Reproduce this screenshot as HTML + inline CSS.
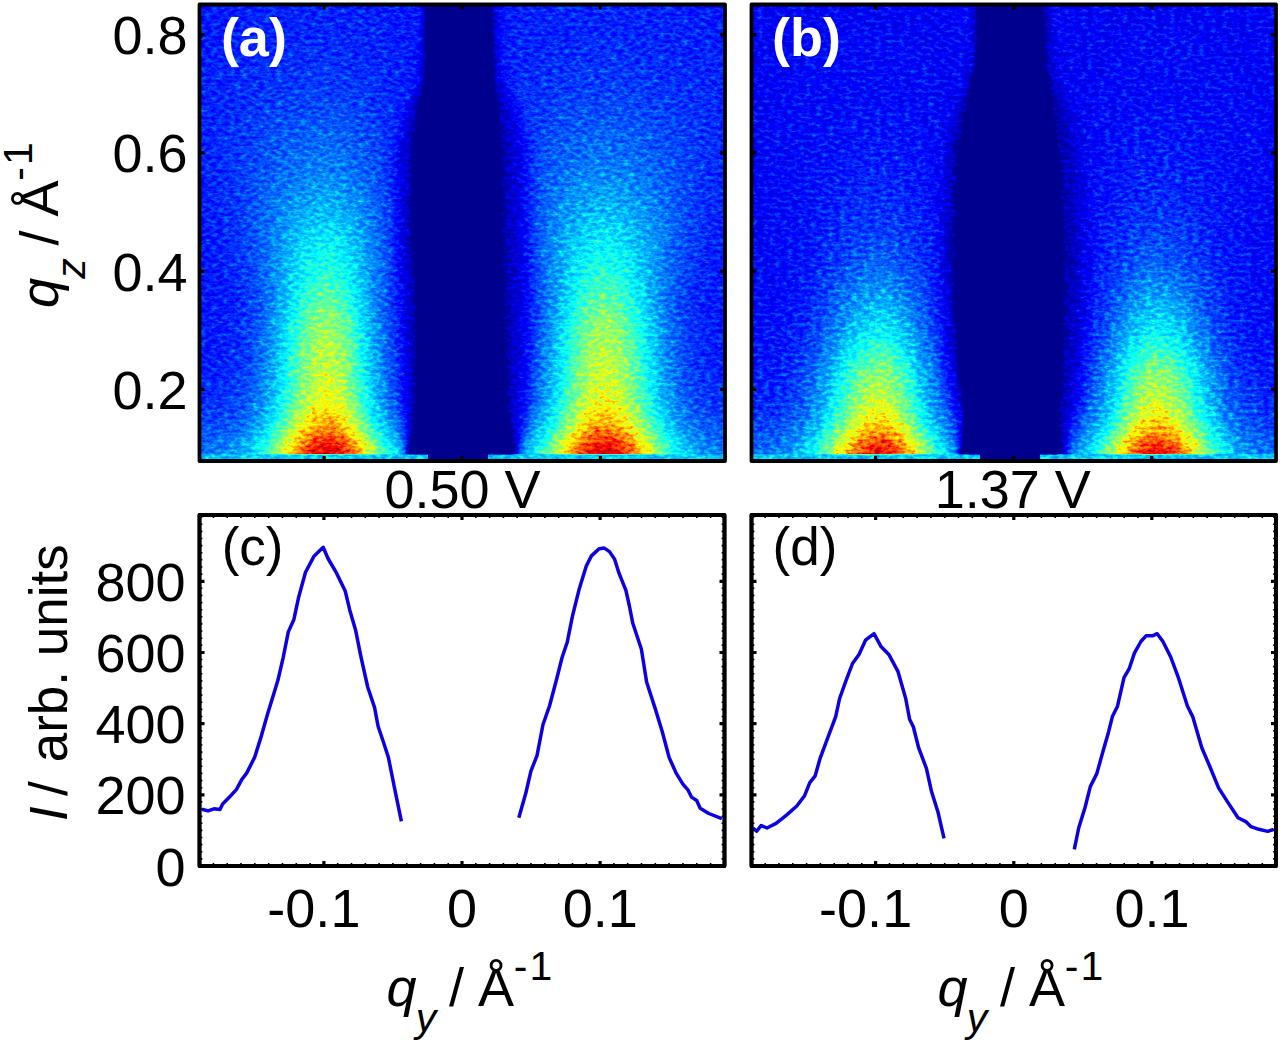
<!DOCTYPE html>
<html><head><meta charset="utf-8"><title>figure</title>
<style>html,body{margin:0;padding:0;background:#fff;}body{width:1280px;height:1042px;overflow:hidden;font-family:"Liberation Sans", sans-serif;}svg{display:block}</style>
</head><body>
<svg width="1280" height="1042" viewBox="0 0 1280 1042" font-family='"Liberation Sans", sans-serif' fill="#000"><defs>
<clipPath id="clipH"><rect x="199.5" y="4.5" width="525.5" height="456.5"/></clipPath>
<filter id="blurG" filterUnits="userSpaceOnUse" x="183.5" y="-11.5" width="560" height="496" color-interpolation-filters="sRGB"><feGaussianBlur stdDeviation="4"/></filter>
<filter id="blurB" filterUnits="userSpaceOnUse" x="183.5" y="-11.5" width="560" height="496" color-interpolation-filters="sRGB"><feGaussianBlur stdDeviation="3.5"/></filter>
<filter id="jetA" filterUnits="userSpaceOnUse" x="183.5" y="-11.5" width="560" height="496" color-interpolation-filters="sRGB">
<feTurbulence type="fractalNoise" baseFrequency="0.17 0.30" numOctaves="3" seed="7" result="t"/>
<feColorMatrix in="t" type="matrix" values="1 0 0 0 0 1 0 0 0 0 1 0 0 0 0 0 0 0 0 1" result="n0"/>
<feComponentTransfer in="n0" result="n"><feFuncR type="gamma" amplitude="1" exponent="1.8" offset="0"/><feFuncG type="gamma" amplitude="1" exponent="1.8" offset="0"/><feFuncB type="gamma" amplitude="1" exponent="1.8" offset="0"/></feComponentTransfer>
<feComposite in="SourceGraphic" in2="n" operator="arithmetic" k1="0.2" k2="0.9390" k3="0.1" k4="-0.0305" result="s"/>
<feComponentTransfer in="s"><feFuncR type="table" tableValues="0 0 0 0 0 0 .5 1 1 1 .5"/><feFuncG type="table" tableValues="0 0 0 0 .5 1 1 1 .5 0 0"/><feFuncB type="table" tableValues=".5625 .5625 .5625 1 1 1 .5 0 0 0 0"/><feFuncA type="linear" slope="0" intercept="1"/></feComponentTransfer>
</filter>
<filter id="jetB" filterUnits="userSpaceOnUse" x="183.5" y="-11.5" width="560" height="496" color-interpolation-filters="sRGB">
<feTurbulence type="fractalNoise" baseFrequency="0.17 0.30" numOctaves="3" seed="23" result="t"/>
<feColorMatrix in="t" type="matrix" values="1 0 0 0 0 1 0 0 0 0 1 0 0 0 0 0 0 0 0 1" result="n0"/>
<feComponentTransfer in="n0" result="n"><feFuncR type="gamma" amplitude="1" exponent="1.8" offset="0"/><feFuncG type="gamma" amplitude="1" exponent="1.8" offset="0"/><feFuncB type="gamma" amplitude="1" exponent="1.8" offset="0"/></feComponentTransfer>
<feComposite in="SourceGraphic" in2="n" operator="arithmetic" k1="0.2" k2="0.9390" k3="0.1" k4="-0.0305" result="s"/>
<feComponentTransfer in="s"><feFuncR type="table" tableValues="0 0 0 0 0 0 .5 1 1 1 .5"/><feFuncG type="table" tableValues="0 0 0 0 .5 1 1 1 .5 0 0"/><feFuncB type="table" tableValues=".5625 .5625 .5625 1 1 1 .5 0 0 0 0"/><feFuncA type="linear" slope="0" intercept="1"/></feComponentTransfer>
</filter>
</defs><g transform="translate(0 0)" clip-path="url(#clipH)">
<g filter="url(#jetA)">
<g filter="url(#blurG)" shape-rendering="crispEdges"><path fill="#3a3a3a" d="M431.5 -11.5h56v8h-56zM431.5 -3.5h56v8h-56zM431.5 4.5h56v8h-56zM431.5 12.5h56v8h-56zM423.5 20.5h64v8h-64zM423.5 28.5h64v8h-64zM423.5 36.5h64v8h-64zM423.5 44.5h64v8h-64zM423.5 52.5h64v8h-64zM423.5 60.5h64v8h-64zM423.5 68.5h72v8h-72zM423.5 76.5h72v8h-72zM423.5 84.5h72v8h-72zM423.5 92.5h72v8h-72zM423.5 100.5h72v8h-72zM415.5 108.5h80v8h-80zM415.5 116.5h80v8h-80zM415.5 124.5h80v8h-80zM415.5 132.5h80v8h-80zM415.5 140.5h88v8h-88zM415.5 148.5h88v8h-88zM415.5 156.5h88v8h-88zM415.5 164.5h88v8h-88zM415.5 172.5h88v8h-88zM415.5 180.5h88v8h-88zM415.5 188.5h88v8h-88zM415.5 196.5h88v8h-88zM415.5 204.5h88v8h-88zM415.5 212.5h88v8h-88zM415.5 220.5h88v8h-88zM415.5 228.5h88v8h-88zM415.5 236.5h88v8h-88zM415.5 244.5h88v8h-88zM415.5 252.5h88v8h-88zM415.5 260.5h88v8h-88zM415.5 268.5h88v8h-88zM415.5 276.5h88v8h-88zM415.5 284.5h88v8h-88zM415.5 292.5h88v8h-88zM415.5 300.5h88v8h-88zM415.5 308.5h88v8h-88zM415.5 316.5h88v8h-88zM415.5 324.5h88v8h-88zM415.5 332.5h88v8h-88zM415.5 340.5h88v8h-88zM415.5 348.5h88v8h-88zM415.5 356.5h88v8h-88zM415.5 364.5h88v8h-88zM415.5 372.5h88v8h-88zM415.5 380.5h88v8h-88zM415.5 388.5h88v8h-88zM415.5 396.5h88v8h-88zM439.5 404.5h40v8h-40z"/><path fill="#3c3c3c" d="M423.5 -11.5h8v8h-8zM423.5 -3.5h8v8h-8zM423.5 4.5h8v8h-8zM423.5 12.5h8v8h-8zM487.5 28.5h8v8h-8zM487.5 36.5h8v8h-8zM487.5 44.5h8v8h-8zM487.5 52.5h8v8h-8zM487.5 60.5h8v8h-8zM415.5 100.5h8v8h-8zM495.5 108.5h8v8h-8zM495.5 116.5h8v8h-8zM495.5 124.5h8v8h-8zM495.5 132.5h8v8h-8zM407.5 140.5h8v8h-8zM407.5 148.5h8v8h-8zM407.5 156.5h8v8h-8zM407.5 164.5h8v8h-8zM407.5 172.5h8v8h-8zM407.5 180.5h8v8h-8zM407.5 188.5h8v8h-8zM407.5 196.5h8v8h-8zM407.5 204.5h8v8h-8zM407.5 212.5h8v8h-8zM407.5 220.5h8v8h-8zM407.5 228.5h8v8h-8zM407.5 236.5h8v8h-8zM503.5 236.5h8v8h-8zM407.5 244.5h8v8h-8zM503.5 244.5h8v8h-8zM407.5 252.5h8v8h-8zM503.5 252.5h8v8h-8zM407.5 260.5h8v8h-8zM503.5 260.5h8v8h-8zM503.5 268.5h8v8h-8zM503.5 276.5h8v8h-8zM503.5 284.5h8v8h-8zM503.5 292.5h8v8h-8zM503.5 300.5h8v8h-8zM503.5 308.5h8v8h-8zM503.5 316.5h8v8h-8zM503.5 324.5h8v8h-8zM503.5 332.5h8v8h-8zM503.5 340.5h8v8h-8zM503.5 348.5h8v8h-8zM503.5 356.5h8v8h-8zM503.5 364.5h8v8h-8zM503.5 372.5h8v8h-8zM503.5 380.5h8v8h-8zM503.5 388.5h8v8h-8zM503.5 396.5h8v8h-8zM415.5 404.5h24v8h-24zM479.5 404.5h32v8h-32zM415.5 412.5h96v8h-96zM415.5 420.5h96v8h-96zM415.5 428.5h88v8h-88zM439.5 436.5h48v8h-48z"/><path fill="#3e3e3e" d="M487.5 4.5h8v8h-8zM487.5 12.5h8v8h-8zM487.5 20.5h8v8h-8zM415.5 92.5h8v8h-8zM495.5 100.5h8v8h-8zM407.5 124.5h8v8h-8zM407.5 132.5h8v8h-8zM503.5 140.5h8v8h-8zM503.5 148.5h8v8h-8zM503.5 156.5h8v8h-8zM503.5 164.5h8v8h-8zM503.5 172.5h8v8h-8zM503.5 180.5h8v8h-8zM503.5 188.5h8v8h-8zM503.5 196.5h8v8h-8zM503.5 204.5h8v8h-8zM503.5 212.5h8v8h-8zM503.5 220.5h8v8h-8zM503.5 228.5h8v8h-8zM407.5 268.5h8v8h-8zM407.5 276.5h8v8h-8zM407.5 284.5h8v8h-8zM407.5 292.5h8v8h-8zM407.5 300.5h8v8h-8zM407.5 308.5h8v8h-8zM407.5 316.5h8v8h-8zM407.5 324.5h8v8h-8zM407.5 332.5h8v8h-8zM503.5 428.5h8v8h-8zM415.5 436.5h24v8h-24zM487.5 436.5h24v8h-24zM415.5 444.5h96v8h-96zM423.5 452.5h80v8h-80zM423.5 460.5h80v8h-80zM423.5 468.5h80v8h-80zM423.5 476.5h80v8h-80z"/><path fill="#404040" d="M487.5 -11.5h8v8h-8zM487.5 -3.5h8v8h-8zM495.5 92.5h8v8h-8zM407.5 116.5h8v8h-8zM503.5 124.5h8v8h-8zM503.5 132.5h8v8h-8zM407.5 340.5h8v8h-8zM407.5 348.5h8v8h-8zM407.5 356.5h8v8h-8zM407.5 364.5h8v8h-8zM407.5 372.5h8v8h-8zM407.5 380.5h8v8h-8zM407.5 388.5h8v8h-8zM407.5 396.5h8v8h-8zM407.5 404.5h8v8h-8zM407.5 412.5h8v8h-8zM407.5 420.5h8v8h-8zM407.5 428.5h8v8h-8zM407.5 436.5h8v8h-8zM407.5 444.5h8v8h-8zM407.5 452.5h16v8h-16zM503.5 452.5h8v8h-8zM407.5 460.5h16v8h-16zM503.5 460.5h8v8h-8zM407.5 468.5h16v8h-16zM503.5 468.5h8v8h-8zM407.5 476.5h16v8h-16zM503.5 476.5h8v8h-8z"/><path fill="#424242" d="M495.5 84.5h8v8h-8zM407.5 108.5h8v8h-8zM503.5 116.5h8v8h-8zM511.5 244.5h8v8h-8zM511.5 252.5h8v8h-8zM511.5 260.5h8v8h-8zM511.5 268.5h8v8h-8zM511.5 276.5h8v8h-8zM511.5 284.5h8v8h-8zM511.5 292.5h8v8h-8zM511.5 300.5h8v8h-8zM511.5 308.5h8v8h-8zM511.5 316.5h8v8h-8zM511.5 324.5h8v8h-8zM511.5 332.5h8v8h-8zM511.5 340.5h8v8h-8zM511.5 348.5h8v8h-8zM511.5 356.5h8v8h-8zM511.5 364.5h8v8h-8zM511.5 372.5h8v8h-8zM511.5 380.5h8v8h-8zM511.5 388.5h8v8h-8zM511.5 396.5h8v8h-8z"/><path fill="#444444" d="M415.5 84.5h8v8h-8zM503.5 108.5h8v8h-8zM399.5 140.5h8v8h-8zM399.5 148.5h8v8h-8zM511.5 148.5h8v8h-8zM399.5 156.5h8v8h-8zM511.5 156.5h8v8h-8zM399.5 164.5h8v8h-8zM511.5 164.5h8v8h-8zM399.5 172.5h8v8h-8zM511.5 172.5h8v8h-8zM399.5 180.5h8v8h-8zM511.5 180.5h8v8h-8zM399.5 188.5h8v8h-8zM511.5 188.5h8v8h-8zM399.5 196.5h8v8h-8zM511.5 196.5h8v8h-8zM399.5 204.5h8v8h-8zM511.5 204.5h8v8h-8zM399.5 212.5h8v8h-8zM511.5 212.5h8v8h-8zM399.5 220.5h8v8h-8zM511.5 220.5h8v8h-8zM399.5 228.5h8v8h-8zM511.5 228.5h8v8h-8zM399.5 236.5h8v8h-8zM511.5 236.5h8v8h-8zM399.5 244.5h8v8h-8zM511.5 404.5h8v8h-8zM511.5 412.5h8v8h-8zM511.5 420.5h8v8h-8z"/><path fill="#464646" d="M407.5 100.5h8v8h-8zM503.5 100.5h8v8h-8zM511.5 140.5h8v8h-8zM399.5 252.5h8v8h-8zM399.5 260.5h8v8h-8zM399.5 268.5h8v8h-8zM511.5 428.5h8v8h-8zM511.5 436.5h8v8h-8zM511.5 444.5h8v8h-8zM511.5 452.5h8v8h-8zM511.5 460.5h8v8h-8zM511.5 468.5h8v8h-8zM511.5 476.5h8v8h-8z"/><path fill="#484848" d="M495.5 76.5h8v8h-8zM511.5 124.5h8v8h-8zM399.5 132.5h8v8h-8zM511.5 132.5h8v8h-8zM399.5 276.5h8v8h-8zM399.5 284.5h8v8h-8zM399.5 292.5h8v8h-8z"/><path fill="#4a4a4a" d="M495.5 68.5h8v8h-8zM503.5 92.5h8v8h-8zM511.5 116.5h8v8h-8zM399.5 124.5h8v8h-8zM519.5 268.5h8v8h-8zM519.5 276.5h8v8h-8zM519.5 284.5h8v8h-8zM519.5 292.5h8v8h-8zM399.5 300.5h8v8h-8zM519.5 300.5h8v8h-8zM399.5 308.5h8v8h-8zM519.5 308.5h8v8h-8zM399.5 316.5h8v8h-8zM519.5 316.5h8v8h-8zM399.5 324.5h8v8h-8zM519.5 324.5h8v8h-8zM399.5 332.5h8v8h-8zM519.5 332.5h8v8h-8zM399.5 340.5h8v8h-8zM519.5 340.5h8v8h-8zM399.5 348.5h8v8h-8zM519.5 348.5h8v8h-8zM519.5 356.5h8v8h-8z"/><path fill="#4c4c4c" d="M495.5 52.5h8v8h-8zM495.5 60.5h8v8h-8zM415.5 76.5h8v8h-8zM407.5 92.5h8v8h-8zM511.5 108.5h8v8h-8zM399.5 116.5h8v8h-8zM519.5 212.5h8v8h-8zM519.5 220.5h8v8h-8zM519.5 228.5h8v8h-8zM519.5 236.5h8v8h-8zM519.5 244.5h8v8h-8zM519.5 252.5h8v8h-8zM519.5 260.5h8v8h-8zM399.5 356.5h8v8h-8zM399.5 364.5h8v8h-8zM519.5 364.5h8v8h-8zM399.5 372.5h8v8h-8zM519.5 372.5h8v8h-8zM399.5 380.5h8v8h-8zM519.5 380.5h8v8h-8zM519.5 388.5h8v8h-8z"/><path fill="#4e4e4e" d="M495.5 36.5h8v8h-8zM495.5 44.5h8v8h-8zM415.5 60.5h8v8h-8zM415.5 68.5h8v8h-8zM399.5 108.5h8v8h-8zM519.5 140.5h8v8h-8zM391.5 148.5h8v8h-8zM519.5 148.5h8v8h-8zM391.5 156.5h8v8h-8zM519.5 156.5h8v8h-8zM391.5 164.5h8v8h-8zM519.5 164.5h8v8h-8zM391.5 172.5h8v8h-8zM519.5 172.5h8v8h-8zM519.5 180.5h8v8h-8zM519.5 188.5h8v8h-8zM519.5 196.5h8v8h-8zM519.5 204.5h8v8h-8zM399.5 388.5h8v8h-8zM399.5 396.5h8v8h-8zM519.5 396.5h8v8h-8z"/><path fill="#505050" d="M495.5 20.5h8v8h-8zM495.5 28.5h8v8h-8zM415.5 44.5h8v8h-8zM415.5 52.5h8v8h-8zM503.5 84.5h8v8h-8zM511.5 100.5h8v8h-8zM519.5 132.5h8v8h-8zM391.5 140.5h8v8h-8zM391.5 180.5h8v8h-8zM391.5 188.5h8v8h-8zM391.5 196.5h8v8h-8zM391.5 204.5h8v8h-8zM391.5 212.5h8v8h-8zM391.5 220.5h8v8h-8zM391.5 228.5h8v8h-8zM391.5 236.5h8v8h-8zM183.5 268.5h16v8h-16zM183.5 276.5h16v8h-16zM183.5 284.5h24v8h-24zM183.5 292.5h24v8h-24zM183.5 300.5h24v8h-24zM183.5 308.5h16v8h-16zM399.5 404.5h8v8h-8zM519.5 404.5h8v8h-8z"/><path fill="#525252" d="M183.5 -11.5h72v8h-72zM367.5 -11.5h56v8h-56zM495.5 -11.5h40v8h-40zM679.5 -11.5h64v8h-64zM183.5 -3.5h72v8h-72zM367.5 -3.5h56v8h-56zM495.5 -3.5h40v8h-40zM679.5 -3.5h64v8h-64zM183.5 4.5h64v8h-64zM367.5 4.5h56v8h-56zM495.5 4.5h32v8h-32zM679.5 4.5h64v8h-64zM183.5 12.5h56v8h-56zM375.5 12.5h48v8h-48zM495.5 12.5h24v8h-24zM695.5 12.5h48v8h-48zM183.5 20.5h48v8h-48zM383.5 20.5h40v8h-40zM503.5 20.5h8v8h-8zM703.5 20.5h40v8h-40zM183.5 28.5h40v8h-40zM383.5 28.5h40v8h-40zM711.5 28.5h32v8h-32zM183.5 36.5h40v8h-40zM391.5 36.5h32v8h-32zM711.5 36.5h32v8h-32zM183.5 44.5h32v8h-32zM391.5 44.5h24v8h-24zM719.5 44.5h24v8h-24zM183.5 52.5h24v8h-24zM399.5 52.5h16v8h-16zM183.5 60.5h24v8h-24zM399.5 60.5h16v8h-16zM183.5 68.5h16v8h-16zM407.5 68.5h8v8h-8zM407.5 76.5h8v8h-8zM407.5 84.5h8v8h-8zM399.5 100.5h8v8h-8zM519.5 124.5h8v8h-8zM391.5 132.5h8v8h-8zM183.5 172.5h16v8h-16zM183.5 180.5h16v8h-16zM183.5 188.5h24v8h-24zM183.5 196.5h24v8h-24zM183.5 204.5h24v8h-24zM183.5 212.5h24v8h-24zM183.5 220.5h24v8h-24zM183.5 228.5h32v8h-32zM719.5 228.5h24v8h-24zM183.5 236.5h32v8h-32zM719.5 236.5h24v8h-24zM183.5 244.5h32v8h-32zM391.5 244.5h8v8h-8zM719.5 244.5h24v8h-24zM183.5 252.5h32v8h-32zM391.5 252.5h8v8h-8zM719.5 252.5h24v8h-24zM183.5 260.5h40v8h-40zM391.5 260.5h8v8h-8zM711.5 260.5h32v8h-32zM199.5 268.5h24v8h-24zM391.5 268.5h8v8h-8zM711.5 268.5h32v8h-32zM199.5 276.5h24v8h-24zM711.5 276.5h32v8h-32zM207.5 284.5h16v8h-16zM711.5 284.5h32v8h-32zM207.5 292.5h24v8h-24zM703.5 292.5h40v8h-40zM207.5 300.5h24v8h-24zM703.5 300.5h40v8h-40zM199.5 308.5h32v8h-32zM703.5 308.5h40v8h-40zM183.5 316.5h40v8h-40zM711.5 316.5h32v8h-32zM183.5 324.5h40v8h-40zM711.5 324.5h32v8h-32zM183.5 332.5h40v8h-40zM711.5 332.5h32v8h-32zM183.5 340.5h40v8h-40zM711.5 340.5h32v8h-32zM183.5 348.5h40v8h-40zM711.5 348.5h32v8h-32zM183.5 356.5h32v8h-32zM719.5 356.5h24v8h-24zM183.5 364.5h24v8h-24zM519.5 412.5h8v8h-8z"/><path fill="#545454" d="M255.5 -11.5h112v8h-112zM535.5 -11.5h144v8h-144zM255.5 -3.5h112v8h-112zM535.5 -3.5h144v8h-144zM247.5 4.5h120v8h-120zM527.5 4.5h152v8h-152zM239.5 12.5h136v8h-136zM519.5 12.5h176v8h-176zM231.5 20.5h152v8h-152zM511.5 20.5h192v8h-192zM223.5 28.5h160v8h-160zM503.5 28.5h208v8h-208zM223.5 36.5h72v8h-72zM343.5 36.5h48v8h-48zM503.5 36.5h72v8h-72zM631.5 36.5h80v8h-80zM215.5 44.5h64v8h-64zM351.5 44.5h40v8h-40zM503.5 44.5h56v8h-56zM655.5 44.5h64v8h-64zM207.5 52.5h56v8h-56zM367.5 52.5h32v8h-32zM503.5 52.5h40v8h-40zM671.5 52.5h72v8h-72zM207.5 60.5h40v8h-40zM375.5 60.5h24v8h-24zM503.5 60.5h24v8h-24zM687.5 60.5h56v8h-56zM199.5 68.5h40v8h-40zM383.5 68.5h24v8h-24zM503.5 68.5h16v8h-16zM695.5 68.5h48v8h-48zM183.5 76.5h48v8h-48zM383.5 76.5h24v8h-24zM503.5 76.5h8v8h-8zM703.5 76.5h40v8h-40zM183.5 84.5h48v8h-48zM391.5 84.5h16v8h-16zM703.5 84.5h40v8h-40zM183.5 92.5h48v8h-48zM391.5 92.5h16v8h-16zM511.5 92.5h8v8h-8zM711.5 92.5h32v8h-32zM183.5 100.5h40v8h-40zM391.5 100.5h8v8h-8zM711.5 100.5h32v8h-32zM183.5 108.5h40v8h-40zM719.5 108.5h24v8h-24zM183.5 116.5h32v8h-32zM519.5 116.5h8v8h-8zM719.5 116.5h24v8h-24zM183.5 124.5h32v8h-32zM391.5 124.5h8v8h-8zM719.5 124.5h24v8h-24zM183.5 132.5h32v8h-32zM719.5 132.5h24v8h-24zM183.5 140.5h32v8h-32zM719.5 140.5h24v8h-24zM183.5 148.5h32v8h-32zM719.5 148.5h24v8h-24zM183.5 156.5h32v8h-32zM719.5 156.5h24v8h-24zM183.5 164.5h32v8h-32zM719.5 164.5h24v8h-24zM199.5 172.5h16v8h-16zM719.5 172.5h24v8h-24zM199.5 180.5h16v8h-16zM719.5 180.5h24v8h-24zM207.5 188.5h8v8h-8zM719.5 188.5h24v8h-24zM207.5 196.5h8v8h-8zM719.5 196.5h24v8h-24zM207.5 204.5h16v8h-16zM711.5 204.5h32v8h-32zM207.5 212.5h16v8h-16zM711.5 212.5h32v8h-32zM207.5 220.5h16v8h-16zM711.5 220.5h32v8h-32zM215.5 228.5h8v8h-8zM711.5 228.5h8v8h-8zM215.5 236.5h8v8h-8zM711.5 236.5h8v8h-8zM215.5 244.5h16v8h-16zM703.5 244.5h16v8h-16zM215.5 252.5h16v8h-16zM703.5 252.5h16v8h-16zM223.5 260.5h8v8h-8zM703.5 260.5h8v8h-8zM223.5 268.5h8v8h-8zM527.5 268.5h8v8h-8zM703.5 268.5h8v8h-8zM223.5 276.5h8v8h-8zM391.5 276.5h8v8h-8zM527.5 276.5h8v8h-8zM703.5 276.5h8v8h-8zM223.5 284.5h16v8h-16zM391.5 284.5h8v8h-8zM527.5 284.5h8v8h-8zM695.5 284.5h16v8h-16zM231.5 292.5h8v8h-8zM391.5 292.5h8v8h-8zM527.5 292.5h8v8h-8zM695.5 292.5h8v8h-8zM231.5 300.5h8v8h-8zM391.5 300.5h8v8h-8zM527.5 300.5h8v8h-8zM695.5 300.5h8v8h-8zM231.5 308.5h8v8h-8zM527.5 308.5h8v8h-8zM695.5 308.5h8v8h-8zM223.5 316.5h16v8h-16zM527.5 316.5h8v8h-8zM695.5 316.5h16v8h-16zM223.5 324.5h16v8h-16zM527.5 324.5h8v8h-8zM695.5 324.5h16v8h-16zM223.5 332.5h8v8h-8zM527.5 332.5h8v8h-8zM703.5 332.5h8v8h-8zM223.5 340.5h8v8h-8zM703.5 340.5h8v8h-8zM223.5 348.5h8v8h-8zM703.5 348.5h8v8h-8zM215.5 356.5h16v8h-16zM703.5 356.5h16v8h-16zM207.5 364.5h16v8h-16zM711.5 364.5h32v8h-32zM183.5 372.5h40v8h-40zM711.5 372.5h32v8h-32zM183.5 380.5h32v8h-32zM719.5 380.5h24v8h-24zM183.5 388.5h24v8h-24zM399.5 412.5h8v8h-8z"/><path fill="#565656" d="M295.5 36.5h48v8h-48zM575.5 36.5h56v8h-56zM279.5 44.5h72v8h-72zM559.5 44.5h96v8h-96zM263.5 52.5h104v8h-104zM543.5 52.5h128v8h-128zM247.5 60.5h64v8h-64zM335.5 60.5h40v8h-40zM527.5 60.5h56v8h-56zM623.5 60.5h64v8h-64zM239.5 68.5h40v8h-40zM351.5 68.5h32v8h-32zM519.5 68.5h40v8h-40zM647.5 68.5h48v8h-48zM231.5 76.5h40v8h-40zM367.5 76.5h16v8h-16zM511.5 76.5h32v8h-32zM663.5 76.5h40v8h-40zM231.5 84.5h32v8h-32zM367.5 84.5h24v8h-24zM511.5 84.5h24v8h-24zM671.5 84.5h32v8h-32zM231.5 92.5h24v8h-24zM375.5 92.5h16v8h-16zM519.5 92.5h16v8h-16zM679.5 92.5h32v8h-32zM223.5 100.5h24v8h-24zM375.5 100.5h16v8h-16zM519.5 100.5h8v8h-8zM687.5 100.5h24v8h-24zM223.5 108.5h16v8h-16zM383.5 108.5h16v8h-16zM519.5 108.5h8v8h-8zM695.5 108.5h24v8h-24zM215.5 116.5h24v8h-24zM383.5 116.5h16v8h-16zM695.5 116.5h24v8h-24zM215.5 124.5h16v8h-16zM703.5 124.5h16v8h-16zM215.5 132.5h16v8h-16zM703.5 132.5h16v8h-16zM215.5 140.5h16v8h-16zM527.5 140.5h8v8h-8zM703.5 140.5h16v8h-16zM215.5 148.5h16v8h-16zM527.5 148.5h8v8h-8zM703.5 148.5h16v8h-16zM215.5 156.5h16v8h-16zM527.5 156.5h8v8h-8zM703.5 156.5h16v8h-16zM215.5 164.5h16v8h-16zM527.5 164.5h8v8h-8zM703.5 164.5h16v8h-16zM215.5 172.5h16v8h-16zM527.5 172.5h8v8h-8zM703.5 172.5h16v8h-16zM215.5 180.5h16v8h-16zM527.5 180.5h8v8h-8zM703.5 180.5h16v8h-16zM215.5 188.5h16v8h-16zM527.5 188.5h8v8h-8zM703.5 188.5h16v8h-16zM215.5 196.5h16v8h-16zM527.5 196.5h8v8h-8zM703.5 196.5h16v8h-16zM223.5 204.5h8v8h-8zM527.5 204.5h8v8h-8zM703.5 204.5h8v8h-8zM223.5 212.5h8v8h-8zM527.5 212.5h8v8h-8zM703.5 212.5h8v8h-8zM223.5 220.5h8v8h-8zM527.5 220.5h8v8h-8zM703.5 220.5h8v8h-8zM223.5 228.5h8v8h-8zM527.5 228.5h8v8h-8zM703.5 228.5h8v8h-8zM223.5 236.5h8v8h-8zM527.5 236.5h8v8h-8zM703.5 236.5h8v8h-8zM231.5 244.5h8v8h-8zM527.5 244.5h8v8h-8zM695.5 244.5h8v8h-8zM231.5 252.5h8v8h-8zM527.5 252.5h8v8h-8zM695.5 252.5h8v8h-8zM231.5 260.5h8v8h-8zM527.5 260.5h8v8h-8zM695.5 260.5h8v8h-8zM231.5 268.5h8v8h-8zM695.5 268.5h8v8h-8zM231.5 276.5h8v8h-8zM695.5 276.5h8v8h-8zM687.5 284.5h8v8h-8zM239.5 292.5h8v8h-8zM687.5 292.5h8v8h-8zM239.5 300.5h8v8h-8zM687.5 300.5h8v8h-8zM239.5 308.5h8v8h-8zM391.5 308.5h8v8h-8zM687.5 308.5h8v8h-8zM391.5 316.5h8v8h-8zM391.5 324.5h8v8h-8zM231.5 332.5h8v8h-8zM391.5 332.5h8v8h-8zM695.5 332.5h8v8h-8zM231.5 340.5h8v8h-8zM527.5 340.5h8v8h-8zM695.5 340.5h8v8h-8zM231.5 348.5h8v8h-8zM527.5 348.5h8v8h-8zM695.5 348.5h8v8h-8zM231.5 356.5h8v8h-8zM527.5 356.5h8v8h-8zM695.5 356.5h8v8h-8zM223.5 364.5h16v8h-16zM695.5 364.5h16v8h-16zM223.5 372.5h8v8h-8zM703.5 372.5h8v8h-8zM215.5 380.5h16v8h-16zM703.5 380.5h16v8h-16zM207.5 388.5h16v8h-16zM711.5 388.5h32v8h-32zM183.5 396.5h40v8h-40zM711.5 396.5h32v8h-32zM519.5 420.5h8v8h-8z"/><path fill="#585858" d="M311.5 60.5h24v8h-24zM583.5 60.5h40v8h-40zM279.5 68.5h72v8h-72zM559.5 68.5h88v8h-88zM271.5 76.5h96v8h-96zM543.5 76.5h120v8h-120zM263.5 84.5h32v8h-32zM343.5 84.5h24v8h-24zM535.5 84.5h40v8h-40zM631.5 84.5h40v8h-40zM255.5 92.5h24v8h-24zM351.5 92.5h24v8h-24zM535.5 92.5h24v8h-24zM647.5 92.5h32v8h-32zM247.5 100.5h24v8h-24zM367.5 100.5h8v8h-8zM527.5 100.5h24v8h-24zM663.5 100.5h24v8h-24zM239.5 108.5h24v8h-24zM367.5 108.5h16v8h-16zM527.5 108.5h8v8h-8zM671.5 108.5h24v8h-24zM239.5 116.5h16v8h-16zM375.5 116.5h8v8h-8zM527.5 116.5h8v8h-8zM679.5 116.5h16v8h-16zM231.5 124.5h16v8h-16zM375.5 124.5h16v8h-16zM527.5 124.5h8v8h-8zM687.5 124.5h16v8h-16zM231.5 132.5h16v8h-16zM383.5 132.5h8v8h-8zM527.5 132.5h8v8h-8zM687.5 132.5h16v8h-16zM231.5 140.5h16v8h-16zM383.5 140.5h8v8h-8zM687.5 140.5h16v8h-16zM231.5 148.5h8v8h-8zM383.5 148.5h8v8h-8zM695.5 148.5h8v8h-8zM231.5 156.5h8v8h-8zM383.5 156.5h8v8h-8zM695.5 156.5h8v8h-8zM231.5 164.5h8v8h-8zM383.5 164.5h8v8h-8zM695.5 164.5h8v8h-8zM231.5 172.5h8v8h-8zM383.5 172.5h8v8h-8zM695.5 172.5h8v8h-8zM231.5 180.5h8v8h-8zM695.5 180.5h8v8h-8zM231.5 188.5h8v8h-8zM695.5 188.5h8v8h-8zM231.5 196.5h8v8h-8zM695.5 196.5h8v8h-8zM231.5 204.5h8v8h-8zM695.5 204.5h8v8h-8zM231.5 212.5h8v8h-8zM695.5 212.5h8v8h-8zM231.5 220.5h8v8h-8zM695.5 220.5h8v8h-8zM231.5 228.5h8v8h-8zM695.5 228.5h8v8h-8zM231.5 236.5h8v8h-8zM695.5 236.5h8v8h-8zM239.5 252.5h8v8h-8zM687.5 252.5h8v8h-8zM239.5 260.5h8v8h-8zM687.5 260.5h8v8h-8zM239.5 268.5h8v8h-8zM687.5 268.5h8v8h-8zM239.5 276.5h8v8h-8zM687.5 276.5h8v8h-8zM239.5 284.5h8v8h-8zM239.5 316.5h8v8h-8zM687.5 316.5h8v8h-8zM239.5 324.5h8v8h-8zM687.5 324.5h8v8h-8zM239.5 332.5h8v8h-8zM687.5 332.5h8v8h-8zM239.5 340.5h8v8h-8zM391.5 340.5h8v8h-8zM687.5 340.5h8v8h-8zM239.5 348.5h8v8h-8zM391.5 348.5h8v8h-8zM687.5 348.5h8v8h-8zM239.5 356.5h8v8h-8zM391.5 356.5h8v8h-8zM687.5 356.5h8v8h-8zM527.5 364.5h8v8h-8zM231.5 372.5h8v8h-8zM527.5 372.5h8v8h-8zM695.5 372.5h8v8h-8zM231.5 380.5h8v8h-8zM527.5 380.5h8v8h-8zM695.5 380.5h8v8h-8zM223.5 388.5h8v8h-8zM703.5 388.5h8v8h-8zM223.5 396.5h8v8h-8zM703.5 396.5h8v8h-8zM183.5 404.5h40v8h-40zM711.5 404.5h32v8h-32zM399.5 420.5h8v8h-8z"/><path fill="#5a5a5a" d="M295.5 84.5h48v8h-48zM575.5 84.5h56v8h-56zM279.5 92.5h72v8h-72zM559.5 92.5h88v8h-88zM271.5 100.5h32v8h-32zM343.5 100.5h24v8h-24zM551.5 100.5h24v8h-24zM631.5 100.5h32v8h-32zM263.5 108.5h16v8h-16zM359.5 108.5h8v8h-8zM535.5 108.5h24v8h-24zM647.5 108.5h24v8h-24zM255.5 116.5h16v8h-16zM367.5 116.5h8v8h-8zM535.5 116.5h16v8h-16zM663.5 116.5h16v8h-16zM247.5 124.5h16v8h-16zM367.5 124.5h8v8h-8zM535.5 124.5h8v8h-8zM671.5 124.5h16v8h-16zM247.5 132.5h16v8h-16zM375.5 132.5h8v8h-8zM671.5 132.5h16v8h-16zM247.5 140.5h8v8h-8zM375.5 140.5h8v8h-8zM679.5 140.5h8v8h-8zM239.5 148.5h16v8h-16zM375.5 148.5h8v8h-8zM679.5 148.5h16v8h-16zM239.5 156.5h16v8h-16zM679.5 156.5h16v8h-16zM239.5 164.5h8v8h-8zM679.5 164.5h16v8h-16zM239.5 172.5h8v8h-8zM687.5 172.5h8v8h-8zM239.5 180.5h8v8h-8zM383.5 180.5h8v8h-8zM687.5 180.5h8v8h-8zM239.5 188.5h8v8h-8zM383.5 188.5h8v8h-8zM687.5 188.5h8v8h-8zM239.5 196.5h8v8h-8zM383.5 196.5h8v8h-8zM687.5 196.5h8v8h-8zM239.5 204.5h8v8h-8zM383.5 204.5h8v8h-8zM687.5 204.5h8v8h-8zM239.5 212.5h8v8h-8zM687.5 212.5h8v8h-8zM239.5 220.5h8v8h-8zM687.5 220.5h8v8h-8zM239.5 228.5h8v8h-8zM687.5 228.5h8v8h-8zM239.5 236.5h8v8h-8zM687.5 236.5h8v8h-8zM239.5 244.5h8v8h-8zM687.5 244.5h8v8h-8zM247.5 276.5h8v8h-8zM679.5 276.5h8v8h-8zM247.5 284.5h8v8h-8zM679.5 284.5h8v8h-8zM247.5 292.5h8v8h-8zM679.5 292.5h8v8h-8zM247.5 300.5h8v8h-8zM679.5 300.5h8v8h-8zM247.5 308.5h8v8h-8zM679.5 308.5h8v8h-8zM247.5 316.5h8v8h-8zM679.5 316.5h8v8h-8zM679.5 324.5h8v8h-8zM239.5 364.5h8v8h-8zM391.5 364.5h8v8h-8zM687.5 364.5h8v8h-8zM239.5 372.5h8v8h-8zM391.5 372.5h8v8h-8zM687.5 372.5h8v8h-8zM391.5 380.5h8v8h-8zM231.5 388.5h8v8h-8zM527.5 388.5h8v8h-8zM695.5 388.5h8v8h-8zM231.5 396.5h8v8h-8zM527.5 396.5h8v8h-8zM695.5 396.5h8v8h-8zM223.5 404.5h8v8h-8zM703.5 404.5h8v8h-8zM183.5 412.5h40v8h-40zM711.5 412.5h32v8h-32z"/><path fill="#5c5c5c" d="M303.5 100.5h40v8h-40zM575.5 100.5h56v8h-56zM279.5 108.5h80v8h-80zM559.5 108.5h88v8h-88zM271.5 116.5h24v8h-24zM351.5 116.5h16v8h-16zM551.5 116.5h16v8h-16zM639.5 116.5h24v8h-24zM263.5 124.5h16v8h-16zM359.5 124.5h8v8h-8zM543.5 124.5h16v8h-16zM647.5 124.5h24v8h-24zM263.5 132.5h8v8h-8zM359.5 132.5h16v8h-16zM535.5 132.5h16v8h-16zM655.5 132.5h16v8h-16zM255.5 140.5h16v8h-16zM367.5 140.5h8v8h-8zM535.5 140.5h8v8h-8zM663.5 140.5h16v8h-16zM255.5 148.5h8v8h-8zM367.5 148.5h8v8h-8zM535.5 148.5h8v8h-8zM671.5 148.5h8v8h-8zM255.5 156.5h8v8h-8zM375.5 156.5h8v8h-8zM535.5 156.5h8v8h-8zM671.5 156.5h8v8h-8zM247.5 164.5h16v8h-16zM375.5 164.5h8v8h-8zM535.5 164.5h8v8h-8zM671.5 164.5h8v8h-8zM247.5 172.5h8v8h-8zM375.5 172.5h8v8h-8zM679.5 172.5h8v8h-8zM247.5 180.5h8v8h-8zM679.5 180.5h8v8h-8zM247.5 188.5h8v8h-8zM679.5 188.5h8v8h-8zM247.5 196.5h8v8h-8zM679.5 196.5h8v8h-8zM247.5 204.5h8v8h-8zM679.5 204.5h8v8h-8zM383.5 212.5h8v8h-8zM679.5 212.5h8v8h-8zM383.5 220.5h8v8h-8zM679.5 220.5h8v8h-8zM247.5 228.5h8v8h-8zM383.5 228.5h8v8h-8zM679.5 228.5h8v8h-8zM247.5 236.5h8v8h-8zM383.5 236.5h8v8h-8zM679.5 236.5h8v8h-8zM247.5 244.5h8v8h-8zM383.5 244.5h8v8h-8zM679.5 244.5h8v8h-8zM247.5 252.5h8v8h-8zM679.5 252.5h8v8h-8zM247.5 260.5h8v8h-8zM679.5 260.5h8v8h-8zM247.5 268.5h8v8h-8zM679.5 268.5h8v8h-8zM383.5 292.5h8v8h-8zM383.5 300.5h8v8h-8zM247.5 324.5h8v8h-8zM247.5 332.5h8v8h-8zM679.5 332.5h8v8h-8zM247.5 340.5h8v8h-8zM679.5 340.5h8v8h-8zM247.5 348.5h8v8h-8zM679.5 348.5h8v8h-8zM247.5 356.5h8v8h-8zM679.5 356.5h8v8h-8zM239.5 380.5h8v8h-8zM687.5 380.5h8v8h-8zM239.5 388.5h8v8h-8zM391.5 388.5h8v8h-8zM687.5 388.5h8v8h-8zM687.5 396.5h8v8h-8zM231.5 404.5h8v8h-8zM695.5 404.5h8v8h-8zM223.5 412.5h8v8h-8zM703.5 412.5h8v8h-8zM183.5 420.5h40v8h-40zM719.5 420.5h24v8h-24zM399.5 428.5h8v8h-8zM519.5 428.5h8v8h-8z"/><path fill="#5e5e5e" d="M295.5 116.5h56v8h-56zM567.5 116.5h72v8h-72zM279.5 124.5h24v8h-24zM343.5 124.5h16v8h-16zM559.5 124.5h24v8h-24zM623.5 124.5h24v8h-24zM271.5 132.5h16v8h-16zM351.5 132.5h8v8h-8zM551.5 132.5h16v8h-16zM639.5 132.5h16v8h-16zM271.5 140.5h8v8h-8zM359.5 140.5h8v8h-8zM543.5 140.5h16v8h-16zM647.5 140.5h16v8h-16zM263.5 148.5h16v8h-16zM359.5 148.5h8v8h-8zM543.5 148.5h8v8h-8zM655.5 148.5h16v8h-16zM263.5 156.5h8v8h-8zM367.5 156.5h8v8h-8zM543.5 156.5h8v8h-8zM663.5 156.5h8v8h-8zM263.5 164.5h8v8h-8zM367.5 164.5h8v8h-8zM663.5 164.5h8v8h-8zM255.5 172.5h8v8h-8zM535.5 172.5h8v8h-8zM671.5 172.5h8v8h-8zM255.5 180.5h8v8h-8zM375.5 180.5h8v8h-8zM535.5 180.5h8v8h-8zM671.5 180.5h8v8h-8zM255.5 188.5h8v8h-8zM375.5 188.5h8v8h-8zM535.5 188.5h8v8h-8zM671.5 188.5h8v8h-8zM375.5 196.5h8v8h-8zM535.5 196.5h8v8h-8zM247.5 212.5h8v8h-8zM247.5 220.5h8v8h-8zM383.5 252.5h8v8h-8zM383.5 260.5h8v8h-8zM383.5 268.5h8v8h-8zM535.5 268.5h8v8h-8zM671.5 268.5h8v8h-8zM383.5 276.5h8v8h-8zM535.5 276.5h8v8h-8zM671.5 276.5h8v8h-8zM255.5 284.5h8v8h-8zM383.5 284.5h8v8h-8zM535.5 284.5h8v8h-8zM671.5 284.5h8v8h-8zM255.5 292.5h8v8h-8zM535.5 292.5h8v8h-8zM671.5 292.5h8v8h-8zM255.5 300.5h8v8h-8zM535.5 300.5h8v8h-8zM671.5 300.5h8v8h-8zM255.5 308.5h8v8h-8zM383.5 308.5h8v8h-8zM535.5 308.5h8v8h-8zM671.5 308.5h8v8h-8zM383.5 316.5h8v8h-8zM671.5 316.5h8v8h-8zM383.5 324.5h8v8h-8zM247.5 364.5h8v8h-8zM679.5 364.5h8v8h-8zM247.5 372.5h8v8h-8zM679.5 372.5h8v8h-8zM679.5 380.5h8v8h-8zM239.5 396.5h8v8h-8zM391.5 396.5h8v8h-8zM527.5 404.5h8v8h-8zM231.5 412.5h8v8h-8zM695.5 412.5h8v8h-8zM223.5 420.5h8v8h-8zM703.5 420.5h16v8h-16zM183.5 428.5h32v8h-32zM719.5 428.5h24v8h-24z"/><path fill="#606060" d="M303.5 124.5h40v8h-40zM583.5 124.5h40v8h-40zM287.5 132.5h32v8h-32zM335.5 132.5h16v8h-16zM567.5 132.5h24v8h-24zM615.5 132.5h24v8h-24zM279.5 140.5h16v8h-16zM343.5 140.5h16v8h-16zM559.5 140.5h16v8h-16zM631.5 140.5h16v8h-16zM279.5 148.5h8v8h-8zM351.5 148.5h8v8h-8zM551.5 148.5h16v8h-16zM639.5 148.5h16v8h-16zM271.5 156.5h16v8h-16zM359.5 156.5h8v8h-8zM551.5 156.5h8v8h-8zM647.5 156.5h16v8h-16zM271.5 164.5h8v8h-8zM359.5 164.5h8v8h-8zM543.5 164.5h16v8h-16zM655.5 164.5h8v8h-8zM263.5 172.5h8v8h-8zM367.5 172.5h8v8h-8zM543.5 172.5h8v8h-8zM663.5 172.5h8v8h-8zM263.5 180.5h8v8h-8zM367.5 180.5h8v8h-8zM663.5 180.5h8v8h-8zM663.5 188.5h8v8h-8zM255.5 196.5h8v8h-8zM671.5 196.5h8v8h-8zM255.5 204.5h8v8h-8zM375.5 204.5h8v8h-8zM535.5 204.5h8v8h-8zM671.5 204.5h8v8h-8zM255.5 212.5h8v8h-8zM375.5 212.5h8v8h-8zM535.5 212.5h8v8h-8zM671.5 212.5h8v8h-8zM255.5 220.5h8v8h-8zM535.5 220.5h8v8h-8zM671.5 220.5h8v8h-8zM255.5 228.5h8v8h-8zM535.5 228.5h8v8h-8zM671.5 228.5h8v8h-8zM255.5 236.5h8v8h-8zM535.5 236.5h8v8h-8zM671.5 236.5h8v8h-8zM255.5 244.5h8v8h-8zM535.5 244.5h8v8h-8zM671.5 244.5h8v8h-8zM255.5 252.5h8v8h-8zM535.5 252.5h8v8h-8zM671.5 252.5h8v8h-8zM255.5 260.5h8v8h-8zM535.5 260.5h8v8h-8zM671.5 260.5h8v8h-8zM255.5 268.5h8v8h-8zM255.5 276.5h8v8h-8zM255.5 316.5h8v8h-8zM535.5 316.5h8v8h-8zM255.5 324.5h8v8h-8zM535.5 324.5h8v8h-8zM671.5 324.5h8v8h-8zM255.5 332.5h8v8h-8zM383.5 332.5h8v8h-8zM535.5 332.5h8v8h-8zM671.5 332.5h8v8h-8zM383.5 340.5h8v8h-8zM671.5 340.5h8v8h-8zM383.5 348.5h8v8h-8zM671.5 348.5h8v8h-8zM383.5 356.5h8v8h-8zM247.5 380.5h8v8h-8zM247.5 388.5h8v8h-8zM679.5 388.5h8v8h-8zM239.5 404.5h8v8h-8zM391.5 404.5h8v8h-8zM687.5 404.5h8v8h-8zM231.5 420.5h8v8h-8zM695.5 420.5h8v8h-8zM215.5 428.5h8v8h-8zM711.5 428.5h8v8h-8zM183.5 436.5h24v8h-24z"/><path fill="#626262" d="M319.5 132.5h16v8h-16zM591.5 132.5h24v8h-24zM295.5 140.5h48v8h-48zM575.5 140.5h56v8h-56zM287.5 148.5h16v8h-16zM343.5 148.5h8v8h-8zM567.5 148.5h16v8h-16zM623.5 148.5h16v8h-16zM287.5 156.5h8v8h-8zM351.5 156.5h8v8h-8zM559.5 156.5h16v8h-16zM639.5 156.5h8v8h-8zM279.5 164.5h8v8h-8zM351.5 164.5h8v8h-8zM559.5 164.5h8v8h-8zM639.5 164.5h16v8h-16zM271.5 172.5h8v8h-8zM359.5 172.5h8v8h-8zM551.5 172.5h8v8h-8zM647.5 172.5h16v8h-16zM271.5 180.5h8v8h-8zM543.5 180.5h8v8h-8zM655.5 180.5h8v8h-8zM263.5 188.5h8v8h-8zM367.5 188.5h8v8h-8zM543.5 188.5h8v8h-8zM263.5 196.5h8v8h-8zM367.5 196.5h8v8h-8zM543.5 196.5h8v8h-8zM663.5 196.5h8v8h-8zM263.5 204.5h8v8h-8zM663.5 204.5h8v8h-8zM663.5 212.5h8v8h-8zM375.5 220.5h8v8h-8zM375.5 228.5h8v8h-8zM375.5 236.5h8v8h-8zM375.5 244.5h8v8h-8zM375.5 252.5h8v8h-8zM375.5 268.5h8v8h-8zM375.5 292.5h8v8h-8zM663.5 292.5h8v8h-8zM663.5 300.5h8v8h-8zM255.5 340.5h8v8h-8zM535.5 340.5h8v8h-8zM255.5 348.5h8v8h-8zM535.5 348.5h8v8h-8zM255.5 356.5h8v8h-8zM535.5 356.5h8v8h-8zM671.5 356.5h8v8h-8zM383.5 364.5h8v8h-8zM671.5 364.5h8v8h-8zM383.5 372.5h8v8h-8zM247.5 396.5h8v8h-8zM679.5 396.5h8v8h-8zM239.5 412.5h8v8h-8zM687.5 412.5h8v8h-8zM223.5 428.5h8v8h-8zM703.5 428.5h8v8h-8zM207.5 436.5h16v8h-16zM399.5 436.5h8v8h-8zM519.5 436.5h8v8h-8zM711.5 436.5h32v8h-32zM183.5 444.5h24v8h-24z"/><path fill="#646464" d="M303.5 148.5h40v8h-40zM583.5 148.5h40v8h-40zM295.5 156.5h16v8h-16zM335.5 156.5h16v8h-16zM575.5 156.5h16v8h-16zM615.5 156.5h24v8h-24zM287.5 164.5h16v8h-16zM343.5 164.5h8v8h-8zM567.5 164.5h8v8h-8zM631.5 164.5h8v8h-8zM279.5 172.5h8v8h-8zM351.5 172.5h8v8h-8zM559.5 172.5h8v8h-8zM639.5 172.5h8v8h-8zM279.5 180.5h8v8h-8zM359.5 180.5h8v8h-8zM551.5 180.5h8v8h-8zM647.5 180.5h8v8h-8zM271.5 188.5h8v8h-8zM359.5 188.5h8v8h-8zM551.5 188.5h8v8h-8zM655.5 188.5h8v8h-8zM271.5 196.5h8v8h-8zM655.5 196.5h8v8h-8zM367.5 204.5h8v8h-8zM543.5 204.5h8v8h-8zM263.5 212.5h8v8h-8zM367.5 212.5h8v8h-8zM543.5 212.5h8v8h-8zM263.5 220.5h8v8h-8zM543.5 220.5h8v8h-8zM663.5 220.5h8v8h-8zM263.5 228.5h8v8h-8zM663.5 228.5h8v8h-8zM263.5 236.5h8v8h-8zM663.5 236.5h8v8h-8zM263.5 244.5h8v8h-8zM663.5 244.5h8v8h-8zM263.5 252.5h8v8h-8zM663.5 252.5h8v8h-8zM263.5 260.5h8v8h-8zM375.5 260.5h8v8h-8zM663.5 260.5h8v8h-8zM263.5 268.5h8v8h-8zM663.5 268.5h8v8h-8zM263.5 276.5h8v8h-8zM375.5 276.5h8v8h-8zM663.5 276.5h8v8h-8zM263.5 284.5h8v8h-8zM375.5 284.5h8v8h-8zM663.5 284.5h8v8h-8zM263.5 292.5h8v8h-8zM263.5 300.5h8v8h-8zM375.5 300.5h8v8h-8zM263.5 308.5h8v8h-8zM375.5 308.5h8v8h-8zM663.5 308.5h8v8h-8zM663.5 316.5h8v8h-8zM255.5 364.5h8v8h-8zM535.5 364.5h8v8h-8zM255.5 372.5h8v8h-8zM535.5 372.5h8v8h-8zM671.5 372.5h8v8h-8zM383.5 380.5h8v8h-8zM671.5 380.5h8v8h-8zM383.5 388.5h8v8h-8zM247.5 404.5h8v8h-8zM679.5 404.5h8v8h-8zM391.5 412.5h8v8h-8zM527.5 412.5h8v8h-8zM239.5 420.5h8v8h-8zM687.5 420.5h8v8h-8zM231.5 428.5h8v8h-8zM695.5 428.5h8v8h-8zM223.5 436.5h8v8h-8zM703.5 436.5h8v8h-8zM207.5 444.5h8v8h-8zM719.5 444.5h24v8h-24zM183.5 452.5h16v8h-16zM183.5 460.5h16v8h-16zM183.5 468.5h16v8h-16zM183.5 476.5h16v8h-16z"/><path fill="#666666" d="M311.5 156.5h24v8h-24zM591.5 156.5h24v8h-24zM303.5 164.5h40v8h-40zM575.5 164.5h56v8h-56zM287.5 172.5h16v8h-16zM343.5 172.5h8v8h-8zM567.5 172.5h16v8h-16zM631.5 172.5h8v8h-8zM287.5 180.5h8v8h-8zM351.5 180.5h8v8h-8zM559.5 180.5h8v8h-8zM639.5 180.5h8v8h-8zM279.5 188.5h8v8h-8zM559.5 188.5h8v8h-8zM647.5 188.5h8v8h-8zM359.5 196.5h8v8h-8zM551.5 196.5h8v8h-8zM647.5 196.5h8v8h-8zM271.5 204.5h8v8h-8zM551.5 204.5h8v8h-8zM655.5 204.5h8v8h-8zM271.5 212.5h8v8h-8zM655.5 212.5h8v8h-8zM367.5 220.5h8v8h-8zM655.5 220.5h8v8h-8zM367.5 228.5h8v8h-8zM543.5 228.5h8v8h-8zM543.5 236.5h8v8h-8zM543.5 244.5h8v8h-8zM543.5 252.5h8v8h-8zM543.5 260.5h8v8h-8zM543.5 268.5h8v8h-8zM543.5 276.5h8v8h-8zM543.5 284.5h8v8h-8zM543.5 292.5h8v8h-8zM543.5 300.5h8v8h-8zM543.5 308.5h8v8h-8zM263.5 316.5h8v8h-8zM375.5 316.5h8v8h-8zM263.5 324.5h8v8h-8zM375.5 324.5h8v8h-8zM663.5 324.5h8v8h-8zM375.5 332.5h8v8h-8zM663.5 332.5h8v8h-8zM663.5 340.5h8v8h-8zM255.5 380.5h8v8h-8zM535.5 380.5h8v8h-8zM255.5 388.5h8v8h-8zM535.5 388.5h8v8h-8zM671.5 388.5h8v8h-8zM383.5 396.5h8v8h-8zM671.5 396.5h8v8h-8zM247.5 412.5h8v8h-8zM679.5 412.5h8v8h-8zM215.5 444.5h8v8h-8zM711.5 444.5h8v8h-8zM199.5 452.5h16v8h-16zM719.5 452.5h24v8h-24zM199.5 460.5h16v8h-16zM719.5 460.5h24v8h-24zM199.5 468.5h16v8h-16zM719.5 468.5h24v8h-24zM199.5 476.5h16v8h-16zM719.5 476.5h24v8h-24z"/><path fill="#686868" d="M303.5 172.5h40v8h-40zM583.5 172.5h48v8h-48zM295.5 180.5h8v8h-8zM343.5 180.5h8v8h-8zM567.5 180.5h8v8h-8zM631.5 180.5h8v8h-8zM287.5 188.5h8v8h-8zM351.5 188.5h8v8h-8zM639.5 188.5h8v8h-8zM279.5 196.5h8v8h-8zM559.5 196.5h8v8h-8zM279.5 204.5h8v8h-8zM359.5 204.5h8v8h-8zM647.5 204.5h8v8h-8zM359.5 212.5h8v8h-8zM551.5 212.5h8v8h-8zM271.5 220.5h8v8h-8zM551.5 220.5h8v8h-8zM271.5 228.5h8v8h-8zM655.5 228.5h8v8h-8zM271.5 236.5h8v8h-8zM367.5 236.5h8v8h-8zM655.5 236.5h8v8h-8zM367.5 244.5h8v8h-8zM655.5 244.5h8v8h-8zM367.5 252.5h8v8h-8zM655.5 252.5h8v8h-8zM655.5 260.5h8v8h-8zM655.5 268.5h8v8h-8zM655.5 292.5h8v8h-8zM543.5 316.5h8v8h-8zM543.5 324.5h8v8h-8zM263.5 332.5h8v8h-8zM263.5 340.5h8v8h-8zM375.5 340.5h8v8h-8zM263.5 348.5h8v8h-8zM375.5 348.5h8v8h-8zM663.5 348.5h8v8h-8zM663.5 356.5h8v8h-8zM255.5 396.5h8v8h-8zM535.5 396.5h8v8h-8zM383.5 404.5h8v8h-8zM391.5 420.5h8v8h-8zM527.5 420.5h8v8h-8zM679.5 420.5h8v8h-8zM239.5 428.5h8v8h-8zM687.5 428.5h8v8h-8zM231.5 436.5h8v8h-8zM695.5 436.5h8v8h-8zM223.5 444.5h8v8h-8zM399.5 444.5h8v8h-8zM703.5 444.5h8v8h-8zM215.5 452.5h8v8h-8zM711.5 452.5h8v8h-8zM215.5 460.5h8v8h-8zM711.5 460.5h8v8h-8zM215.5 468.5h8v8h-8zM711.5 468.5h8v8h-8zM215.5 476.5h8v8h-8zM711.5 476.5h8v8h-8z"/><path fill="#6a6a6a" d="M303.5 180.5h16v8h-16zM335.5 180.5h8v8h-8zM575.5 180.5h16v8h-16zM615.5 180.5h16v8h-16zM295.5 188.5h8v8h-8zM343.5 188.5h8v8h-8zM567.5 188.5h8v8h-8zM631.5 188.5h8v8h-8zM287.5 196.5h8v8h-8zM351.5 196.5h8v8h-8zM567.5 196.5h8v8h-8zM639.5 196.5h8v8h-8zM559.5 204.5h8v8h-8zM639.5 204.5h8v8h-8zM279.5 212.5h8v8h-8zM647.5 212.5h8v8h-8zM359.5 220.5h8v8h-8zM647.5 220.5h8v8h-8zM551.5 228.5h8v8h-8zM551.5 236.5h8v8h-8zM271.5 244.5h8v8h-8zM551.5 244.5h8v8h-8zM271.5 252.5h8v8h-8zM271.5 260.5h8v8h-8zM367.5 260.5h8v8h-8zM271.5 268.5h8v8h-8zM367.5 268.5h8v8h-8zM271.5 276.5h8v8h-8zM367.5 276.5h8v8h-8zM655.5 276.5h8v8h-8zM271.5 284.5h8v8h-8zM367.5 284.5h8v8h-8zM655.5 284.5h8v8h-8zM271.5 292.5h8v8h-8zM367.5 292.5h8v8h-8zM655.5 300.5h8v8h-8zM655.5 308.5h8v8h-8zM543.5 332.5h8v8h-8zM543.5 340.5h8v8h-8zM263.5 356.5h8v8h-8zM375.5 356.5h8v8h-8zM263.5 364.5h8v8h-8zM375.5 364.5h8v8h-8zM663.5 364.5h8v8h-8zM375.5 372.5h8v8h-8zM663.5 372.5h8v8h-8zM255.5 404.5h8v8h-8zM671.5 404.5h8v8h-8zM247.5 420.5h8v8h-8zM519.5 444.5h8v8h-8zM223.5 452.5h8v8h-8zM703.5 452.5h8v8h-8zM223.5 460.5h8v8h-8zM703.5 460.5h8v8h-8zM223.5 468.5h8v8h-8zM703.5 468.5h8v8h-8zM223.5 476.5h8v8h-8zM703.5 476.5h8v8h-8z"/><path fill="#6c6c6c" d="M319.5 180.5h16v8h-16zM591.5 180.5h24v8h-24zM303.5 188.5h8v8h-8zM335.5 188.5h8v8h-8zM575.5 188.5h16v8h-16zM615.5 188.5h16v8h-16zM295.5 196.5h8v8h-8zM343.5 196.5h8v8h-8zM631.5 196.5h8v8h-8zM287.5 204.5h8v8h-8zM351.5 204.5h8v8h-8zM567.5 204.5h8v8h-8zM559.5 212.5h8v8h-8zM639.5 212.5h8v8h-8zM279.5 220.5h8v8h-8zM559.5 220.5h8v8h-8zM279.5 228.5h8v8h-8zM359.5 228.5h8v8h-8zM647.5 228.5h8v8h-8zM647.5 236.5h8v8h-8zM551.5 252.5h8v8h-8zM551.5 260.5h8v8h-8zM551.5 268.5h8v8h-8zM551.5 276.5h8v8h-8zM551.5 284.5h8v8h-8zM551.5 292.5h8v8h-8zM271.5 300.5h8v8h-8zM367.5 300.5h8v8h-8zM271.5 308.5h8v8h-8zM655.5 316.5h8v8h-8zM543.5 348.5h8v8h-8zM543.5 356.5h8v8h-8zM543.5 364.5h8v8h-8zM263.5 372.5h8v8h-8zM263.5 380.5h8v8h-8zM375.5 380.5h8v8h-8zM663.5 380.5h8v8h-8zM375.5 388.5h8v8h-8zM663.5 388.5h8v8h-8zM535.5 404.5h8v8h-8zM255.5 412.5h8v8h-8zM383.5 412.5h8v8h-8zM671.5 412.5h8v8h-8zM391.5 428.5h8v8h-8zM239.5 436.5h8v8h-8zM687.5 436.5h8v8h-8zM231.5 444.5h8v8h-8zM695.5 444.5h8v8h-8z"/><path fill="#6e6e6e" d="M311.5 188.5h24v8h-24zM591.5 188.5h24v8h-24zM303.5 196.5h8v8h-8zM335.5 196.5h8v8h-8zM575.5 196.5h16v8h-16zM615.5 196.5h16v8h-16zM295.5 204.5h8v8h-8zM343.5 204.5h8v8h-8zM575.5 204.5h8v8h-8zM631.5 204.5h8v8h-8zM287.5 212.5h8v8h-8zM351.5 212.5h8v8h-8zM567.5 212.5h8v8h-8zM631.5 212.5h8v8h-8zM287.5 220.5h8v8h-8zM351.5 220.5h8v8h-8zM639.5 220.5h8v8h-8zM559.5 228.5h8v8h-8zM279.5 236.5h8v8h-8zM359.5 236.5h8v8h-8zM279.5 244.5h8v8h-8zM359.5 244.5h8v8h-8zM647.5 244.5h8v8h-8zM647.5 252.5h8v8h-8zM647.5 260.5h8v8h-8zM647.5 268.5h8v8h-8zM551.5 300.5h8v8h-8zM367.5 308.5h8v8h-8zM271.5 316.5h8v8h-8zM367.5 316.5h8v8h-8zM271.5 324.5h8v8h-8zM655.5 324.5h8v8h-8zM655.5 332.5h8v8h-8zM655.5 340.5h8v8h-8zM543.5 372.5h8v8h-8zM543.5 380.5h8v8h-8zM263.5 388.5h8v8h-8zM375.5 396.5h8v8h-8zM663.5 396.5h8v8h-8zM535.5 412.5h8v8h-8zM247.5 428.5h8v8h-8zM527.5 428.5h8v8h-8zM679.5 428.5h8v8h-8zM231.5 452.5h8v8h-8zM695.5 452.5h8v8h-8zM231.5 460.5h8v8h-8zM695.5 460.5h8v8h-8zM231.5 468.5h8v8h-8zM695.5 468.5h8v8h-8zM231.5 476.5h8v8h-8zM695.5 476.5h8v8h-8z"/><path fill="#707070" d="M311.5 196.5h24v8h-24zM591.5 196.5h24v8h-24zM303.5 204.5h8v8h-8zM335.5 204.5h8v8h-8zM583.5 204.5h8v8h-8zM615.5 204.5h16v8h-16zM295.5 212.5h8v8h-8zM343.5 212.5h8v8h-8zM575.5 212.5h8v8h-8zM567.5 220.5h8v8h-8zM631.5 220.5h8v8h-8zM287.5 228.5h8v8h-8zM351.5 228.5h8v8h-8zM639.5 228.5h8v8h-8zM559.5 236.5h8v8h-8zM639.5 236.5h8v8h-8zM559.5 244.5h8v8h-8zM279.5 252.5h8v8h-8zM359.5 252.5h8v8h-8zM279.5 260.5h8v8h-8zM359.5 260.5h8v8h-8zM279.5 268.5h8v8h-8zM647.5 276.5h8v8h-8zM647.5 284.5h8v8h-8zM647.5 292.5h8v8h-8zM551.5 308.5h8v8h-8zM551.5 316.5h8v8h-8zM367.5 324.5h8v8h-8zM271.5 332.5h8v8h-8zM367.5 332.5h8v8h-8zM271.5 340.5h8v8h-8zM655.5 348.5h8v8h-8zM655.5 356.5h8v8h-8zM543.5 388.5h8v8h-8zM263.5 396.5h8v8h-8zM663.5 404.5h8v8h-8zM255.5 420.5h8v8h-8zM383.5 420.5h8v8h-8zM671.5 420.5h8v8h-8zM239.5 444.5h8v8h-8zM687.5 444.5h8v8h-8zM399.5 452.5h8v8h-8zM399.5 460.5h8v8h-8zM399.5 468.5h8v8h-8zM399.5 476.5h8v8h-8z"/><path fill="#727272" d="M311.5 204.5h24v8h-24zM591.5 204.5h24v8h-24zM303.5 212.5h8v8h-8zM623.5 212.5h8v8h-8zM295.5 220.5h8v8h-8zM343.5 220.5h8v8h-8zM567.5 228.5h8v8h-8zM631.5 228.5h8v8h-8zM287.5 236.5h8v8h-8zM351.5 236.5h8v8h-8zM639.5 244.5h8v8h-8zM559.5 252.5h8v8h-8zM639.5 252.5h8v8h-8zM559.5 260.5h8v8h-8zM359.5 268.5h8v8h-8zM559.5 268.5h8v8h-8zM279.5 276.5h8v8h-8zM359.5 276.5h8v8h-8zM279.5 284.5h8v8h-8zM279.5 292.5h8v8h-8zM647.5 300.5h8v8h-8zM647.5 308.5h8v8h-8zM551.5 324.5h8v8h-8zM551.5 332.5h8v8h-8zM367.5 340.5h8v8h-8zM271.5 348.5h8v8h-8zM367.5 348.5h8v8h-8zM271.5 356.5h8v8h-8zM655.5 364.5h8v8h-8zM655.5 372.5h8v8h-8zM543.5 396.5h8v8h-8zM263.5 404.5h8v8h-8zM375.5 404.5h8v8h-8zM535.5 420.5h8v8h-8zM247.5 436.5h8v8h-8zM391.5 436.5h8v8h-8zM679.5 436.5h8v8h-8z"/><path fill="#747474" d="M311.5 212.5h32v8h-32zM583.5 212.5h40v8h-40zM303.5 220.5h8v8h-8zM575.5 220.5h8v8h-8zM623.5 220.5h8v8h-8zM295.5 228.5h8v8h-8zM567.5 236.5h8v8h-8zM631.5 236.5h8v8h-8zM287.5 244.5h8v8h-8zM351.5 244.5h8v8h-8zM287.5 252.5h8v8h-8zM639.5 260.5h8v8h-8zM639.5 268.5h8v8h-8zM559.5 276.5h8v8h-8zM359.5 284.5h8v8h-8zM559.5 284.5h8v8h-8zM359.5 292.5h8v8h-8zM279.5 300.5h8v8h-8zM647.5 316.5h8v8h-8zM551.5 340.5h8v8h-8zM551.5 348.5h8v8h-8zM367.5 356.5h8v8h-8zM271.5 364.5h8v8h-8zM367.5 364.5h8v8h-8zM271.5 372.5h8v8h-8zM655.5 380.5h8v8h-8zM655.5 388.5h8v8h-8zM543.5 404.5h8v8h-8zM375.5 412.5h8v8h-8zM663.5 412.5h8v8h-8zM671.5 428.5h8v8h-8zM527.5 436.5h8v8h-8zM239.5 452.5h8v8h-8zM519.5 452.5h8v8h-8zM687.5 452.5h8v8h-8zM239.5 460.5h8v8h-8zM519.5 460.5h8v8h-8zM687.5 460.5h8v8h-8zM239.5 468.5h8v8h-8zM519.5 468.5h8v8h-8zM687.5 468.5h8v8h-8zM239.5 476.5h8v8h-8zM519.5 476.5h8v8h-8zM687.5 476.5h8v8h-8z"/><path fill="#767676" d="M311.5 220.5h8v8h-8zM335.5 220.5h8v8h-8zM583.5 220.5h8v8h-8zM615.5 220.5h8v8h-8zM343.5 228.5h8v8h-8zM575.5 228.5h8v8h-8zM623.5 228.5h8v8h-8zM295.5 236.5h8v8h-8zM567.5 244.5h8v8h-8zM631.5 244.5h8v8h-8zM351.5 252.5h8v8h-8zM567.5 252.5h8v8h-8zM287.5 260.5h8v8h-8zM287.5 268.5h8v8h-8zM639.5 276.5h8v8h-8zM559.5 292.5h8v8h-8zM359.5 300.5h8v8h-8zM559.5 300.5h8v8h-8zM279.5 308.5h8v8h-8zM647.5 324.5h8v8h-8zM647.5 332.5h8v8h-8zM551.5 356.5h8v8h-8zM551.5 364.5h8v8h-8zM367.5 372.5h8v8h-8zM271.5 380.5h8v8h-8zM367.5 380.5h8v8h-8zM271.5 388.5h8v8h-8zM655.5 396.5h8v8h-8zM263.5 412.5h8v8h-8zM255.5 428.5h8v8h-8zM383.5 428.5h8v8h-8zM679.5 444.5h8v8h-8z"/><path fill="#787878" d="M319.5 220.5h16v8h-16zM591.5 220.5h24v8h-24zM303.5 228.5h8v8h-8zM335.5 228.5h8v8h-8zM583.5 228.5h8v8h-8zM615.5 228.5h8v8h-8zM343.5 236.5h8v8h-8zM575.5 236.5h8v8h-8zM623.5 236.5h8v8h-8zM295.5 244.5h8v8h-8zM631.5 252.5h8v8h-8zM351.5 260.5h8v8h-8zM567.5 260.5h8v8h-8zM351.5 268.5h8v8h-8zM287.5 276.5h8v8h-8zM639.5 284.5h8v8h-8zM639.5 292.5h8v8h-8zM359.5 308.5h8v8h-8zM559.5 308.5h8v8h-8zM279.5 316.5h8v8h-8zM279.5 324.5h8v8h-8zM647.5 340.5h8v8h-8zM647.5 348.5h8v8h-8zM551.5 372.5h8v8h-8zM551.5 380.5h8v8h-8zM367.5 388.5h8v8h-8zM271.5 396.5h8v8h-8zM543.5 412.5h8v8h-8zM663.5 420.5h8v8h-8zM535.5 428.5h8v8h-8zM247.5 444.5h8v8h-8zM391.5 444.5h8v8h-8z"/><path fill="#7a7a7a" d="M311.5 228.5h24v8h-24zM591.5 228.5h24v8h-24zM303.5 236.5h8v8h-8zM583.5 236.5h8v8h-8zM615.5 236.5h8v8h-8zM343.5 244.5h8v8h-8zM575.5 244.5h8v8h-8zM623.5 244.5h8v8h-8zM295.5 252.5h8v8h-8zM631.5 260.5h8v8h-8zM567.5 268.5h8v8h-8zM631.5 268.5h8v8h-8zM351.5 276.5h8v8h-8zM567.5 276.5h8v8h-8zM287.5 284.5h8v8h-8zM287.5 292.5h8v8h-8zM639.5 300.5h8v8h-8zM359.5 316.5h8v8h-8zM559.5 316.5h8v8h-8zM359.5 324.5h8v8h-8zM279.5 332.5h8v8h-8zM279.5 340.5h8v8h-8zM647.5 356.5h8v8h-8zM551.5 388.5h8v8h-8zM367.5 396.5h8v8h-8zM655.5 404.5h8v8h-8zM263.5 420.5h8v8h-8zM375.5 420.5h8v8h-8zM671.5 436.5h8v8h-8zM527.5 444.5h8v8h-8zM247.5 452.5h8v8h-8zM679.5 452.5h8v8h-8zM247.5 460.5h8v8h-8zM679.5 460.5h8v8h-8zM247.5 468.5h8v8h-8zM679.5 468.5h8v8h-8zM247.5 476.5h8v8h-8zM679.5 476.5h8v8h-8z"/><path fill="#7c7c7c" d="M311.5 236.5h8v8h-8zM335.5 236.5h8v8h-8zM591.5 236.5h8v8h-8zM607.5 236.5h8v8h-8zM303.5 244.5h8v8h-8zM583.5 244.5h8v8h-8zM343.5 252.5h8v8h-8zM575.5 252.5h8v8h-8zM623.5 252.5h8v8h-8zM295.5 260.5h8v8h-8zM295.5 268.5h8v8h-8zM631.5 276.5h8v8h-8zM351.5 284.5h8v8h-8zM567.5 284.5h8v8h-8zM287.5 300.5h8v8h-8zM639.5 308.5h8v8h-8zM559.5 324.5h8v8h-8zM359.5 332.5h8v8h-8zM279.5 348.5h8v8h-8zM279.5 356.5h8v8h-8zM647.5 364.5h8v8h-8zM647.5 372.5h8v8h-8zM551.5 396.5h8v8h-8zM271.5 404.5h8v8h-8zM367.5 404.5h8v8h-8zM543.5 420.5h8v8h-8zM255.5 436.5h8v8h-8zM383.5 436.5h8v8h-8zM527.5 452.5h8v8h-8zM527.5 460.5h8v8h-8zM527.5 468.5h8v8h-8zM527.5 476.5h8v8h-8z"/><path fill="#7e7e7e" d="M319.5 236.5h16v8h-16zM599.5 236.5h8v8h-8zM311.5 244.5h8v8h-8zM335.5 244.5h8v8h-8zM615.5 244.5h8v8h-8zM303.5 252.5h8v8h-8zM343.5 260.5h8v8h-8zM575.5 260.5h8v8h-8zM623.5 260.5h8v8h-8zM295.5 276.5h8v8h-8zM631.5 284.5h8v8h-8zM351.5 292.5h8v8h-8zM567.5 292.5h8v8h-8zM287.5 308.5h8v8h-8zM639.5 316.5h8v8h-8zM559.5 332.5h8v8h-8zM359.5 340.5h8v8h-8zM559.5 340.5h8v8h-8zM359.5 348.5h8v8h-8zM279.5 364.5h8v8h-8zM279.5 372.5h8v8h-8zM647.5 380.5h8v8h-8zM647.5 388.5h8v8h-8zM655.5 412.5h8v8h-8zM663.5 428.5h8v8h-8zM535.5 436.5h8v8h-8zM391.5 452.5h8v8h-8zM391.5 460.5h8v8h-8zM391.5 468.5h8v8h-8zM391.5 476.5h8v8h-8z"/><path fill="#808080" d="M319.5 244.5h16v8h-16zM591.5 244.5h24v8h-24zM311.5 252.5h8v8h-8zM335.5 252.5h8v8h-8zM583.5 252.5h8v8h-8zM615.5 252.5h8v8h-8zM303.5 260.5h8v8h-8zM343.5 268.5h8v8h-8zM575.5 268.5h8v8h-8zM623.5 268.5h8v8h-8zM295.5 284.5h8v8h-8zM631.5 292.5h8v8h-8zM351.5 300.5h8v8h-8zM567.5 300.5h8v8h-8zM287.5 316.5h8v8h-8zM639.5 324.5h8v8h-8zM639.5 332.5h8v8h-8zM559.5 348.5h8v8h-8zM359.5 356.5h8v8h-8zM559.5 356.5h8v8h-8zM359.5 364.5h8v8h-8zM279.5 380.5h8v8h-8zM551.5 404.5h8v8h-8zM271.5 412.5h8v8h-8zM367.5 412.5h8v8h-8zM263.5 428.5h8v8h-8zM375.5 428.5h8v8h-8zM671.5 444.5h8v8h-8z"/><path fill="#828282" d="M319.5 252.5h16v8h-16zM591.5 252.5h24v8h-24zM335.5 260.5h8v8h-8zM583.5 260.5h8v8h-8zM615.5 260.5h8v8h-8zM303.5 268.5h8v8h-8zM343.5 276.5h8v8h-8zM575.5 276.5h8v8h-8zM623.5 276.5h8v8h-8zM295.5 292.5h8v8h-8zM631.5 300.5h8v8h-8zM351.5 308.5h8v8h-8zM567.5 308.5h8v8h-8zM287.5 324.5h8v8h-8zM639.5 340.5h8v8h-8zM639.5 348.5h8v8h-8zM559.5 364.5h8v8h-8zM359.5 372.5h8v8h-8zM559.5 372.5h8v8h-8zM359.5 380.5h8v8h-8zM279.5 388.5h8v8h-8zM647.5 396.5h8v8h-8zM655.5 420.5h8v8h-8zM543.5 428.5h8v8h-8zM255.5 444.5h8v8h-8z"/><path fill="#848484" d="M311.5 260.5h8v8h-8zM327.5 260.5h8v8h-8zM591.5 260.5h8v8h-8zM607.5 260.5h8v8h-8zM335.5 268.5h8v8h-8zM583.5 268.5h8v8h-8zM615.5 268.5h8v8h-8zM303.5 276.5h8v8h-8zM343.5 284.5h8v8h-8zM575.5 284.5h8v8h-8zM623.5 284.5h8v8h-8zM295.5 300.5h8v8h-8zM631.5 308.5h8v8h-8zM351.5 316.5h8v8h-8zM567.5 316.5h8v8h-8zM287.5 332.5h8v8h-8zM639.5 356.5h8v8h-8zM559.5 380.5h8v8h-8zM359.5 388.5h8v8h-8zM279.5 396.5h8v8h-8zM647.5 404.5h8v8h-8zM551.5 412.5h8v8h-8zM271.5 420.5h8v8h-8zM663.5 436.5h8v8h-8zM383.5 444.5h8v8h-8zM535.5 444.5h8v8h-8zM255.5 452.5h8v8h-8zM671.5 452.5h8v8h-8zM255.5 460.5h8v8h-8zM671.5 460.5h8v8h-8zM255.5 468.5h8v8h-8zM671.5 468.5h8v8h-8zM255.5 476.5h8v8h-8zM671.5 476.5h8v8h-8z"/><path fill="#868686" d="M319.5 260.5h8v8h-8zM599.5 260.5h8v8h-8zM311.5 268.5h8v8h-8zM591.5 268.5h8v8h-8zM607.5 268.5h8v8h-8zM583.5 276.5h8v8h-8zM615.5 276.5h8v8h-8zM343.5 292.5h8v8h-8zM575.5 292.5h8v8h-8zM351.5 324.5h8v8h-8zM567.5 324.5h8v8h-8zM287.5 340.5h8v8h-8zM287.5 348.5h8v8h-8zM639.5 364.5h8v8h-8zM639.5 372.5h8v8h-8zM559.5 388.5h8v8h-8zM359.5 396.5h8v8h-8zM367.5 420.5h8v8h-8zM263.5 436.5h8v8h-8z"/><path fill="#888888" d="M319.5 268.5h16v8h-16zM599.5 268.5h8v8h-8zM311.5 276.5h8v8h-8zM335.5 276.5h8v8h-8zM303.5 284.5h8v8h-8zM623.5 292.5h8v8h-8zM575.5 300.5h8v8h-8zM295.5 308.5h8v8h-8zM631.5 316.5h8v8h-8zM631.5 324.5h8v8h-8zM351.5 332.5h8v8h-8zM567.5 332.5h8v8h-8zM287.5 356.5h8v8h-8zM287.5 364.5h8v8h-8zM639.5 380.5h8v8h-8zM559.5 396.5h8v8h-8zM279.5 404.5h8v8h-8zM647.5 412.5h8v8h-8zM551.5 420.5h8v8h-8zM655.5 428.5h8v8h-8zM535.5 452.5h8v8h-8zM535.5 460.5h8v8h-8zM535.5 468.5h8v8h-8zM535.5 476.5h8v8h-8z"/><path fill="#8a8a8a" d="M319.5 276.5h16v8h-16zM591.5 276.5h8v8h-8zM607.5 276.5h8v8h-8zM335.5 284.5h8v8h-8zM583.5 284.5h8v8h-8zM615.5 284.5h8v8h-8zM303.5 292.5h8v8h-8zM343.5 300.5h8v8h-8zM623.5 300.5h8v8h-8zM295.5 316.5h8v8h-8zM631.5 332.5h8v8h-8zM351.5 340.5h8v8h-8zM567.5 340.5h8v8h-8zM351.5 348.5h8v8h-8zM567.5 348.5h8v8h-8zM287.5 372.5h8v8h-8zM639.5 388.5h8v8h-8zM359.5 404.5h8v8h-8zM375.5 436.5h8v8h-8zM543.5 436.5h8v8h-8zM663.5 444.5h8v8h-8zM383.5 452.5h8v8h-8zM383.5 460.5h8v8h-8zM383.5 468.5h8v8h-8zM383.5 476.5h8v8h-8z"/><path fill="#8c8c8c" d="M599.5 276.5h8v8h-8zM311.5 284.5h8v8h-8zM583.5 292.5h8v8h-8zM615.5 292.5h8v8h-8zM303.5 300.5h8v8h-8zM343.5 308.5h8v8h-8zM575.5 308.5h8v8h-8zM623.5 308.5h8v8h-8zM295.5 324.5h8v8h-8zM631.5 340.5h8v8h-8zM351.5 356.5h8v8h-8zM567.5 356.5h8v8h-8zM287.5 380.5h8v8h-8zM639.5 396.5h8v8h-8zM559.5 404.5h8v8h-8zM279.5 412.5h8v8h-8zM271.5 428.5h8v8h-8z"/><path fill="#8e8e8e" d="M319.5 284.5h16v8h-16zM591.5 284.5h24v8h-24zM335.5 292.5h8v8h-8zM575.5 316.5h8v8h-8zM295.5 332.5h8v8h-8zM631.5 348.5h8v8h-8zM631.5 356.5h8v8h-8zM351.5 364.5h8v8h-8zM567.5 364.5h8v8h-8zM351.5 372.5h8v8h-8zM567.5 372.5h8v8h-8zM287.5 388.5h8v8h-8zM647.5 420.5h8v8h-8zM367.5 428.5h8v8h-8zM263.5 444.5h8v8h-8zM663.5 452.5h8v8h-8zM663.5 460.5h8v8h-8zM663.5 468.5h8v8h-8zM663.5 476.5h8v8h-8z"/><path fill="#909090" d="M311.5 292.5h8v8h-8zM591.5 292.5h8v8h-8zM607.5 292.5h8v8h-8zM583.5 300.5h8v8h-8zM615.5 300.5h8v8h-8zM303.5 308.5h8v8h-8zM343.5 316.5h8v8h-8zM623.5 316.5h8v8h-8zM575.5 324.5h8v8h-8zM295.5 340.5h8v8h-8zM631.5 364.5h8v8h-8zM351.5 380.5h8v8h-8zM567.5 380.5h8v8h-8zM287.5 396.5h8v8h-8zM639.5 404.5h8v8h-8zM359.5 412.5h8v8h-8zM559.5 412.5h8v8h-8zM551.5 428.5h8v8h-8zM655.5 436.5h8v8h-8z"/><path fill="#929292" d="M319.5 292.5h16v8h-16zM599.5 292.5h8v8h-8zM311.5 300.5h8v8h-8zM335.5 300.5h8v8h-8zM583.5 308.5h8v8h-8zM343.5 324.5h8v8h-8zM623.5 324.5h8v8h-8zM575.5 332.5h8v8h-8zM295.5 348.5h8v8h-8zM295.5 356.5h8v8h-8zM631.5 372.5h8v8h-8zM631.5 380.5h8v8h-8zM351.5 388.5h8v8h-8zM567.5 388.5h8v8h-8zM279.5 420.5h8v8h-8zM375.5 444.5h8v8h-8zM543.5 444.5h8v8h-8zM263.5 452.5h8v8h-8zM263.5 460.5h8v8h-8zM263.5 468.5h8v8h-8zM263.5 476.5h8v8h-8z"/><path fill="#949494" d="M591.5 300.5h8v8h-8zM607.5 300.5h8v8h-8zM335.5 308.5h8v8h-8zM615.5 308.5h8v8h-8zM303.5 316.5h8v8h-8zM343.5 332.5h8v8h-8zM623.5 332.5h8v8h-8zM575.5 340.5h8v8h-8zM295.5 364.5h8v8h-8zM631.5 388.5h8v8h-8zM351.5 396.5h8v8h-8zM567.5 396.5h8v8h-8zM287.5 404.5h8v8h-8zM639.5 412.5h8v8h-8zM271.5 436.5h8v8h-8z"/><path fill="#969696" d="M319.5 300.5h16v8h-16zM599.5 300.5h8v8h-8zM311.5 308.5h8v8h-8zM583.5 316.5h8v8h-8zM615.5 316.5h8v8h-8zM303.5 324.5h8v8h-8zM343.5 340.5h8v8h-8zM623.5 340.5h8v8h-8zM343.5 348.5h8v8h-8zM575.5 348.5h8v8h-8zM623.5 348.5h8v8h-8zM575.5 356.5h8v8h-8zM295.5 372.5h8v8h-8zM295.5 380.5h8v8h-8zM359.5 420.5h8v8h-8zM559.5 420.5h8v8h-8zM647.5 428.5h8v8h-8zM543.5 452.5h8v8h-8zM543.5 460.5h8v8h-8zM543.5 468.5h8v8h-8zM543.5 476.5h8v8h-8z"/><path fill="#989898" d="M591.5 308.5h8v8h-8zM607.5 308.5h8v8h-8zM335.5 316.5h8v8h-8zM583.5 324.5h8v8h-8zM303.5 332.5h8v8h-8zM343.5 356.5h8v8h-8zM623.5 356.5h8v8h-8zM575.5 364.5h8v8h-8zM295.5 388.5h8v8h-8zM631.5 396.5h8v8h-8zM351.5 404.5h8v8h-8zM567.5 404.5h8v8h-8zM551.5 436.5h8v8h-8zM655.5 444.5h8v8h-8zM375.5 452.5h8v8h-8zM375.5 460.5h8v8h-8zM375.5 468.5h8v8h-8zM375.5 476.5h8v8h-8z"/><path fill="#9a9a9a" d="M319.5 308.5h16v8h-16zM599.5 308.5h8v8h-8zM311.5 316.5h8v8h-8zM335.5 324.5h8v8h-8zM615.5 324.5h8v8h-8zM583.5 332.5h8v8h-8zM303.5 340.5h8v8h-8zM303.5 348.5h8v8h-8zM343.5 364.5h8v8h-8zM623.5 364.5h8v8h-8zM343.5 372.5h8v8h-8zM575.5 372.5h8v8h-8zM287.5 412.5h8v8h-8zM639.5 420.5h8v8h-8zM279.5 428.5h8v8h-8zM367.5 436.5h8v8h-8z"/><path fill="#9c9c9c" d="M319.5 316.5h16v8h-16zM591.5 316.5h8v8h-8zM607.5 316.5h8v8h-8zM311.5 324.5h8v8h-8zM335.5 332.5h8v8h-8zM615.5 332.5h8v8h-8zM583.5 340.5h8v8h-8zM303.5 356.5h8v8h-8zM623.5 372.5h8v8h-8zM343.5 380.5h8v8h-8zM575.5 380.5h8v8h-8zM623.5 380.5h8v8h-8zM575.5 388.5h8v8h-8zM295.5 396.5h8v8h-8zM631.5 404.5h8v8h-8zM271.5 444.5h8v8h-8zM655.5 452.5h8v8h-8zM655.5 460.5h8v8h-8zM655.5 468.5h8v8h-8zM655.5 476.5h8v8h-8z"/><path fill="#9e9e9e" d="M599.5 316.5h8v8h-8zM327.5 324.5h8v8h-8zM591.5 324.5h8v8h-8zM607.5 324.5h8v8h-8zM311.5 332.5h8v8h-8zM335.5 340.5h8v8h-8zM615.5 340.5h8v8h-8zM583.5 348.5h8v8h-8zM615.5 348.5h8v8h-8zM303.5 364.5h8v8h-8zM303.5 372.5h8v8h-8zM343.5 388.5h8v8h-8zM623.5 388.5h8v8h-8zM351.5 412.5h8v8h-8zM567.5 412.5h8v8h-8zM359.5 428.5h8v8h-8zM559.5 428.5h8v8h-8zM647.5 436.5h8v8h-8z"/><path fill="#a0a0a0" d="M319.5 324.5h8v8h-8zM599.5 324.5h8v8h-8zM591.5 332.5h8v8h-8zM607.5 332.5h8v8h-8zM311.5 340.5h8v8h-8zM335.5 348.5h8v8h-8zM583.5 356.5h8v8h-8zM615.5 356.5h8v8h-8zM303.5 380.5h8v8h-8zM575.5 396.5h8v8h-8zM295.5 404.5h8v8h-8zM287.5 420.5h8v8h-8zM551.5 444.5h8v8h-8zM271.5 452.5h8v8h-8zM271.5 460.5h8v8h-8zM271.5 468.5h8v8h-8zM271.5 476.5h8v8h-8z"/><path fill="#a2a2a2" d="M319.5 332.5h16v8h-16zM599.5 332.5h8v8h-8zM591.5 340.5h8v8h-8zM607.5 340.5h8v8h-8zM311.5 348.5h8v8h-8zM335.5 356.5h8v8h-8zM335.5 364.5h8v8h-8zM583.5 364.5h8v8h-8zM615.5 364.5h8v8h-8zM583.5 372.5h8v8h-8zM303.5 388.5h8v8h-8zM343.5 396.5h8v8h-8zM623.5 396.5h8v8h-8zM631.5 412.5h8v8h-8zM367.5 444.5h8v8h-8z"/><path fill="#a4a4a4" d="M319.5 340.5h16v8h-16zM599.5 340.5h8v8h-8zM591.5 348.5h8v8h-8zM607.5 348.5h8v8h-8zM311.5 356.5h8v8h-8zM311.5 364.5h8v8h-8zM335.5 372.5h8v8h-8zM615.5 372.5h8v8h-8zM583.5 380.5h8v8h-8zM575.5 404.5h8v8h-8zM351.5 420.5h8v8h-8zM567.5 420.5h8v8h-8zM639.5 428.5h8v8h-8zM279.5 436.5h8v8h-8z"/><path fill="#a6a6a6" d="M319.5 348.5h16v8h-16zM599.5 348.5h8v8h-8zM319.5 356.5h16v8h-16zM591.5 356.5h8v8h-8zM607.5 356.5h8v8h-8zM591.5 364.5h8v8h-8zM311.5 372.5h8v8h-8zM335.5 380.5h8v8h-8zM615.5 380.5h8v8h-8zM583.5 388.5h8v8h-8zM303.5 396.5h8v8h-8zM343.5 404.5h8v8h-8zM623.5 404.5h8v8h-8zM295.5 412.5h8v8h-8zM551.5 452.5h8v8h-8zM551.5 460.5h8v8h-8zM551.5 468.5h8v8h-8zM551.5 476.5h8v8h-8z"/><path fill="#a8a8a8" d="M599.5 356.5h8v8h-8zM319.5 364.5h16v8h-16zM607.5 364.5h8v8h-8zM591.5 372.5h8v8h-8zM607.5 372.5h8v8h-8zM311.5 380.5h8v8h-8zM335.5 388.5h8v8h-8zM615.5 388.5h8v8h-8zM631.5 420.5h8v8h-8zM287.5 428.5h8v8h-8zM559.5 436.5h8v8h-8zM647.5 444.5h8v8h-8zM367.5 452.5h8v8h-8zM367.5 460.5h8v8h-8zM367.5 468.5h8v8h-8zM367.5 476.5h8v8h-8z"/><path fill="#aaaaaa" d="M599.5 364.5h8v8h-8zM319.5 372.5h16v8h-16zM599.5 372.5h8v8h-8zM591.5 380.5h8v8h-8zM607.5 380.5h8v8h-8zM311.5 388.5h8v8h-8zM583.5 396.5h8v8h-8zM615.5 396.5h8v8h-8zM303.5 404.5h8v8h-8zM575.5 412.5h8v8h-8zM359.5 436.5h8v8h-8z"/><path fill="#acacac" d="M319.5 380.5h16v8h-16zM599.5 380.5h8v8h-8zM591.5 388.5h8v8h-8zM607.5 388.5h8v8h-8zM335.5 396.5h8v8h-8zM343.5 412.5h8v8h-8zM623.5 412.5h8v8h-8zM295.5 420.5h8v8h-8zM279.5 444.5h8v8h-8zM647.5 452.5h8v8h-8zM647.5 460.5h8v8h-8zM647.5 468.5h8v8h-8zM647.5 476.5h8v8h-8z"/><path fill="#aeaeae" d="M319.5 388.5h16v8h-16zM599.5 388.5h8v8h-8zM311.5 396.5h8v8h-8zM583.5 404.5h8v8h-8zM567.5 428.5h8v8h-8zM639.5 436.5h8v8h-8z"/><path fill="#b0b0b0" d="M591.5 396.5h8v8h-8zM607.5 396.5h8v8h-8zM335.5 404.5h8v8h-8zM615.5 404.5h8v8h-8zM351.5 428.5h8v8h-8zM279.5 452.5h8v8h-8zM279.5 460.5h8v8h-8zM279.5 468.5h8v8h-8zM279.5 476.5h8v8h-8z"/><path fill="#b2b2b2" d="M319.5 396.5h16v8h-16zM599.5 396.5h8v8h-8zM311.5 404.5h8v8h-8zM303.5 412.5h8v8h-8zM575.5 420.5h8v8h-8zM631.5 428.5h8v8h-8zM559.5 444.5h8v8h-8z"/><path fill="#b4b4b4" d="M343.5 420.5h8v8h-8zM623.5 420.5h8v8h-8zM287.5 436.5h8v8h-8zM359.5 444.5h8v8h-8z"/><path fill="#b6b6b6" d="M327.5 404.5h8v8h-8zM591.5 404.5h8v8h-8zM607.5 404.5h8v8h-8zM583.5 412.5h8v8h-8zM615.5 412.5h8v8h-8zM295.5 428.5h8v8h-8zM559.5 452.5h8v8h-8zM559.5 460.5h8v8h-8zM559.5 468.5h8v8h-8zM559.5 476.5h8v8h-8z"/><path fill="#b8b8b8" d="M319.5 404.5h8v8h-8zM599.5 404.5h8v8h-8zM335.5 412.5h8v8h-8zM303.5 420.5h8v8h-8zM639.5 444.5h8v8h-8z"/><path fill="#bababa" d="M311.5 412.5h8v8h-8zM567.5 436.5h8v8h-8zM359.5 452.5h8v8h-8zM359.5 460.5h8v8h-8zM359.5 468.5h8v8h-8zM359.5 476.5h8v8h-8z"/><path fill="#bcbcbc" d="M591.5 412.5h8v8h-8zM607.5 412.5h8v8h-8zM583.5 420.5h8v8h-8zM575.5 428.5h8v8h-8zM351.5 436.5h8v8h-8zM287.5 444.5h8v8h-8zM639.5 452.5h8v8h-8zM639.5 460.5h8v8h-8zM639.5 468.5h8v8h-8zM639.5 476.5h8v8h-8z"/><path fill="#bebebe" d="M319.5 412.5h16v8h-16zM599.5 412.5h8v8h-8zM615.5 420.5h8v8h-8zM343.5 428.5h8v8h-8zM623.5 428.5h8v8h-8zM631.5 436.5h8v8h-8z"/><path fill="#c0c0c0" d="M335.5 420.5h8v8h-8z"/><path fill="#c2c2c2" d="M311.5 420.5h8v8h-8zM303.5 428.5h8v8h-8zM295.5 436.5h8v8h-8zM287.5 452.5h8v8h-8zM287.5 460.5h8v8h-8zM287.5 468.5h8v8h-8zM287.5 476.5h8v8h-8z"/><path fill="#c4c4c4" d="M591.5 420.5h8v8h-8zM607.5 420.5h8v8h-8zM567.5 444.5h8v8h-8z"/><path fill="#c6c6c6" d="M319.5 420.5h16v8h-16zM599.5 420.5h8v8h-8z"/><path fill="#c8c8c8" d="M583.5 428.5h8v8h-8zM615.5 428.5h8v8h-8zM575.5 436.5h8v8h-8zM351.5 444.5h8v8h-8zM631.5 444.5h8v8h-8zM567.5 452.5h8v8h-8zM567.5 460.5h8v8h-8zM567.5 468.5h8v8h-8zM567.5 476.5h8v8h-8z"/><path fill="#cacaca" d="M335.5 428.5h8v8h-8z"/><path fill="#cccccc" d="M311.5 428.5h8v8h-8zM343.5 436.5h8v8h-8zM623.5 436.5h8v8h-8zM631.5 452.5h8v8h-8zM631.5 460.5h8v8h-8zM631.5 468.5h8v8h-8zM631.5 476.5h8v8h-8z"/><path fill="#cecece" d="M591.5 428.5h8v8h-8zM295.5 444.5h8v8h-8zM351.5 452.5h8v8h-8zM351.5 460.5h8v8h-8zM351.5 468.5h8v8h-8zM351.5 476.5h8v8h-8z"/><path fill="#d0d0d0" d="M327.5 428.5h8v8h-8zM607.5 428.5h8v8h-8zM303.5 436.5h8v8h-8z"/><path fill="#d2d2d2" d="M319.5 428.5h8v8h-8zM599.5 428.5h8v8h-8zM295.5 452.5h8v8h-8zM295.5 460.5h8v8h-8zM295.5 468.5h8v8h-8zM295.5 476.5h8v8h-8z"/><path fill="#d4d4d4" d="M575.5 444.5h8v8h-8z"/><path fill="#d6d6d6" d="M583.5 436.5h8v8h-8zM615.5 436.5h8v8h-8zM623.5 444.5h8v8h-8z"/><path fill="#d8d8d8" d="M335.5 436.5h8v8h-8zM343.5 444.5h8v8h-8zM575.5 452.5h8v8h-8zM575.5 460.5h8v8h-8zM575.5 468.5h8v8h-8zM575.5 476.5h8v8h-8z"/><path fill="#dadada" d="M311.5 436.5h8v8h-8z"/><path fill="#dcdcdc" d="M303.5 444.5h8v8h-8zM623.5 452.5h8v8h-8zM623.5 460.5h8v8h-8zM623.5 468.5h8v8h-8zM623.5 476.5h8v8h-8z"/><path fill="#dedede" d="M591.5 436.5h8v8h-8zM607.5 436.5h8v8h-8zM343.5 452.5h8v8h-8zM343.5 460.5h8v8h-8zM343.5 468.5h8v8h-8zM343.5 476.5h8v8h-8z"/><path fill="#e0e0e0" d="M319.5 436.5h16v8h-16zM599.5 436.5h8v8h-8zM583.5 444.5h8v8h-8z"/><path fill="#e2e2e2" d="M615.5 444.5h8v8h-8zM303.5 452.5h8v8h-8zM303.5 460.5h8v8h-8zM303.5 468.5h8v8h-8zM303.5 476.5h8v8h-8z"/><path fill="#e4e4e4" d="M335.5 444.5h8v8h-8z"/><path fill="#e6e6e6" d="M311.5 444.5h8v8h-8zM583.5 452.5h8v8h-8zM583.5 460.5h8v8h-8zM583.5 468.5h8v8h-8zM583.5 476.5h8v8h-8z"/><path fill="#e8e8e8" d="M615.5 452.5h8v8h-8zM615.5 460.5h8v8h-8zM615.5 468.5h8v8h-8zM615.5 476.5h8v8h-8z"/><path fill="#eaeaea" d="M591.5 444.5h8v8h-8zM607.5 444.5h8v8h-8zM335.5 452.5h8v8h-8zM335.5 460.5h8v8h-8zM335.5 468.5h8v8h-8zM335.5 476.5h8v8h-8z"/><path fill="#ececec" d="M319.5 444.5h16v8h-16zM599.5 444.5h8v8h-8zM311.5 452.5h8v8h-8zM311.5 460.5h8v8h-8zM311.5 468.5h8v8h-8zM311.5 476.5h8v8h-8z"/><path fill="#f0f0f0" d="M591.5 452.5h8v8h-8zM607.5 452.5h8v8h-8zM591.5 460.5h8v8h-8zM607.5 460.5h8v8h-8zM591.5 468.5h8v8h-8zM607.5 468.5h8v8h-8zM591.5 476.5h8v8h-8zM607.5 476.5h8v8h-8z"/><path fill="#f2f2f2" d="M319.5 452.5h16v8h-16zM599.5 452.5h8v8h-8zM319.5 460.5h16v8h-16zM599.5 460.5h8v8h-8zM319.5 468.5h16v8h-16zM599.5 468.5h8v8h-8zM319.5 476.5h16v8h-16zM599.5 476.5h8v8h-8z"/></g>
<polygon points="429,-15.5 428,80 421,110 416,150 415,235 420.5,300 419,400 415,430 410,455 410,481 513,481 513,455 508,430 503,400 500,300 499,235 497.5,150 494,110 490,80 488,-15.5" fill="#000" filter="url(#blurB)"/>
<path d="M194.5 454.3H428V459.4H194.5zM488 454.3H730.0V459.4H488z" fill="#767676"/>
</g></g><g transform="translate(552 0)" clip-path="url(#clipH)">
<g filter="url(#jetB)">
<g filter="url(#blurG)" shape-rendering="crispEdges"><path fill="#383838" d="M431.5 -11.5h56v8h-56zM431.5 -3.5h56v8h-56zM431.5 4.5h56v8h-56zM431.5 12.5h56v8h-56zM431.5 20.5h56v8h-56zM431.5 28.5h56v8h-56zM423.5 36.5h64v8h-64zM423.5 44.5h64v8h-64zM423.5 52.5h64v8h-64zM423.5 60.5h64v8h-64zM423.5 68.5h72v8h-72zM423.5 76.5h72v8h-72zM423.5 84.5h72v8h-72zM415.5 92.5h80v8h-80zM415.5 100.5h80v8h-80zM415.5 108.5h88v8h-88zM415.5 116.5h88v8h-88zM415.5 124.5h88v8h-88zM407.5 132.5h96v8h-96zM407.5 140.5h96v8h-96zM407.5 148.5h96v8h-96zM407.5 156.5h96v8h-96zM407.5 164.5h96v8h-96zM407.5 172.5h96v8h-96zM407.5 180.5h104v8h-104zM407.5 188.5h104v8h-104zM407.5 196.5h104v8h-104zM407.5 204.5h104v8h-104zM407.5 212.5h104v8h-104zM407.5 220.5h104v8h-104zM407.5 228.5h104v8h-104zM407.5 236.5h104v8h-104zM407.5 244.5h104v8h-104zM407.5 252.5h104v8h-104zM415.5 260.5h96v8h-96zM415.5 268.5h96v8h-96zM415.5 276.5h96v8h-96zM423.5 284.5h88v8h-88zM423.5 292.5h88v8h-88zM423.5 300.5h80v8h-80zM431.5 308.5h64v8h-64zM439.5 316.5h48v8h-48z"/><path fill="#3a3a3a" d="M423.5 -11.5h8v8h-8zM423.5 -3.5h8v8h-8zM423.5 4.5h8v8h-8zM423.5 12.5h8v8h-8zM423.5 20.5h8v8h-8zM423.5 28.5h8v8h-8zM487.5 36.5h8v8h-8zM487.5 44.5h8v8h-8zM487.5 52.5h8v8h-8zM487.5 60.5h8v8h-8zM415.5 84.5h8v8h-8zM495.5 92.5h8v8h-8zM495.5 100.5h8v8h-8zM407.5 116.5h8v8h-8zM407.5 124.5h8v8h-8zM503.5 132.5h8v8h-8zM503.5 140.5h8v8h-8zM503.5 148.5h8v8h-8zM503.5 156.5h8v8h-8zM503.5 164.5h8v8h-8zM399.5 172.5h8v8h-8zM503.5 172.5h8v8h-8zM399.5 180.5h8v8h-8zM399.5 188.5h8v8h-8zM399.5 196.5h8v8h-8zM399.5 204.5h8v8h-8zM399.5 212.5h8v8h-8zM399.5 220.5h8v8h-8zM399.5 228.5h8v8h-8zM399.5 236.5h8v8h-8zM399.5 244.5h8v8h-8zM511.5 244.5h8v8h-8zM399.5 252.5h8v8h-8zM511.5 252.5h8v8h-8zM399.5 260.5h16v8h-16zM511.5 260.5h8v8h-8zM399.5 268.5h16v8h-16zM399.5 276.5h16v8h-16zM399.5 284.5h24v8h-24zM399.5 292.5h24v8h-24zM399.5 300.5h24v8h-24zM503.5 300.5h8v8h-8zM407.5 308.5h24v8h-24zM495.5 308.5h16v8h-16zM407.5 316.5h32v8h-32zM487.5 316.5h24v8h-24zM407.5 324.5h104v8h-104zM407.5 332.5h104v8h-104zM407.5 340.5h104v8h-104zM407.5 348.5h104v8h-104zM407.5 356.5h104v8h-104zM407.5 364.5h104v8h-104zM407.5 372.5h104v8h-104zM407.5 380.5h104v8h-104zM415.5 388.5h96v8h-96zM415.5 396.5h96v8h-96zM415.5 404.5h88v8h-88zM439.5 412.5h56v8h-56z"/><path fill="#3c3c3c" d="M487.5 12.5h8v8h-8zM487.5 20.5h8v8h-8zM487.5 28.5h8v8h-8zM495.5 84.5h8v8h-8zM407.5 108.5h8v8h-8zM503.5 108.5h8v8h-8zM503.5 116.5h8v8h-8zM503.5 124.5h8v8h-8zM399.5 140.5h8v8h-8zM399.5 148.5h8v8h-8zM399.5 156.5h8v8h-8zM399.5 164.5h8v8h-8zM511.5 172.5h8v8h-8zM511.5 180.5h8v8h-8zM511.5 188.5h8v8h-8zM511.5 196.5h8v8h-8zM511.5 204.5h8v8h-8zM511.5 212.5h8v8h-8zM511.5 220.5h8v8h-8zM511.5 228.5h8v8h-8zM511.5 236.5h8v8h-8zM511.5 268.5h8v8h-8zM511.5 276.5h8v8h-8zM511.5 284.5h8v8h-8zM511.5 292.5h8v8h-8zM511.5 300.5h8v8h-8zM399.5 308.5h8v8h-8zM511.5 308.5h8v8h-8zM399.5 316.5h8v8h-8zM511.5 316.5h8v8h-8zM399.5 324.5h8v8h-8zM511.5 324.5h8v8h-8zM399.5 332.5h8v8h-8zM511.5 332.5h8v8h-8zM399.5 340.5h8v8h-8zM511.5 340.5h8v8h-8zM511.5 348.5h8v8h-8zM407.5 388.5h8v8h-8zM407.5 396.5h8v8h-8zM503.5 404.5h8v8h-8zM415.5 412.5h24v8h-24zM495.5 412.5h16v8h-16zM415.5 420.5h96v8h-96zM415.5 428.5h88v8h-88zM423.5 436.5h80v8h-80zM447.5 444.5h40v8h-40z"/><path fill="#3e3e3e" d="M487.5 -11.5h8v8h-8zM487.5 -3.5h8v8h-8zM487.5 4.5h8v8h-8zM415.5 76.5h8v8h-8zM495.5 76.5h8v8h-8zM407.5 100.5h8v8h-8zM503.5 100.5h8v8h-8zM399.5 132.5h8v8h-8zM511.5 140.5h8v8h-8zM511.5 148.5h8v8h-8zM511.5 156.5h8v8h-8zM511.5 164.5h8v8h-8zM399.5 348.5h8v8h-8zM399.5 356.5h8v8h-8zM511.5 356.5h8v8h-8zM511.5 364.5h8v8h-8zM511.5 372.5h8v8h-8zM407.5 404.5h8v8h-8zM503.5 428.5h8v8h-8zM415.5 436.5h8v8h-8zM503.5 436.5h8v8h-8zM415.5 444.5h32v8h-32zM487.5 444.5h24v8h-24zM415.5 452.5h96v8h-96zM415.5 460.5h96v8h-96zM415.5 468.5h96v8h-96zM415.5 476.5h96v8h-96z"/><path fill="#404040" d="M399.5 124.5h8v8h-8zM511.5 124.5h8v8h-8zM511.5 132.5h8v8h-8zM391.5 220.5h8v8h-8zM519.5 220.5h8v8h-8zM391.5 228.5h8v8h-8zM519.5 228.5h8v8h-8zM391.5 236.5h8v8h-8zM519.5 236.5h8v8h-8zM391.5 244.5h8v8h-8zM519.5 244.5h8v8h-8zM391.5 252.5h8v8h-8zM519.5 252.5h8v8h-8zM391.5 260.5h8v8h-8zM519.5 260.5h8v8h-8zM519.5 268.5h8v8h-8zM519.5 276.5h8v8h-8zM519.5 284.5h8v8h-8zM519.5 292.5h8v8h-8zM399.5 364.5h8v8h-8zM511.5 380.5h8v8h-8zM511.5 388.5h8v8h-8zM511.5 396.5h8v8h-8zM407.5 412.5h8v8h-8zM407.5 420.5h8v8h-8zM407.5 428.5h8v8h-8zM407.5 436.5h8v8h-8zM407.5 444.5h8v8h-8zM407.5 452.5h8v8h-8zM407.5 460.5h8v8h-8zM407.5 468.5h8v8h-8zM407.5 476.5h8v8h-8z"/><path fill="#424242" d="M415.5 68.5h8v8h-8zM495.5 68.5h8v8h-8zM407.5 92.5h8v8h-8zM503.5 92.5h8v8h-8zM399.5 116.5h8v8h-8zM511.5 116.5h8v8h-8zM519.5 172.5h8v8h-8zM391.5 180.5h8v8h-8zM519.5 180.5h8v8h-8zM391.5 188.5h8v8h-8zM519.5 188.5h8v8h-8zM391.5 196.5h8v8h-8zM519.5 196.5h8v8h-8zM391.5 204.5h8v8h-8zM519.5 204.5h8v8h-8zM391.5 212.5h8v8h-8zM519.5 212.5h8v8h-8zM391.5 268.5h8v8h-8zM391.5 276.5h8v8h-8zM391.5 284.5h8v8h-8zM391.5 292.5h8v8h-8zM519.5 300.5h8v8h-8zM519.5 308.5h8v8h-8zM519.5 316.5h8v8h-8zM519.5 324.5h8v8h-8zM519.5 332.5h8v8h-8zM399.5 372.5h8v8h-8zM511.5 404.5h8v8h-8z"/><path fill="#444444" d="M495.5 60.5h8v8h-8zM511.5 108.5h8v8h-8zM519.5 140.5h8v8h-8zM391.5 148.5h8v8h-8zM519.5 148.5h8v8h-8zM391.5 156.5h8v8h-8zM519.5 156.5h8v8h-8zM391.5 164.5h8v8h-8zM519.5 164.5h8v8h-8zM391.5 172.5h8v8h-8zM391.5 300.5h8v8h-8zM391.5 308.5h8v8h-8zM519.5 340.5h8v8h-8zM519.5 348.5h8v8h-8zM519.5 356.5h8v8h-8zM399.5 380.5h8v8h-8z"/><path fill="#464646" d="M495.5 52.5h8v8h-8zM503.5 84.5h8v8h-8zM511.5 100.5h8v8h-8zM399.5 108.5h8v8h-8zM519.5 132.5h8v8h-8zM391.5 140.5h8v8h-8zM391.5 316.5h8v8h-8zM391.5 324.5h8v8h-8zM519.5 364.5h8v8h-8zM399.5 388.5h8v8h-8zM511.5 412.5h8v8h-8z"/><path fill="#484848" d="M495.5 36.5h8v8h-8zM495.5 44.5h8v8h-8zM415.5 60.5h8v8h-8zM407.5 84.5h8v8h-8zM399.5 100.5h8v8h-8zM519.5 116.5h8v8h-8zM519.5 124.5h8v8h-8zM391.5 132.5h8v8h-8zM527.5 180.5h8v8h-8zM527.5 188.5h8v8h-8zM527.5 196.5h8v8h-8zM527.5 204.5h8v8h-8zM527.5 212.5h8v8h-8zM527.5 220.5h8v8h-8zM527.5 228.5h8v8h-8zM527.5 236.5h8v8h-8zM527.5 244.5h8v8h-8zM527.5 252.5h8v8h-8zM527.5 260.5h8v8h-8zM527.5 268.5h8v8h-8zM527.5 276.5h8v8h-8zM527.5 284.5h8v8h-8zM527.5 292.5h8v8h-8zM527.5 300.5h8v8h-8zM391.5 332.5h8v8h-8zM391.5 340.5h8v8h-8zM519.5 372.5h8v8h-8zM519.5 380.5h8v8h-8zM399.5 396.5h8v8h-8zM511.5 420.5h8v8h-8z"/><path fill="#4a4a4a" d="M495.5 20.5h8v8h-8zM495.5 28.5h8v8h-8zM415.5 44.5h8v8h-8zM415.5 52.5h8v8h-8zM503.5 76.5h8v8h-8zM511.5 92.5h8v8h-8zM519.5 108.5h8v8h-8zM391.5 124.5h8v8h-8zM527.5 140.5h8v8h-8zM527.5 148.5h8v8h-8zM527.5 156.5h8v8h-8zM527.5 164.5h8v8h-8zM527.5 172.5h8v8h-8zM383.5 236.5h8v8h-8zM383.5 244.5h8v8h-8zM527.5 308.5h8v8h-8zM527.5 316.5h8v8h-8zM527.5 324.5h8v8h-8zM391.5 348.5h8v8h-8zM519.5 388.5h8v8h-8zM519.5 396.5h8v8h-8zM511.5 428.5h8v8h-8z"/><path fill="#4c4c4c" d="M183.5 -11.5h240v8h-240zM495.5 -11.5h248v8h-248zM183.5 -3.5h240v8h-240zM495.5 -3.5h248v8h-248zM183.5 4.5h240v8h-240zM495.5 4.5h248v8h-248zM183.5 12.5h240v8h-240zM495.5 12.5h248v8h-248zM183.5 20.5h240v8h-240zM503.5 20.5h240v8h-240zM183.5 28.5h112v8h-112zM343.5 28.5h80v8h-80zM503.5 28.5h80v8h-80zM631.5 28.5h112v8h-112zM183.5 36.5h96v8h-96zM359.5 36.5h64v8h-64zM503.5 36.5h72v8h-72zM655.5 36.5h88v8h-88zM183.5 44.5h80v8h-80zM367.5 44.5h48v8h-48zM503.5 44.5h64v8h-64zM663.5 44.5h80v8h-80zM183.5 52.5h72v8h-72zM375.5 52.5h40v8h-40zM503.5 52.5h56v8h-56zM671.5 52.5h72v8h-72zM183.5 60.5h64v8h-64zM375.5 60.5h40v8h-40zM503.5 60.5h48v8h-48zM679.5 60.5h64v8h-64zM183.5 68.5h64v8h-64zM383.5 68.5h32v8h-32zM503.5 68.5h48v8h-48zM687.5 68.5h56v8h-56zM183.5 76.5h56v8h-56zM383.5 76.5h32v8h-32zM511.5 76.5h32v8h-32zM687.5 76.5h56v8h-56zM183.5 84.5h56v8h-56zM383.5 84.5h24v8h-24zM511.5 84.5h32v8h-32zM695.5 84.5h48v8h-48zM183.5 92.5h56v8h-56zM391.5 92.5h16v8h-16zM519.5 92.5h24v8h-24zM695.5 92.5h48v8h-48zM183.5 100.5h48v8h-48zM391.5 100.5h8v8h-8zM519.5 100.5h16v8h-16zM703.5 100.5h40v8h-40zM183.5 108.5h40v8h-40zM391.5 108.5h8v8h-8zM527.5 108.5h8v8h-8zM703.5 108.5h40v8h-40zM183.5 116.5h40v8h-40zM391.5 116.5h8v8h-8zM527.5 116.5h8v8h-8zM711.5 116.5h32v8h-32zM183.5 124.5h32v8h-32zM527.5 124.5h8v8h-8zM711.5 124.5h32v8h-32zM183.5 132.5h32v8h-32zM527.5 132.5h8v8h-8zM711.5 132.5h32v8h-32zM183.5 140.5h32v8h-32zM711.5 140.5h32v8h-32zM183.5 148.5h32v8h-32zM383.5 148.5h8v8h-8zM711.5 148.5h32v8h-32zM183.5 156.5h32v8h-32zM383.5 156.5h8v8h-8zM719.5 156.5h24v8h-24zM183.5 164.5h32v8h-32zM383.5 164.5h8v8h-8zM719.5 164.5h24v8h-24zM183.5 172.5h32v8h-32zM383.5 172.5h8v8h-8zM711.5 172.5h32v8h-32zM183.5 180.5h32v8h-32zM383.5 180.5h8v8h-8zM711.5 180.5h32v8h-32zM183.5 188.5h32v8h-32zM383.5 188.5h8v8h-8zM711.5 188.5h32v8h-32zM183.5 196.5h32v8h-32zM383.5 196.5h8v8h-8zM711.5 196.5h32v8h-32zM183.5 204.5h32v8h-32zM383.5 204.5h8v8h-8zM711.5 204.5h32v8h-32zM183.5 212.5h32v8h-32zM383.5 212.5h8v8h-8zM711.5 212.5h32v8h-32zM183.5 220.5h32v8h-32zM383.5 220.5h8v8h-8zM719.5 220.5h24v8h-24zM183.5 228.5h32v8h-32zM383.5 228.5h8v8h-8zM719.5 228.5h24v8h-24zM183.5 236.5h24v8h-24zM719.5 236.5h24v8h-24zM183.5 244.5h24v8h-24zM383.5 252.5h8v8h-8zM383.5 260.5h8v8h-8zM383.5 268.5h8v8h-8zM527.5 332.5h8v8h-8zM527.5 340.5h8v8h-8zM391.5 356.5h8v8h-8zM399.5 404.5h8v8h-8z"/><path fill="#4e4e4e" d="M295.5 28.5h48v8h-48zM583.5 28.5h48v8h-48zM279.5 36.5h80v8h-80zM575.5 36.5h80v8h-80zM263.5 44.5h104v8h-104zM567.5 44.5h96v8h-96zM255.5 52.5h120v8h-120zM559.5 52.5h112v8h-112zM247.5 60.5h128v8h-128zM551.5 60.5h128v8h-128zM247.5 68.5h136v8h-136zM551.5 68.5h136v8h-136zM239.5 76.5h144v8h-144zM543.5 76.5h144v8h-144zM239.5 84.5h144v8h-144zM543.5 84.5h152v8h-152zM239.5 92.5h152v8h-152zM543.5 92.5h152v8h-152zM231.5 100.5h160v8h-160zM535.5 100.5h168v8h-168zM223.5 108.5h72v8h-72zM351.5 108.5h40v8h-40zM535.5 108.5h48v8h-48zM631.5 108.5h72v8h-72zM223.5 116.5h56v8h-56zM359.5 116.5h32v8h-32zM535.5 116.5h40v8h-40zM647.5 116.5h64v8h-64zM215.5 124.5h56v8h-56zM367.5 124.5h24v8h-24zM535.5 124.5h32v8h-32zM655.5 124.5h56v8h-56zM215.5 132.5h48v8h-48zM367.5 132.5h24v8h-24zM535.5 132.5h24v8h-24zM663.5 132.5h48v8h-48zM215.5 140.5h48v8h-48zM375.5 140.5h16v8h-16zM535.5 140.5h24v8h-24zM671.5 140.5h40v8h-40zM215.5 148.5h40v8h-40zM375.5 148.5h8v8h-8zM535.5 148.5h16v8h-16zM671.5 148.5h40v8h-40zM215.5 156.5h40v8h-40zM535.5 156.5h16v8h-16zM679.5 156.5h40v8h-40zM215.5 164.5h32v8h-32zM535.5 164.5h8v8h-8zM679.5 164.5h40v8h-40zM215.5 172.5h32v8h-32zM535.5 172.5h8v8h-8zM679.5 172.5h32v8h-32zM215.5 180.5h32v8h-32zM535.5 180.5h8v8h-8zM679.5 180.5h32v8h-32zM215.5 188.5h32v8h-32zM535.5 188.5h8v8h-8zM687.5 188.5h24v8h-24zM215.5 196.5h32v8h-32zM535.5 196.5h8v8h-8zM687.5 196.5h24v8h-24zM215.5 204.5h32v8h-32zM535.5 204.5h8v8h-8zM687.5 204.5h24v8h-24zM215.5 212.5h24v8h-24zM535.5 212.5h8v8h-8zM687.5 212.5h24v8h-24zM215.5 220.5h24v8h-24zM535.5 220.5h8v8h-8zM687.5 220.5h32v8h-32zM215.5 228.5h24v8h-24zM535.5 228.5h8v8h-8zM687.5 228.5h32v8h-32zM207.5 236.5h32v8h-32zM535.5 236.5h8v8h-8zM687.5 236.5h32v8h-32zM207.5 244.5h32v8h-32zM535.5 244.5h8v8h-8zM695.5 244.5h48v8h-48zM183.5 252.5h56v8h-56zM535.5 252.5h8v8h-8zM695.5 252.5h48v8h-48zM183.5 260.5h56v8h-56zM535.5 260.5h8v8h-8zM695.5 260.5h48v8h-48zM183.5 268.5h48v8h-48zM695.5 268.5h48v8h-48zM183.5 276.5h48v8h-48zM383.5 276.5h8v8h-8zM695.5 276.5h48v8h-48zM183.5 284.5h48v8h-48zM383.5 284.5h8v8h-8zM703.5 284.5h40v8h-40zM183.5 292.5h48v8h-48zM703.5 292.5h40v8h-40zM183.5 300.5h40v8h-40zM703.5 300.5h40v8h-40zM183.5 308.5h40v8h-40zM711.5 308.5h32v8h-32zM183.5 316.5h32v8h-32zM711.5 316.5h32v8h-32zM183.5 324.5h32v8h-32zM719.5 324.5h24v8h-24zM183.5 332.5h24v8h-24zM719.5 332.5h24v8h-24zM183.5 340.5h16v8h-16zM527.5 348.5h8v8h-8zM527.5 356.5h8v8h-8zM519.5 404.5h8v8h-8zM511.5 436.5h8v8h-8z"/><path fill="#505050" d="M295.5 108.5h56v8h-56zM583.5 108.5h48v8h-48zM279.5 116.5h80v8h-80zM575.5 116.5h72v8h-72zM271.5 124.5h96v8h-96zM567.5 124.5h88v8h-88zM263.5 132.5h104v8h-104zM559.5 132.5h104v8h-104zM263.5 140.5h40v8h-40zM343.5 140.5h32v8h-32zM559.5 140.5h32v8h-32zM623.5 140.5h48v8h-48zM255.5 148.5h40v8h-40zM351.5 148.5h24v8h-24zM551.5 148.5h24v8h-24zM639.5 148.5h32v8h-32zM255.5 156.5h32v8h-32zM359.5 156.5h24v8h-24zM551.5 156.5h24v8h-24zM647.5 156.5h32v8h-32zM247.5 164.5h32v8h-32zM367.5 164.5h16v8h-16zM543.5 164.5h24v8h-24zM655.5 164.5h24v8h-24zM247.5 172.5h24v8h-24zM367.5 172.5h16v8h-16zM543.5 172.5h16v8h-16zM655.5 172.5h24v8h-24zM247.5 180.5h24v8h-24zM367.5 180.5h16v8h-16zM543.5 180.5h16v8h-16zM663.5 180.5h16v8h-16zM247.5 188.5h24v8h-24zM375.5 188.5h8v8h-8zM543.5 188.5h16v8h-16zM663.5 188.5h24v8h-24zM247.5 196.5h16v8h-16zM375.5 196.5h8v8h-8zM543.5 196.5h16v8h-16zM663.5 196.5h24v8h-24zM247.5 204.5h16v8h-16zM375.5 204.5h8v8h-8zM543.5 204.5h8v8h-8zM671.5 204.5h16v8h-16zM239.5 212.5h24v8h-24zM543.5 212.5h8v8h-8zM671.5 212.5h16v8h-16zM239.5 220.5h16v8h-16zM671.5 220.5h16v8h-16zM239.5 228.5h16v8h-16zM671.5 228.5h16v8h-16zM239.5 236.5h16v8h-16zM671.5 236.5h16v8h-16zM239.5 244.5h16v8h-16zM679.5 244.5h16v8h-16zM239.5 252.5h16v8h-16zM679.5 252.5h16v8h-16zM239.5 260.5h8v8h-8zM679.5 260.5h16v8h-16zM231.5 268.5h16v8h-16zM535.5 268.5h8v8h-8zM679.5 268.5h16v8h-16zM231.5 276.5h16v8h-16zM535.5 276.5h8v8h-8zM687.5 276.5h8v8h-8zM231.5 284.5h16v8h-16zM535.5 284.5h8v8h-8zM687.5 284.5h16v8h-16zM231.5 292.5h16v8h-16zM383.5 292.5h8v8h-8zM535.5 292.5h8v8h-8zM687.5 292.5h16v8h-16zM223.5 300.5h16v8h-16zM383.5 300.5h8v8h-8zM535.5 300.5h8v8h-8zM687.5 300.5h16v8h-16zM223.5 308.5h16v8h-16zM687.5 308.5h24v8h-24zM215.5 316.5h24v8h-24zM695.5 316.5h16v8h-16zM215.5 324.5h16v8h-16zM695.5 324.5h24v8h-24zM207.5 332.5h24v8h-24zM695.5 332.5h24v8h-24zM199.5 340.5h32v8h-32zM703.5 340.5h40v8h-40zM183.5 348.5h40v8h-40zM703.5 348.5h40v8h-40zM183.5 356.5h32v8h-32zM711.5 356.5h32v8h-32zM183.5 364.5h24v8h-24zM391.5 364.5h8v8h-8zM527.5 364.5h8v8h-8zM727.5 364.5h16v8h-16z"/><path fill="#525252" d="M303.5 140.5h40v8h-40zM591.5 140.5h32v8h-32zM295.5 148.5h56v8h-56zM575.5 148.5h64v8h-64zM287.5 156.5h72v8h-72zM575.5 156.5h72v8h-72zM279.5 164.5h40v8h-40zM335.5 164.5h32v8h-32zM567.5 164.5h32v8h-32zM615.5 164.5h40v8h-40zM271.5 172.5h32v8h-32zM343.5 172.5h24v8h-24zM559.5 172.5h24v8h-24zM631.5 172.5h24v8h-24zM271.5 180.5h24v8h-24zM351.5 180.5h16v8h-16zM559.5 180.5h16v8h-16zM639.5 180.5h24v8h-24zM271.5 188.5h16v8h-16zM359.5 188.5h16v8h-16zM559.5 188.5h16v8h-16zM639.5 188.5h24v8h-24zM263.5 196.5h24v8h-24zM359.5 196.5h16v8h-16zM559.5 196.5h8v8h-8zM647.5 196.5h16v8h-16zM263.5 204.5h16v8h-16zM367.5 204.5h8v8h-8zM551.5 204.5h16v8h-16zM655.5 204.5h16v8h-16zM263.5 212.5h8v8h-8zM367.5 212.5h16v8h-16zM551.5 212.5h8v8h-8zM655.5 212.5h16v8h-16zM255.5 220.5h16v8h-16zM375.5 220.5h8v8h-8zM543.5 220.5h16v8h-16zM655.5 220.5h16v8h-16zM255.5 228.5h16v8h-16zM375.5 228.5h8v8h-8zM543.5 228.5h8v8h-8zM663.5 228.5h8v8h-8zM255.5 236.5h8v8h-8zM375.5 236.5h8v8h-8zM543.5 236.5h8v8h-8zM663.5 236.5h8v8h-8zM255.5 244.5h8v8h-8zM543.5 244.5h8v8h-8zM663.5 244.5h16v8h-16zM255.5 252.5h8v8h-8zM543.5 252.5h8v8h-8zM671.5 252.5h8v8h-8zM247.5 260.5h16v8h-16zM671.5 260.5h8v8h-8zM247.5 268.5h8v8h-8zM671.5 268.5h8v8h-8zM247.5 276.5h8v8h-8zM671.5 276.5h16v8h-16zM247.5 284.5h8v8h-8zM679.5 284.5h8v8h-8zM247.5 292.5h8v8h-8zM679.5 292.5h8v8h-8zM239.5 300.5h16v8h-16zM679.5 300.5h8v8h-8zM239.5 308.5h8v8h-8zM383.5 308.5h8v8h-8zM535.5 308.5h8v8h-8zM679.5 308.5h8v8h-8zM239.5 316.5h8v8h-8zM383.5 316.5h8v8h-8zM535.5 316.5h8v8h-8zM687.5 316.5h8v8h-8zM231.5 324.5h16v8h-16zM687.5 324.5h8v8h-8zM231.5 332.5h8v8h-8zM687.5 332.5h8v8h-8zM231.5 340.5h8v8h-8zM687.5 340.5h16v8h-16zM223.5 348.5h16v8h-16zM695.5 348.5h8v8h-8zM215.5 356.5h16v8h-16zM695.5 356.5h16v8h-16zM207.5 364.5h24v8h-24zM703.5 364.5h24v8h-24zM183.5 372.5h40v8h-40zM391.5 372.5h8v8h-8zM527.5 372.5h8v8h-8zM711.5 372.5h32v8h-32zM183.5 380.5h32v8h-32zM711.5 380.5h32v8h-32zM183.5 388.5h24v8h-24zM399.5 412.5h8v8h-8z"/><path fill="#545454" d="M319.5 164.5h16v8h-16zM599.5 164.5h16v8h-16zM303.5 172.5h40v8h-40zM583.5 172.5h48v8h-48zM295.5 180.5h56v8h-56zM575.5 180.5h64v8h-64zM287.5 188.5h32v8h-32zM335.5 188.5h24v8h-24zM575.5 188.5h24v8h-24zM607.5 188.5h32v8h-32zM287.5 196.5h16v8h-16zM343.5 196.5h16v8h-16zM567.5 196.5h16v8h-16zM623.5 196.5h24v8h-24zM279.5 204.5h16v8h-16zM351.5 204.5h16v8h-16zM567.5 204.5h8v8h-8zM631.5 204.5h24v8h-24zM271.5 212.5h16v8h-16zM359.5 212.5h8v8h-8zM559.5 212.5h16v8h-16zM639.5 212.5h16v8h-16zM271.5 220.5h16v8h-16zM359.5 220.5h16v8h-16zM559.5 220.5h8v8h-8zM647.5 220.5h8v8h-8zM271.5 228.5h8v8h-8zM367.5 228.5h8v8h-8zM551.5 228.5h16v8h-16zM647.5 228.5h16v8h-16zM263.5 236.5h16v8h-16zM367.5 236.5h8v8h-8zM551.5 236.5h8v8h-8zM655.5 236.5h8v8h-8zM263.5 244.5h8v8h-8zM375.5 244.5h8v8h-8zM551.5 244.5h8v8h-8zM655.5 244.5h8v8h-8zM263.5 252.5h8v8h-8zM375.5 252.5h8v8h-8zM551.5 252.5h8v8h-8zM655.5 252.5h16v8h-16zM263.5 260.5h8v8h-8zM375.5 260.5h8v8h-8zM543.5 260.5h8v8h-8zM663.5 260.5h8v8h-8zM255.5 268.5h8v8h-8zM543.5 268.5h8v8h-8zM663.5 268.5h8v8h-8zM255.5 276.5h8v8h-8zM543.5 276.5h8v8h-8zM663.5 276.5h8v8h-8zM255.5 284.5h8v8h-8zM671.5 284.5h8v8h-8zM255.5 292.5h8v8h-8zM671.5 292.5h8v8h-8zM671.5 300.5h8v8h-8zM247.5 308.5h8v8h-8zM671.5 308.5h8v8h-8zM247.5 316.5h8v8h-8zM679.5 316.5h8v8h-8zM383.5 324.5h8v8h-8zM535.5 324.5h8v8h-8zM679.5 324.5h8v8h-8zM239.5 332.5h8v8h-8zM535.5 332.5h8v8h-8zM679.5 332.5h8v8h-8zM239.5 340.5h8v8h-8zM239.5 348.5h8v8h-8zM687.5 348.5h8v8h-8zM231.5 356.5h8v8h-8zM687.5 356.5h8v8h-8zM231.5 364.5h8v8h-8zM695.5 364.5h8v8h-8zM223.5 372.5h8v8h-8zM695.5 372.5h16v8h-16zM215.5 380.5h16v8h-16zM391.5 380.5h8v8h-8zM527.5 380.5h8v8h-8zM703.5 380.5h8v8h-8zM207.5 388.5h16v8h-16zM527.5 388.5h8v8h-8zM703.5 388.5h40v8h-40zM183.5 396.5h40v8h-40zM711.5 396.5h32v8h-32zM519.5 412.5h8v8h-8zM511.5 444.5h8v8h-8z"/><path fill="#565656" d="M319.5 188.5h16v8h-16zM599.5 188.5h8v8h-8zM303.5 196.5h40v8h-40zM583.5 196.5h40v8h-40zM295.5 204.5h56v8h-56zM575.5 204.5h56v8h-56zM287.5 212.5h16v8h-16zM343.5 212.5h16v8h-16zM575.5 212.5h8v8h-8zM623.5 212.5h16v8h-16zM287.5 220.5h8v8h-8zM351.5 220.5h8v8h-8zM567.5 220.5h16v8h-16zM631.5 220.5h16v8h-16zM279.5 228.5h16v8h-16zM359.5 228.5h8v8h-8zM567.5 228.5h8v8h-8zM639.5 228.5h8v8h-8zM279.5 236.5h8v8h-8zM359.5 236.5h8v8h-8zM559.5 236.5h8v8h-8zM639.5 236.5h16v8h-16zM271.5 244.5h8v8h-8zM367.5 244.5h8v8h-8zM559.5 244.5h8v8h-8zM647.5 244.5h8v8h-8zM271.5 252.5h8v8h-8zM367.5 252.5h8v8h-8zM647.5 252.5h8v8h-8zM271.5 260.5h8v8h-8zM367.5 260.5h8v8h-8zM551.5 260.5h8v8h-8zM655.5 260.5h8v8h-8zM263.5 268.5h8v8h-8zM375.5 268.5h8v8h-8zM551.5 268.5h8v8h-8zM655.5 268.5h8v8h-8zM263.5 276.5h8v8h-8zM375.5 276.5h8v8h-8zM375.5 284.5h8v8h-8zM543.5 284.5h8v8h-8zM663.5 284.5h8v8h-8zM543.5 292.5h8v8h-8zM663.5 292.5h8v8h-8zM255.5 300.5h8v8h-8zM543.5 300.5h8v8h-8zM663.5 300.5h8v8h-8zM255.5 308.5h8v8h-8zM671.5 316.5h8v8h-8zM247.5 324.5h8v8h-8zM671.5 324.5h8v8h-8zM247.5 332.5h8v8h-8zM383.5 332.5h8v8h-8zM247.5 340.5h8v8h-8zM535.5 340.5h8v8h-8zM679.5 340.5h8v8h-8zM679.5 348.5h8v8h-8zM239.5 356.5h8v8h-8zM687.5 364.5h8v8h-8zM231.5 372.5h8v8h-8zM687.5 372.5h8v8h-8zM231.5 380.5h8v8h-8zM695.5 380.5h8v8h-8zM223.5 388.5h8v8h-8zM391.5 388.5h8v8h-8zM695.5 388.5h8v8h-8zM223.5 396.5h8v8h-8zM527.5 396.5h8v8h-8zM703.5 396.5h8v8h-8zM183.5 404.5h40v8h-40zM711.5 404.5h32v8h-32z"/><path fill="#585858" d="M303.5 212.5h40v8h-40zM583.5 212.5h40v8h-40zM295.5 220.5h56v8h-56zM583.5 220.5h16v8h-16zM607.5 220.5h24v8h-24zM295.5 228.5h8v8h-8zM343.5 228.5h16v8h-16zM575.5 228.5h8v8h-8zM623.5 228.5h16v8h-16zM287.5 236.5h8v8h-8zM351.5 236.5h8v8h-8zM567.5 236.5h8v8h-8zM631.5 236.5h8v8h-8zM279.5 244.5h16v8h-16zM359.5 244.5h8v8h-8zM567.5 244.5h8v8h-8zM639.5 244.5h8v8h-8zM279.5 252.5h8v8h-8zM359.5 252.5h8v8h-8zM559.5 252.5h8v8h-8zM639.5 252.5h8v8h-8zM279.5 260.5h8v8h-8zM559.5 260.5h8v8h-8zM647.5 260.5h8v8h-8zM271.5 268.5h8v8h-8zM367.5 268.5h8v8h-8zM551.5 276.5h8v8h-8zM655.5 276.5h8v8h-8zM263.5 284.5h8v8h-8zM551.5 284.5h8v8h-8zM655.5 284.5h8v8h-8zM263.5 292.5h8v8h-8zM375.5 292.5h8v8h-8zM263.5 300.5h8v8h-8zM375.5 300.5h8v8h-8zM543.5 308.5h8v8h-8zM663.5 308.5h8v8h-8zM255.5 316.5h8v8h-8zM543.5 316.5h8v8h-8zM663.5 316.5h8v8h-8zM255.5 324.5h8v8h-8zM671.5 332.5h8v8h-8zM383.5 340.5h8v8h-8zM671.5 340.5h8v8h-8zM247.5 348.5h8v8h-8zM535.5 348.5h8v8h-8zM679.5 356.5h8v8h-8zM239.5 364.5h8v8h-8zM679.5 364.5h8v8h-8zM239.5 372.5h8v8h-8zM687.5 380.5h8v8h-8zM231.5 388.5h8v8h-8zM687.5 388.5h8v8h-8zM231.5 396.5h8v8h-8zM695.5 396.5h8v8h-8zM223.5 404.5h8v8h-8zM703.5 404.5h8v8h-8zM183.5 412.5h40v8h-40zM711.5 412.5h32v8h-32zM399.5 420.5h8v8h-8zM519.5 420.5h8v8h-8zM511.5 452.5h8v8h-8zM511.5 460.5h8v8h-8zM511.5 468.5h8v8h-8zM511.5 476.5h8v8h-8z"/><path fill="#5a5a5a" d="M599.5 220.5h8v8h-8zM303.5 228.5h40v8h-40zM583.5 228.5h40v8h-40zM295.5 236.5h16v8h-16zM343.5 236.5h8v8h-8zM575.5 236.5h16v8h-16zM615.5 236.5h16v8h-16zM295.5 244.5h8v8h-8zM351.5 244.5h8v8h-8zM575.5 244.5h8v8h-8zM631.5 244.5h8v8h-8zM287.5 252.5h8v8h-8zM351.5 252.5h8v8h-8zM567.5 252.5h8v8h-8zM631.5 252.5h8v8h-8zM359.5 260.5h8v8h-8zM567.5 260.5h8v8h-8zM639.5 260.5h8v8h-8zM279.5 268.5h8v8h-8zM559.5 268.5h8v8h-8zM647.5 268.5h8v8h-8zM271.5 276.5h8v8h-8zM367.5 276.5h8v8h-8zM647.5 276.5h8v8h-8zM271.5 284.5h8v8h-8zM367.5 284.5h8v8h-8zM551.5 292.5h8v8h-8zM655.5 292.5h8v8h-8zM551.5 300.5h8v8h-8zM655.5 300.5h8v8h-8zM263.5 308.5h8v8h-8zM375.5 308.5h8v8h-8zM375.5 316.5h8v8h-8zM543.5 324.5h8v8h-8zM663.5 324.5h8v8h-8zM255.5 332.5h8v8h-8zM255.5 340.5h8v8h-8zM383.5 348.5h8v8h-8zM671.5 348.5h8v8h-8zM247.5 356.5h8v8h-8zM535.5 356.5h8v8h-8zM247.5 364.5h8v8h-8zM535.5 364.5h8v8h-8zM679.5 372.5h8v8h-8zM239.5 380.5h8v8h-8zM679.5 380.5h8v8h-8zM239.5 388.5h8v8h-8zM391.5 396.5h8v8h-8zM687.5 396.5h8v8h-8zM231.5 404.5h8v8h-8zM695.5 404.5h8v8h-8zM223.5 412.5h8v8h-8zM703.5 412.5h8v8h-8zM183.5 420.5h32v8h-32zM711.5 420.5h32v8h-32z"/><path fill="#5c5c5c" d="M311.5 236.5h32v8h-32zM591.5 236.5h24v8h-24zM303.5 244.5h8v8h-8zM335.5 244.5h16v8h-16zM583.5 244.5h8v8h-8zM615.5 244.5h16v8h-16zM295.5 252.5h8v8h-8zM343.5 252.5h8v8h-8zM575.5 252.5h8v8h-8zM623.5 252.5h8v8h-8zM287.5 260.5h8v8h-8zM351.5 260.5h8v8h-8zM631.5 260.5h8v8h-8zM359.5 268.5h8v8h-8zM567.5 268.5h8v8h-8zM639.5 268.5h8v8h-8zM279.5 276.5h8v8h-8zM359.5 276.5h8v8h-8zM559.5 276.5h8v8h-8zM559.5 284.5h8v8h-8zM647.5 284.5h8v8h-8zM271.5 292.5h8v8h-8zM367.5 292.5h8v8h-8zM647.5 292.5h8v8h-8zM271.5 300.5h8v8h-8zM367.5 300.5h8v8h-8zM551.5 308.5h8v8h-8zM655.5 308.5h8v8h-8zM263.5 316.5h8v8h-8zM263.5 324.5h8v8h-8zM375.5 324.5h8v8h-8zM543.5 332.5h8v8h-8zM663.5 332.5h8v8h-8zM543.5 340.5h8v8h-8zM663.5 340.5h8v8h-8zM255.5 348.5h8v8h-8zM383.5 356.5h8v8h-8zM671.5 356.5h8v8h-8zM671.5 364.5h8v8h-8zM247.5 372.5h8v8h-8zM535.5 372.5h8v8h-8zM679.5 388.5h8v8h-8zM239.5 396.5h8v8h-8zM527.5 404.5h8v8h-8zM687.5 404.5h8v8h-8zM231.5 412.5h8v8h-8zM695.5 412.5h8v8h-8zM215.5 420.5h16v8h-16zM703.5 420.5h8v8h-8zM183.5 428.5h32v8h-32zM399.5 428.5h8v8h-8zM711.5 428.5h32v8h-32z"/><path fill="#5e5e5e" d="M311.5 244.5h24v8h-24zM591.5 244.5h24v8h-24zM303.5 252.5h16v8h-16zM335.5 252.5h8v8h-8zM583.5 252.5h16v8h-16zM607.5 252.5h16v8h-16zM295.5 260.5h8v8h-8zM343.5 260.5h8v8h-8zM575.5 260.5h8v8h-8zM623.5 260.5h8v8h-8zM287.5 268.5h8v8h-8zM351.5 268.5h8v8h-8zM631.5 268.5h8v8h-8zM567.5 276.5h8v8h-8zM639.5 276.5h8v8h-8zM279.5 284.5h8v8h-8zM359.5 284.5h8v8h-8zM559.5 292.5h8v8h-8zM647.5 300.5h8v8h-8zM271.5 308.5h8v8h-8zM367.5 308.5h8v8h-8zM551.5 316.5h8v8h-8zM655.5 316.5h8v8h-8zM655.5 324.5h8v8h-8zM263.5 332.5h8v8h-8zM375.5 332.5h8v8h-8zM543.5 348.5h8v8h-8zM663.5 348.5h8v8h-8zM255.5 356.5h8v8h-8zM383.5 364.5h8v8h-8zM671.5 372.5h8v8h-8zM247.5 380.5h8v8h-8zM535.5 380.5h8v8h-8zM247.5 388.5h8v8h-8zM679.5 396.5h8v8h-8zM239.5 404.5h8v8h-8zM391.5 404.5h8v8h-8zM687.5 412.5h8v8h-8zM231.5 420.5h8v8h-8zM695.5 420.5h8v8h-8zM215.5 428.5h8v8h-8zM519.5 428.5h8v8h-8zM703.5 428.5h8v8h-8zM183.5 436.5h24v8h-24zM719.5 436.5h24v8h-24z"/><path fill="#606060" d="M319.5 252.5h16v8h-16zM599.5 252.5h8v8h-8zM303.5 260.5h16v8h-16zM327.5 260.5h16v8h-16zM583.5 260.5h16v8h-16zM607.5 260.5h16v8h-16zM295.5 268.5h8v8h-8zM575.5 268.5h8v8h-8zM623.5 268.5h8v8h-8zM287.5 276.5h8v8h-8zM351.5 276.5h8v8h-8zM631.5 276.5h8v8h-8zM567.5 284.5h8v8h-8zM639.5 284.5h8v8h-8zM279.5 292.5h8v8h-8zM359.5 292.5h8v8h-8zM639.5 292.5h8v8h-8zM279.5 300.5h8v8h-8zM559.5 300.5h8v8h-8zM647.5 308.5h8v8h-8zM271.5 316.5h8v8h-8zM367.5 316.5h8v8h-8zM551.5 324.5h8v8h-8zM551.5 332.5h8v8h-8zM655.5 332.5h8v8h-8zM263.5 340.5h8v8h-8zM375.5 340.5h8v8h-8zM543.5 356.5h8v8h-8zM663.5 356.5h8v8h-8zM255.5 364.5h8v8h-8zM383.5 372.5h8v8h-8zM671.5 380.5h8v8h-8zM535.5 388.5h8v8h-8zM671.5 388.5h8v8h-8zM247.5 396.5h8v8h-8zM535.5 396.5h8v8h-8zM679.5 404.5h8v8h-8zM239.5 412.5h8v8h-8zM527.5 412.5h8v8h-8zM687.5 420.5h8v8h-8zM223.5 428.5h8v8h-8zM695.5 428.5h8v8h-8zM207.5 436.5h16v8h-16zM399.5 436.5h8v8h-8zM711.5 436.5h8v8h-8zM183.5 444.5h24v8h-24z"/><path fill="#626262" d="M319.5 260.5h8v8h-8zM599.5 260.5h8v8h-8zM303.5 268.5h8v8h-8zM343.5 268.5h8v8h-8zM583.5 268.5h8v8h-8zM615.5 268.5h8v8h-8zM295.5 276.5h8v8h-8zM575.5 276.5h8v8h-8zM287.5 284.5h8v8h-8zM351.5 284.5h8v8h-8zM631.5 284.5h8v8h-8zM567.5 292.5h8v8h-8zM359.5 300.5h8v8h-8zM639.5 300.5h8v8h-8zM279.5 308.5h8v8h-8zM559.5 308.5h8v8h-8zM647.5 316.5h8v8h-8zM271.5 324.5h8v8h-8zM367.5 324.5h8v8h-8zM655.5 340.5h8v8h-8zM263.5 348.5h8v8h-8zM375.5 348.5h8v8h-8zM543.5 364.5h8v8h-8zM663.5 364.5h8v8h-8zM255.5 372.5h8v8h-8zM255.5 380.5h8v8h-8zM383.5 380.5h8v8h-8zM383.5 388.5h8v8h-8zM671.5 396.5h8v8h-8zM247.5 404.5h8v8h-8zM391.5 412.5h8v8h-8zM679.5 412.5h8v8h-8zM239.5 420.5h8v8h-8zM231.5 428.5h8v8h-8zM223.5 436.5h8v8h-8zM703.5 436.5h8v8h-8zM207.5 444.5h8v8h-8zM711.5 444.5h32v8h-32zM183.5 452.5h24v8h-24zM183.5 460.5h24v8h-24zM183.5 468.5h24v8h-24zM183.5 476.5h24v8h-24z"/><path fill="#646464" d="M311.5 268.5h32v8h-32zM591.5 268.5h24v8h-24zM343.5 276.5h8v8h-8zM623.5 276.5h8v8h-8zM295.5 284.5h8v8h-8zM575.5 284.5h8v8h-8zM287.5 292.5h8v8h-8zM351.5 292.5h8v8h-8zM567.5 300.5h8v8h-8zM359.5 308.5h8v8h-8zM279.5 316.5h8v8h-8zM559.5 316.5h8v8h-8zM647.5 324.5h8v8h-8zM271.5 332.5h8v8h-8zM367.5 332.5h8v8h-8zM551.5 340.5h8v8h-8zM655.5 348.5h8v8h-8zM263.5 356.5h8v8h-8zM375.5 356.5h8v8h-8zM543.5 372.5h8v8h-8zM663.5 372.5h8v8h-8zM255.5 388.5h8v8h-8zM383.5 396.5h8v8h-8zM535.5 404.5h8v8h-8zM671.5 404.5h8v8h-8zM247.5 412.5h8v8h-8zM527.5 420.5h8v8h-8zM679.5 420.5h8v8h-8zM687.5 428.5h8v8h-8zM519.5 436.5h8v8h-8zM695.5 436.5h8v8h-8zM215.5 444.5h8v8h-8zM703.5 444.5h8v8h-8zM207.5 452.5h8v8h-8zM711.5 452.5h32v8h-32zM207.5 460.5h8v8h-8zM711.5 460.5h32v8h-32zM207.5 468.5h8v8h-8zM711.5 468.5h32v8h-32zM207.5 476.5h8v8h-8zM711.5 476.5h32v8h-32z"/><path fill="#666666" d="M303.5 276.5h16v8h-16zM335.5 276.5h8v8h-8zM583.5 276.5h8v8h-8zM615.5 276.5h8v8h-8zM343.5 284.5h8v8h-8zM623.5 284.5h8v8h-8zM631.5 292.5h8v8h-8zM287.5 300.5h8v8h-8zM639.5 308.5h8v8h-8zM359.5 316.5h8v8h-8zM279.5 324.5h8v8h-8zM559.5 324.5h8v8h-8zM647.5 332.5h8v8h-8zM271.5 340.5h8v8h-8zM367.5 340.5h8v8h-8zM551.5 348.5h8v8h-8zM655.5 356.5h8v8h-8zM263.5 364.5h8v8h-8zM375.5 364.5h8v8h-8zM543.5 380.5h8v8h-8zM663.5 380.5h8v8h-8zM543.5 388.5h8v8h-8zM663.5 388.5h8v8h-8zM255.5 396.5h8v8h-8zM383.5 404.5h8v8h-8zM535.5 412.5h8v8h-8zM671.5 412.5h8v8h-8zM391.5 420.5h8v8h-8zM239.5 428.5h8v8h-8zM231.5 436.5h8v8h-8zM223.5 444.5h8v8h-8zM399.5 444.5h8v8h-8zM695.5 444.5h8v8h-8zM215.5 452.5h8v8h-8zM703.5 452.5h8v8h-8zM215.5 460.5h8v8h-8zM703.5 460.5h8v8h-8zM215.5 468.5h8v8h-8zM703.5 468.5h8v8h-8zM215.5 476.5h8v8h-8zM703.5 476.5h8v8h-8z"/><path fill="#686868" d="M319.5 276.5h16v8h-16zM591.5 276.5h24v8h-24zM303.5 284.5h8v8h-8zM583.5 284.5h8v8h-8zM295.5 292.5h8v8h-8zM575.5 292.5h8v8h-8zM623.5 292.5h8v8h-8zM351.5 300.5h8v8h-8zM631.5 300.5h8v8h-8zM287.5 308.5h8v8h-8zM567.5 308.5h8v8h-8zM639.5 316.5h8v8h-8zM359.5 324.5h8v8h-8zM559.5 332.5h8v8h-8zM647.5 340.5h8v8h-8zM271.5 348.5h8v8h-8zM367.5 348.5h8v8h-8zM551.5 356.5h8v8h-8zM263.5 372.5h8v8h-8zM375.5 372.5h8v8h-8zM375.5 380.5h8v8h-8zM543.5 396.5h8v8h-8zM663.5 396.5h8v8h-8zM255.5 404.5h8v8h-8zM247.5 420.5h8v8h-8zM527.5 428.5h8v8h-8zM679.5 428.5h8v8h-8zM687.5 436.5h8v8h-8zM231.5 444.5h8v8h-8zM223.5 452.5h8v8h-8zM223.5 460.5h8v8h-8zM223.5 468.5h8v8h-8zM223.5 476.5h8v8h-8z"/><path fill="#6a6a6a" d="M311.5 284.5h8v8h-8zM335.5 284.5h8v8h-8zM591.5 284.5h8v8h-8zM607.5 284.5h16v8h-16zM303.5 292.5h8v8h-8zM343.5 292.5h8v8h-8zM295.5 300.5h8v8h-8zM575.5 300.5h8v8h-8zM351.5 308.5h8v8h-8zM631.5 308.5h8v8h-8zM287.5 316.5h8v8h-8zM567.5 316.5h8v8h-8zM639.5 324.5h8v8h-8zM279.5 332.5h8v8h-8zM559.5 340.5h8v8h-8zM271.5 356.5h8v8h-8zM551.5 364.5h8v8h-8zM655.5 364.5h8v8h-8zM263.5 380.5h8v8h-8zM375.5 388.5h8v8h-8zM255.5 412.5h8v8h-8zM383.5 412.5h8v8h-8zM535.5 420.5h8v8h-8zM671.5 420.5h8v8h-8zM391.5 428.5h8v8h-8zM239.5 436.5h8v8h-8zM687.5 444.5h8v8h-8zM399.5 452.5h8v8h-8zM695.5 452.5h8v8h-8zM399.5 460.5h8v8h-8zM695.5 460.5h8v8h-8zM399.5 468.5h8v8h-8zM695.5 468.5h8v8h-8zM399.5 476.5h8v8h-8zM695.5 476.5h8v8h-8z"/><path fill="#6c6c6c" d="M319.5 284.5h16v8h-16zM599.5 284.5h8v8h-8zM335.5 292.5h8v8h-8zM583.5 292.5h8v8h-8zM615.5 292.5h8v8h-8zM343.5 300.5h8v8h-8zM623.5 300.5h8v8h-8zM295.5 308.5h8v8h-8zM575.5 308.5h8v8h-8zM351.5 316.5h8v8h-8zM631.5 316.5h8v8h-8zM287.5 324.5h8v8h-8zM567.5 324.5h8v8h-8zM359.5 332.5h8v8h-8zM639.5 332.5h8v8h-8zM279.5 340.5h8v8h-8zM647.5 348.5h8v8h-8zM367.5 356.5h8v8h-8zM551.5 372.5h8v8h-8zM655.5 372.5h8v8h-8zM655.5 380.5h8v8h-8zM263.5 388.5h8v8h-8zM263.5 396.5h8v8h-8zM375.5 396.5h8v8h-8zM543.5 404.5h8v8h-8zM663.5 404.5h8v8h-8zM247.5 428.5h8v8h-8zM679.5 436.5h8v8h-8zM519.5 444.5h8v8h-8zM231.5 452.5h8v8h-8zM231.5 460.5h8v8h-8zM231.5 468.5h8v8h-8zM231.5 476.5h8v8h-8z"/><path fill="#6e6e6e" d="M311.5 292.5h24v8h-24zM591.5 292.5h24v8h-24zM303.5 300.5h8v8h-8zM583.5 300.5h8v8h-8zM623.5 308.5h8v8h-8zM359.5 340.5h8v8h-8zM559.5 348.5h8v8h-8zM647.5 356.5h8v8h-8zM271.5 364.5h8v8h-8zM367.5 364.5h8v8h-8zM551.5 380.5h8v8h-8zM655.5 388.5h8v8h-8zM543.5 412.5h8v8h-8zM663.5 412.5h8v8h-8zM255.5 420.5h8v8h-8zM383.5 420.5h8v8h-8zM671.5 428.5h8v8h-8zM527.5 436.5h8v8h-8zM239.5 444.5h8v8h-8zM687.5 452.5h8v8h-8zM687.5 460.5h8v8h-8zM687.5 468.5h8v8h-8zM687.5 476.5h8v8h-8z"/><path fill="#707070" d="M311.5 300.5h8v8h-8zM335.5 300.5h8v8h-8zM615.5 300.5h8v8h-8zM343.5 308.5h8v8h-8zM295.5 316.5h8v8h-8zM575.5 316.5h8v8h-8zM351.5 324.5h8v8h-8zM631.5 324.5h8v8h-8zM287.5 332.5h8v8h-8zM567.5 332.5h8v8h-8zM639.5 340.5h8v8h-8zM279.5 348.5h8v8h-8zM559.5 356.5h8v8h-8zM271.5 372.5h8v8h-8zM367.5 372.5h8v8h-8zM551.5 388.5h8v8h-8zM655.5 396.5h8v8h-8zM263.5 404.5h8v8h-8zM375.5 404.5h8v8h-8zM535.5 428.5h8v8h-8zM247.5 436.5h8v8h-8zM391.5 436.5h8v8h-8zM679.5 444.5h8v8h-8zM239.5 452.5h8v8h-8zM519.5 452.5h8v8h-8zM239.5 460.5h8v8h-8zM519.5 460.5h8v8h-8zM239.5 468.5h8v8h-8zM519.5 468.5h8v8h-8zM239.5 476.5h8v8h-8zM519.5 476.5h8v8h-8z"/><path fill="#727272" d="M319.5 300.5h16v8h-16zM591.5 300.5h24v8h-24zM303.5 308.5h8v8h-8zM583.5 308.5h8v8h-8zM615.5 308.5h8v8h-8zM343.5 316.5h8v8h-8zM623.5 316.5h8v8h-8zM295.5 324.5h8v8h-8zM575.5 324.5h8v8h-8zM351.5 332.5h8v8h-8zM567.5 340.5h8v8h-8zM359.5 348.5h8v8h-8zM639.5 348.5h8v8h-8zM279.5 356.5h8v8h-8zM647.5 364.5h8v8h-8zM271.5 380.5h8v8h-8zM367.5 380.5h8v8h-8zM551.5 396.5h8v8h-8zM263.5 412.5h8v8h-8zM375.5 412.5h8v8h-8zM543.5 420.5h8v8h-8zM663.5 420.5h8v8h-8zM527.5 444.5h8v8h-8z"/><path fill="#747474" d="M311.5 308.5h8v8h-8zM335.5 308.5h8v8h-8zM303.5 316.5h8v8h-8zM631.5 332.5h8v8h-8zM287.5 340.5h8v8h-8zM359.5 356.5h8v8h-8zM559.5 364.5h8v8h-8zM647.5 372.5h8v8h-8zM271.5 388.5h8v8h-8zM367.5 388.5h8v8h-8zM655.5 404.5h8v8h-8zM255.5 428.5h8v8h-8zM383.5 428.5h8v8h-8zM671.5 436.5h8v8h-8zM247.5 444.5h8v8h-8zM679.5 452.5h8v8h-8zM679.5 460.5h8v8h-8zM679.5 468.5h8v8h-8zM679.5 476.5h8v8h-8z"/><path fill="#767676" d="M319.5 308.5h16v8h-16zM591.5 308.5h24v8h-24zM583.5 316.5h8v8h-8zM615.5 316.5h8v8h-8zM343.5 324.5h8v8h-8zM623.5 324.5h8v8h-8zM295.5 332.5h8v8h-8zM575.5 332.5h8v8h-8zM351.5 340.5h8v8h-8zM631.5 340.5h8v8h-8zM567.5 348.5h8v8h-8zM639.5 356.5h8v8h-8zM279.5 364.5h8v8h-8zM559.5 372.5h8v8h-8zM647.5 380.5h8v8h-8zM271.5 396.5h8v8h-8zM367.5 396.5h8v8h-8zM551.5 404.5h8v8h-8zM655.5 412.5h8v8h-8zM263.5 420.5h8v8h-8zM535.5 436.5h8v8h-8zM391.5 444.5h8v8h-8zM527.5 452.5h8v8h-8zM527.5 460.5h8v8h-8zM527.5 468.5h8v8h-8zM527.5 476.5h8v8h-8z"/><path fill="#787878" d="M311.5 316.5h8v8h-8zM335.5 316.5h8v8h-8zM591.5 316.5h8v8h-8zM607.5 316.5h8v8h-8zM303.5 324.5h8v8h-8zM583.5 324.5h8v8h-8zM287.5 348.5h8v8h-8zM359.5 364.5h8v8h-8zM559.5 380.5h8v8h-8zM647.5 388.5h8v8h-8zM551.5 412.5h8v8h-8zM375.5 420.5h8v8h-8zM543.5 428.5h8v8h-8zM663.5 428.5h8v8h-8zM255.5 436.5h8v8h-8zM671.5 444.5h8v8h-8zM247.5 452.5h8v8h-8zM247.5 460.5h8v8h-8zM247.5 468.5h8v8h-8zM247.5 476.5h8v8h-8z"/><path fill="#7a7a7a" d="M319.5 316.5h16v8h-16zM599.5 316.5h8v8h-8zM335.5 324.5h8v8h-8zM615.5 324.5h8v8h-8zM343.5 332.5h8v8h-8zM623.5 332.5h8v8h-8zM295.5 340.5h8v8h-8zM351.5 348.5h8v8h-8zM631.5 348.5h8v8h-8zM567.5 356.5h8v8h-8zM639.5 364.5h8v8h-8zM279.5 372.5h8v8h-8zM559.5 388.5h8v8h-8zM647.5 396.5h8v8h-8zM271.5 404.5h8v8h-8zM367.5 404.5h8v8h-8zM383.5 436.5h8v8h-8zM391.5 452.5h8v8h-8zM391.5 460.5h8v8h-8zM391.5 468.5h8v8h-8zM391.5 476.5h8v8h-8z"/><path fill="#7c7c7c" d="M311.5 324.5h8v8h-8zM591.5 324.5h8v8h-8zM607.5 324.5h8v8h-8zM303.5 332.5h8v8h-8zM575.5 340.5h8v8h-8zM287.5 356.5h8v8h-8zM359.5 372.5h8v8h-8zM279.5 380.5h8v8h-8zM271.5 412.5h8v8h-8zM655.5 420.5h8v8h-8zM263.5 428.5h8v8h-8zM535.5 444.5h8v8h-8zM671.5 452.5h8v8h-8zM671.5 460.5h8v8h-8zM671.5 468.5h8v8h-8zM671.5 476.5h8v8h-8z"/><path fill="#7e7e7e" d="M319.5 324.5h16v8h-16zM599.5 324.5h8v8h-8zM583.5 332.5h8v8h-8zM615.5 332.5h8v8h-8zM343.5 340.5h8v8h-8zM623.5 340.5h8v8h-8zM351.5 356.5h8v8h-8zM567.5 364.5h8v8h-8zM639.5 372.5h8v8h-8zM359.5 380.5h8v8h-8zM279.5 388.5h8v8h-8zM559.5 396.5h8v8h-8zM647.5 404.5h8v8h-8zM367.5 412.5h8v8h-8zM551.5 420.5h8v8h-8zM375.5 428.5h8v8h-8zM663.5 436.5h8v8h-8zM255.5 444.5h8v8h-8z"/><path fill="#808080" d="M311.5 332.5h8v8h-8zM335.5 332.5h8v8h-8zM303.5 340.5h8v8h-8zM295.5 348.5h8v8h-8zM575.5 348.5h8v8h-8zM631.5 356.5h8v8h-8zM287.5 364.5h8v8h-8zM639.5 380.5h8v8h-8zM359.5 388.5h8v8h-8zM279.5 396.5h8v8h-8zM559.5 404.5h8v8h-8zM543.5 436.5h8v8h-8zM383.5 444.5h8v8h-8zM535.5 452.5h8v8h-8zM535.5 460.5h8v8h-8zM535.5 468.5h8v8h-8zM535.5 476.5h8v8h-8z"/><path fill="#828282" d="M319.5 332.5h16v8h-16zM591.5 332.5h24v8h-24zM583.5 340.5h8v8h-8zM623.5 348.5h8v8h-8zM567.5 372.5h8v8h-8zM639.5 388.5h8v8h-8zM647.5 412.5h8v8h-8zM271.5 420.5h8v8h-8zM655.5 428.5h8v8h-8zM255.5 452.5h8v8h-8zM255.5 460.5h8v8h-8zM255.5 468.5h8v8h-8zM255.5 476.5h8v8h-8z"/><path fill="#848484" d="M335.5 340.5h8v8h-8zM615.5 340.5h8v8h-8zM343.5 348.5h8v8h-8zM295.5 356.5h8v8h-8zM575.5 356.5h8v8h-8zM351.5 364.5h8v8h-8zM631.5 364.5h8v8h-8zM287.5 372.5h8v8h-8zM567.5 380.5h8v8h-8zM359.5 396.5h8v8h-8zM279.5 404.5h8v8h-8zM559.5 412.5h8v8h-8zM367.5 420.5h8v8h-8zM263.5 436.5h8v8h-8zM663.5 444.5h8v8h-8z"/><path fill="#868686" d="M311.5 340.5h8v8h-8zM591.5 340.5h8v8h-8zM607.5 340.5h8v8h-8zM303.5 348.5h8v8h-8zM583.5 348.5h8v8h-8zM287.5 380.5h8v8h-8zM567.5 388.5h8v8h-8zM639.5 396.5h8v8h-8zM359.5 404.5h8v8h-8zM647.5 420.5h8v8h-8zM551.5 428.5h8v8h-8zM375.5 436.5h8v8h-8zM383.5 452.5h8v8h-8zM383.5 460.5h8v8h-8zM383.5 468.5h8v8h-8zM383.5 476.5h8v8h-8z"/><path fill="#888888" d="M319.5 340.5h16v8h-16zM599.5 340.5h8v8h-8zM615.5 348.5h8v8h-8zM343.5 356.5h8v8h-8zM623.5 356.5h8v8h-8zM295.5 364.5h8v8h-8zM575.5 364.5h8v8h-8zM351.5 372.5h8v8h-8zM631.5 372.5h8v8h-8zM287.5 388.5h8v8h-8zM639.5 404.5h8v8h-8zM279.5 412.5h8v8h-8zM271.5 428.5h8v8h-8zM655.5 436.5h8v8h-8zM543.5 444.5h8v8h-8zM663.5 452.5h8v8h-8zM663.5 460.5h8v8h-8zM663.5 468.5h8v8h-8zM663.5 476.5h8v8h-8z"/><path fill="#8a8a8a" d="M311.5 348.5h8v8h-8zM335.5 348.5h8v8h-8zM303.5 356.5h8v8h-8zM351.5 380.5h8v8h-8zM631.5 380.5h8v8h-8zM567.5 396.5h8v8h-8zM359.5 412.5h8v8h-8zM559.5 420.5h8v8h-8zM263.5 444.5h8v8h-8z"/><path fill="#8c8c8c" d="M591.5 348.5h8v8h-8zM607.5 348.5h8v8h-8zM583.5 356.5h8v8h-8zM623.5 364.5h8v8h-8zM295.5 372.5h8v8h-8zM351.5 388.5h8v8h-8zM631.5 388.5h8v8h-8zM287.5 396.5h8v8h-8zM639.5 412.5h8v8h-8zM367.5 428.5h8v8h-8z"/><path fill="#8e8e8e" d="M319.5 348.5h16v8h-16zM599.5 348.5h8v8h-8zM615.5 356.5h8v8h-8zM343.5 364.5h8v8h-8zM575.5 372.5h8v8h-8zM567.5 404.5h8v8h-8zM279.5 420.5h8v8h-8zM647.5 428.5h8v8h-8zM551.5 436.5h8v8h-8zM375.5 444.5h8v8h-8zM263.5 452.5h8v8h-8zM543.5 452.5h8v8h-8zM263.5 460.5h8v8h-8zM543.5 460.5h8v8h-8zM263.5 468.5h8v8h-8zM543.5 468.5h8v8h-8zM263.5 476.5h8v8h-8zM543.5 476.5h8v8h-8z"/><path fill="#909090" d="M311.5 356.5h8v8h-8zM335.5 356.5h8v8h-8zM303.5 364.5h8v8h-8zM623.5 372.5h8v8h-8zM295.5 380.5h8v8h-8zM575.5 380.5h8v8h-8zM351.5 396.5h8v8h-8zM631.5 396.5h8v8h-8zM287.5 404.5h8v8h-8zM271.5 436.5h8v8h-8zM655.5 444.5h8v8h-8z"/><path fill="#929292" d="M591.5 356.5h8v8h-8zM607.5 356.5h8v8h-8zM583.5 364.5h8v8h-8zM343.5 372.5h8v8h-8zM295.5 388.5h8v8h-8zM575.5 388.5h8v8h-8zM567.5 412.5h8v8h-8zM359.5 420.5h8v8h-8z"/><path fill="#949494" d="M319.5 356.5h16v8h-16zM599.5 356.5h8v8h-8zM335.5 364.5h8v8h-8zM615.5 364.5h8v8h-8zM343.5 380.5h8v8h-8zM623.5 380.5h8v8h-8zM351.5 404.5h8v8h-8zM631.5 404.5h8v8h-8zM287.5 412.5h8v8h-8zM639.5 420.5h8v8h-8zM559.5 428.5h8v8h-8zM375.5 452.5h8v8h-8zM655.5 452.5h8v8h-8zM375.5 460.5h8v8h-8zM655.5 460.5h8v8h-8zM375.5 468.5h8v8h-8zM655.5 468.5h8v8h-8zM375.5 476.5h8v8h-8zM655.5 476.5h8v8h-8z"/><path fill="#969696" d="M311.5 364.5h8v8h-8zM303.5 372.5h8v8h-8zM583.5 372.5h8v8h-8zM623.5 388.5h8v8h-8zM295.5 396.5h8v8h-8zM575.5 396.5h8v8h-8zM279.5 428.5h8v8h-8zM367.5 436.5h8v8h-8zM647.5 436.5h8v8h-8zM551.5 444.5h8v8h-8z"/><path fill="#989898" d="M591.5 364.5h8v8h-8zM607.5 364.5h8v8h-8zM615.5 372.5h8v8h-8zM303.5 380.5h8v8h-8zM343.5 388.5h8v8h-8zM351.5 412.5h8v8h-8zM631.5 412.5h8v8h-8zM271.5 444.5h8v8h-8z"/><path fill="#9a9a9a" d="M319.5 364.5h16v8h-16zM599.5 364.5h8v8h-8zM335.5 372.5h8v8h-8zM583.5 380.5h8v8h-8zM623.5 396.5h8v8h-8zM295.5 404.5h8v8h-8zM575.5 404.5h8v8h-8zM287.5 420.5h8v8h-8zM567.5 420.5h8v8h-8zM359.5 428.5h8v8h-8z"/><path fill="#9c9c9c" d="M311.5 372.5h8v8h-8zM591.5 372.5h8v8h-8zM335.5 380.5h8v8h-8zM615.5 380.5h8v8h-8zM303.5 388.5h8v8h-8zM583.5 388.5h8v8h-8zM343.5 396.5h8v8h-8zM639.5 428.5h8v8h-8zM271.5 452.5h8v8h-8zM551.5 452.5h8v8h-8zM271.5 460.5h8v8h-8zM551.5 460.5h8v8h-8zM271.5 468.5h8v8h-8zM551.5 468.5h8v8h-8zM271.5 476.5h8v8h-8zM551.5 476.5h8v8h-8z"/><path fill="#9e9e9e" d="M319.5 372.5h16v8h-16zM607.5 372.5h8v8h-8zM311.5 380.5h8v8h-8zM615.5 388.5h8v8h-8zM279.5 436.5h8v8h-8zM559.5 436.5h8v8h-8zM367.5 444.5h8v8h-8zM647.5 444.5h8v8h-8z"/><path fill="#a0a0a0" d="M599.5 372.5h8v8h-8zM591.5 380.5h8v8h-8zM607.5 380.5h8v8h-8zM335.5 388.5h8v8h-8zM303.5 396.5h8v8h-8zM583.5 396.5h8v8h-8zM343.5 404.5h8v8h-8zM623.5 404.5h8v8h-8zM295.5 412.5h8v8h-8zM575.5 412.5h8v8h-8zM351.5 420.5h8v8h-8zM631.5 420.5h8v8h-8z"/><path fill="#a2a2a2" d="M319.5 380.5h16v8h-16zM599.5 380.5h8v8h-8zM311.5 388.5h8v8h-8zM615.5 396.5h8v8h-8zM287.5 428.5h8v8h-8zM567.5 428.5h8v8h-8z"/><path fill="#a4a4a4" d="M591.5 388.5h8v8h-8zM607.5 388.5h8v8h-8zM335.5 396.5h8v8h-8zM303.5 404.5h8v8h-8zM343.5 412.5h8v8h-8zM623.5 412.5h8v8h-8zM367.5 452.5h8v8h-8zM647.5 452.5h8v8h-8zM367.5 460.5h8v8h-8zM647.5 460.5h8v8h-8zM367.5 468.5h8v8h-8zM647.5 468.5h8v8h-8zM367.5 476.5h8v8h-8zM647.5 476.5h8v8h-8z"/><path fill="#a6a6a6" d="M319.5 388.5h16v8h-16zM599.5 388.5h8v8h-8zM311.5 396.5h8v8h-8zM583.5 404.5h8v8h-8zM295.5 420.5h8v8h-8zM359.5 436.5h8v8h-8zM639.5 436.5h8v8h-8zM279.5 444.5h8v8h-8z"/><path fill="#a8a8a8" d="M591.5 396.5h8v8h-8zM607.5 396.5h8v8h-8zM615.5 404.5h8v8h-8zM575.5 420.5h8v8h-8zM631.5 428.5h8v8h-8zM559.5 444.5h8v8h-8z"/><path fill="#aaaaaa" d="M319.5 396.5h16v8h-16zM599.5 396.5h8v8h-8zM335.5 404.5h8v8h-8zM303.5 412.5h8v8h-8zM583.5 412.5h8v8h-8zM351.5 428.5h8v8h-8z"/><path fill="#acacac" d="M311.5 404.5h8v8h-8zM615.5 412.5h8v8h-8zM343.5 420.5h8v8h-8zM623.5 420.5h8v8h-8zM279.5 452.5h8v8h-8zM279.5 460.5h8v8h-8zM279.5 468.5h8v8h-8zM279.5 476.5h8v8h-8z"/><path fill="#aeaeae" d="M591.5 404.5h8v8h-8zM607.5 404.5h8v8h-8zM335.5 412.5h8v8h-8zM287.5 436.5h8v8h-8zM567.5 436.5h8v8h-8zM639.5 444.5h8v8h-8zM559.5 452.5h8v8h-8zM559.5 460.5h8v8h-8zM559.5 468.5h8v8h-8zM559.5 476.5h8v8h-8z"/><path fill="#b0b0b0" d="M319.5 404.5h16v8h-16zM599.5 404.5h8v8h-8zM311.5 412.5h8v8h-8zM295.5 428.5h8v8h-8zM359.5 444.5h8v8h-8z"/><path fill="#b2b2b2" d="M591.5 412.5h8v8h-8zM303.5 420.5h8v8h-8zM575.5 428.5h8v8h-8z"/><path fill="#b4b4b4" d="M319.5 412.5h16v8h-16zM607.5 412.5h8v8h-8zM583.5 420.5h8v8h-8zM631.5 436.5h8v8h-8zM639.5 452.5h8v8h-8zM639.5 460.5h8v8h-8zM639.5 468.5h8v8h-8zM639.5 476.5h8v8h-8z"/><path fill="#b6b6b6" d="M599.5 412.5h8v8h-8zM615.5 420.5h8v8h-8zM623.5 428.5h8v8h-8zM351.5 436.5h8v8h-8zM359.5 452.5h8v8h-8zM359.5 460.5h8v8h-8zM359.5 468.5h8v8h-8zM359.5 476.5h8v8h-8z"/><path fill="#b8b8b8" d="M335.5 420.5h8v8h-8zM343.5 428.5h8v8h-8zM287.5 444.5h8v8h-8z"/><path fill="#bababa" d="M311.5 420.5h8v8h-8zM567.5 444.5h8v8h-8z"/><path fill="#bcbcbc" d="M591.5 420.5h8v8h-8zM607.5 420.5h8v8h-8zM303.5 428.5h8v8h-8zM295.5 436.5h8v8h-8zM287.5 452.5h8v8h-8zM287.5 460.5h8v8h-8zM287.5 468.5h8v8h-8zM287.5 476.5h8v8h-8z"/><path fill="#bebebe" d="M319.5 420.5h16v8h-16zM599.5 420.5h8v8h-8zM583.5 428.5h8v8h-8zM575.5 436.5h8v8h-8zM631.5 444.5h8v8h-8z"/><path fill="#c0c0c0" d="M615.5 428.5h8v8h-8zM567.5 452.5h8v8h-8zM567.5 460.5h8v8h-8zM567.5 468.5h8v8h-8zM567.5 476.5h8v8h-8z"/><path fill="#c2c2c2" d="M335.5 428.5h8v8h-8zM623.5 436.5h8v8h-8zM351.5 444.5h8v8h-8z"/><path fill="#c4c4c4" d="M311.5 428.5h8v8h-8zM631.5 452.5h8v8h-8zM631.5 460.5h8v8h-8zM631.5 468.5h8v8h-8zM631.5 476.5h8v8h-8z"/><path fill="#c6c6c6" d="M591.5 428.5h8v8h-8zM343.5 436.5h8v8h-8zM295.5 444.5h8v8h-8z"/><path fill="#c8c8c8" d="M327.5 428.5h8v8h-8zM607.5 428.5h8v8h-8zM351.5 452.5h8v8h-8zM351.5 460.5h8v8h-8zM351.5 468.5h8v8h-8zM351.5 476.5h8v8h-8z"/><path fill="#cacaca" d="M319.5 428.5h8v8h-8zM599.5 428.5h8v8h-8zM303.5 436.5h8v8h-8zM575.5 444.5h8v8h-8z"/><path fill="#cccccc" d="M583.5 436.5h8v8h-8z"/><path fill="#cecece" d="M615.5 436.5h8v8h-8zM623.5 444.5h8v8h-8zM295.5 452.5h8v8h-8zM295.5 460.5h8v8h-8zM295.5 468.5h8v8h-8zM295.5 476.5h8v8h-8z"/><path fill="#d0d0d0" d="M335.5 436.5h8v8h-8zM343.5 444.5h8v8h-8z"/><path fill="#d2d2d2" d="M311.5 436.5h8v8h-8zM575.5 452.5h8v8h-8zM575.5 460.5h8v8h-8zM575.5 468.5h8v8h-8zM575.5 476.5h8v8h-8z"/><path fill="#d4d4d4" d="M303.5 444.5h8v8h-8zM623.5 452.5h8v8h-8zM623.5 460.5h8v8h-8zM623.5 468.5h8v8h-8zM623.5 476.5h8v8h-8z"/><path fill="#d6d6d6" d="M591.5 436.5h8v8h-8zM607.5 436.5h8v8h-8z"/><path fill="#d8d8d8" d="M319.5 436.5h16v8h-16zM599.5 436.5h8v8h-8zM583.5 444.5h8v8h-8zM343.5 452.5h8v8h-8zM343.5 460.5h8v8h-8zM343.5 468.5h8v8h-8zM343.5 476.5h8v8h-8z"/><path fill="#dadada" d="M615.5 444.5h8v8h-8zM303.5 452.5h8v8h-8zM303.5 460.5h8v8h-8zM303.5 468.5h8v8h-8zM303.5 476.5h8v8h-8z"/><path fill="#dcdcdc" d="M335.5 444.5h8v8h-8z"/><path fill="#dedede" d="M311.5 444.5h8v8h-8z"/><path fill="#e0e0e0" d="M583.5 452.5h8v8h-8zM615.5 452.5h8v8h-8zM583.5 460.5h8v8h-8zM615.5 460.5h8v8h-8zM583.5 468.5h8v8h-8zM615.5 468.5h8v8h-8zM583.5 476.5h8v8h-8zM615.5 476.5h8v8h-8z"/><path fill="#e2e2e2" d="M591.5 444.5h8v8h-8zM607.5 444.5h8v8h-8z"/><path fill="#e4e4e4" d="M319.5 444.5h16v8h-16zM599.5 444.5h8v8h-8zM335.5 452.5h8v8h-8zM335.5 460.5h8v8h-8zM335.5 468.5h8v8h-8zM335.5 476.5h8v8h-8z"/><path fill="#e6e6e6" d="M311.5 452.5h8v8h-8zM311.5 460.5h8v8h-8zM311.5 468.5h8v8h-8zM311.5 476.5h8v8h-8z"/><path fill="#e8e8e8" d="M591.5 452.5h8v8h-8zM607.5 452.5h8v8h-8zM591.5 460.5h8v8h-8zM607.5 460.5h8v8h-8zM591.5 468.5h8v8h-8zM607.5 468.5h8v8h-8zM591.5 476.5h8v8h-8zM607.5 476.5h8v8h-8z"/><path fill="#eaeaea" d="M319.5 452.5h16v8h-16zM319.5 460.5h16v8h-16zM319.5 468.5h16v8h-16zM319.5 476.5h16v8h-16z"/><path fill="#ececec" d="M599.5 452.5h8v8h-8zM599.5 460.5h8v8h-8zM599.5 468.5h8v8h-8zM599.5 476.5h8v8h-8z"/></g>
<polygon points="429,-15.5 428,60 419,100 410,150 405,250 409,350 416,420 411,455 411,481 507,481 507,455 504,420 507,350 508,250 502,150 496,100 489,60 487.5,-15.5" fill="#000" filter="url(#blurB)"/>
<path d="M194.5 454.3H428V459.4H194.5zM488 454.3H730.0V459.4H488z" fill="#767676"/>
</g></g>
<rect x="199.5" y="515.0" width="525.0" height="351.0" fill="#fff" stroke="#000" stroke-width="3.8" stroke-linejoin="round"/>
<rect x="751.5" y="515.0" width="524.5" height="351.0" fill="#fff" stroke="#000" stroke-width="3.8" stroke-linejoin="round"/>
<path d="M201.9 809.2 L208.0 810.9 L214.0 808.8 L220.0 809.5 L222.6 804.0 L229.5 797.1 L236.5 789.3 L241.6 779.8 L246.8 772.9 L254.6 757.4 L260.6 738.4 L267.5 714.2 L274.4 691.7 L277.9 680.3 L283.1 657.8 L288.3 631.9 L293.8 619.8 L298.6 597.4 L305.5 572.3 L314.2 555.9 L323.2 547.3 L328.0 558.5 L336.6 573.2 L345.3 591.3 L349.6 609.4 L355.6 630.2 L360.8 656.1 L367.7 687.0 L374.6 707.6 L378.1 726.3 L383.3 741.8 L388.4 757.4 L395.3 791.9 L401.4 821.3M518.8 817.8 L525.7 793.6 L530.9 771.2 L537.0 755.6 L543.0 724.5 L549.5 706.0 L556.8 678.5 L562.0 657.8 L567.2 642.3 L572.4 616.4 L579.3 588.7 L586.2 566.3 L591.4 555.9 L599.1 548.7 L604.3 548.1 L609.5 551.6 L614.7 559.4 L619.0 573.2 L625.9 590.4 L629.4 606.0 L632.8 623.3 L641.4 649.2 L646.6 682.0 L655.3 708.9 L662.2 731.5 L669.1 757.4 L676.0 772.9 L682.9 784.1 L688.1 790.2 L691.5 797.1 L696.7 800.5 L700.2 808.3 L708.8 813.5 L721.8 818.7M752.8 828.0 L756.7 831.2 L761.1 825.5 L767.0 828.0 L776.1 823.4 L786.5 815.1 L796.8 806.0 L804.6 795.7 L809.8 782.7 L815.0 776.2 L820.2 758.1 L827.9 737.4 L835.7 716.6 L839.6 698.5 L846.1 680.3 L852.5 663.5 L859.0 654.4 L865.5 640.2 L874.0 633.7 L881.0 646.6 L888.8 654.4 L897.9 671.3 L905.7 698.5 L909.6 719.2 L913.4 727.0 L918.6 747.7 L926.4 768.4 L931.6 791.8 L938.1 812.5 L944.0 838.4M1074.3 849.3 L1078.7 828.0 L1085.1 807.3 L1090.3 786.6 L1096.8 773.6 L1103.3 750.3 L1108.5 732.2 L1112.4 716.6 L1117.5 706.2 L1124.0 677.7 L1129.2 668.7 L1134.4 653.1 L1140.9 641.5 L1146.0 635.8 L1152.5 635.8 L1157.2 633.7 L1162.9 641.5 L1170.7 657.0 L1178.4 677.7 L1187.5 706.2 L1192.7 716.6 L1201.8 747.7 L1209.5 765.8 L1218.6 787.9 L1227.7 802.1 L1238.0 817.7 L1245.8 821.6 L1251.0 826.7 L1258.8 829.3 L1267.8 831.4 L1273.8 829.3" fill="none" stroke="#0c00e2" stroke-width="3.5" stroke-linejoin="round" stroke-linecap="butt"/>
<rect x="199.5" y="4.5" width="525.5" height="456.5" fill="none" stroke="#000" stroke-width="3.8" stroke-linejoin="round"/>
<rect x="751.5" y="4.5" width="524.5" height="456.5" fill="none" stroke="#000" stroke-width="3.8" stroke-linejoin="round"/>
<rect x="199.5" y="515.0" width="525.0" height="351.0" fill="none" stroke="#000" stroke-width="3.8" stroke-linejoin="round"/>
<rect x="751.5" y="515.0" width="524.5" height="351.0" fill="none" stroke="#000" stroke-width="3.8" stroke-linejoin="round"/>
<path d="M324.1 461.0v-5.0M324.1 4.5v5.0M462.2 461.0v-5.0M462.2 4.5v5.0M600.4 461.0v-5.0M600.4 4.5v5.0M199.5 34.7h5.0M725.0 34.7h-5.0M199.5 152.8h5.0M725.0 152.8h-5.0M199.5 271.3h5.0M725.0 271.3h-5.0M199.5 389.3h5.0M725.0 389.3h-5.0" stroke="#000" stroke-width="3.2" fill="none"/>
<path d="M875.6 461.0v-5.0M875.6 4.5v5.0M1013.8 461.0v-5.0M1013.8 4.5v5.0M1151.8 461.0v-5.0M1151.8 4.5v5.0M751.5 34.7h5.0M1276.0 34.7h-5.0M751.5 152.8h5.0M1276.0 152.8h-5.0M751.5 271.3h5.0M1276.0 271.3h-5.0M751.5 389.3h5.0M1276.0 389.3h-5.0" stroke="#000" stroke-width="3.2" fill="none"/>
<path d="M323.9 866.0v-5.0M323.9 515.0v5.0M462.0 866.0v-5.0M462.0 515.0v5.0M600.1 866.0v-5.0M600.1 515.0v5.0M199.5 581.4h5.0M724.5 581.4h-5.0M199.5 652.5h5.0M724.5 652.5h-5.0M199.5 723.7h5.0M724.5 723.7h-5.0M199.5 794.8h5.0M724.5 794.8h-5.0" stroke="#000" stroke-width="3.2" fill="none"/>
<path d="M875.6 866.0v-5.0M875.6 515.0v5.0M1013.8 866.0v-5.0M1013.8 515.0v5.0M1151.8 866.0v-5.0M1151.8 515.0v5.0M751.5 581.4h5.0M1276.0 581.4h-5.0M751.5 652.5h5.0M1276.0 652.5h-5.0M751.5 723.7h5.0M1276.0 723.7h-5.0M751.5 794.8h5.0M1276.0 794.8h-5.0" stroke="#000" stroke-width="3.2" fill="none"/>
<path d="M213.4 866.0v-2.9M213.4 515.0v2.9M227.2 866.0v-2.9M227.2 515.0v2.9M241.0 866.0v-2.9M241.0 515.0v2.9M254.8 866.0v-2.9M254.8 515.0v2.9M268.7 866.0v-2.9M268.7 515.0v2.9M282.5 866.0v-2.9M282.5 515.0v2.9M296.3 866.0v-2.9M296.3 515.0v2.9M310.1 866.0v-2.9M310.1 515.0v2.9M323.9 866.0v-2.9M323.9 515.0v2.9M337.7 866.0v-2.9M337.7 515.0v2.9M351.5 866.0v-2.9M351.5 515.0v2.9M365.3 866.0v-2.9M365.3 515.0v2.9M379.1 866.0v-2.9M379.1 515.0v2.9M392.9 866.0v-2.9M392.9 515.0v2.9M406.8 866.0v-2.9M406.8 515.0v2.9M420.6 866.0v-2.9M420.6 515.0v2.9M434.4 866.0v-2.9M434.4 515.0v2.9M448.2 866.0v-2.9M448.2 515.0v2.9M462.0 866.0v-2.9M462.0 515.0v2.9M475.8 866.0v-2.9M475.8 515.0v2.9M489.6 866.0v-2.9M489.6 515.0v2.9M503.4 866.0v-2.9M503.4 515.0v2.9M517.2 866.0v-2.9M517.2 515.0v2.9M531.0 866.0v-2.9M531.0 515.0v2.9M544.9 866.0v-2.9M544.9 515.0v2.9M558.7 866.0v-2.9M558.7 515.0v2.9M572.5 866.0v-2.9M572.5 515.0v2.9M586.3 866.0v-2.9M586.3 515.0v2.9M600.1 866.0v-2.9M600.1 515.0v2.9M613.9 866.0v-2.9M613.9 515.0v2.9M627.7 866.0v-2.9M627.7 515.0v2.9M641.5 866.0v-2.9M641.5 515.0v2.9M655.3 866.0v-2.9M655.3 515.0v2.9M669.1 866.0v-2.9M669.1 515.0v2.9M683.0 866.0v-2.9M683.0 515.0v2.9M696.8 866.0v-2.9M696.8 515.0v2.9M710.6 866.0v-2.9M710.6 515.0v2.9M199.5 866.0h2.9M724.5 866.0h-2.9M199.5 858.9h2.9M724.5 858.9h-2.9M199.5 851.8h2.9M724.5 851.8h-2.9M199.5 844.6h2.9M724.5 844.6h-2.9M199.5 837.5h2.9M724.5 837.5h-2.9M199.5 830.4h2.9M724.5 830.4h-2.9M199.5 823.3h2.9M724.5 823.3h-2.9M199.5 816.2h2.9M724.5 816.2h-2.9M199.5 809.0h2.9M724.5 809.0h-2.9M199.5 801.9h2.9M724.5 801.9h-2.9M199.5 794.8h2.9M724.5 794.8h-2.9M199.5 787.7h2.9M724.5 787.7h-2.9M199.5 780.6h2.9M724.5 780.6h-2.9M199.5 773.4h2.9M724.5 773.4h-2.9M199.5 766.3h2.9M724.5 766.3h-2.9M199.5 759.2h2.9M724.5 759.2h-2.9M199.5 752.1h2.9M724.5 752.1h-2.9M199.5 745.0h2.9M724.5 745.0h-2.9M199.5 737.8h2.9M724.5 737.8h-2.9M199.5 730.7h2.9M724.5 730.7h-2.9M199.5 723.6h2.9M724.5 723.6h-2.9M199.5 716.5h2.9M724.5 716.5h-2.9M199.5 709.4h2.9M724.5 709.4h-2.9M199.5 702.2h2.9M724.5 702.2h-2.9M199.5 695.1h2.9M724.5 695.1h-2.9M199.5 688.0h2.9M724.5 688.0h-2.9M199.5 680.9h2.9M724.5 680.9h-2.9M199.5 673.8h2.9M724.5 673.8h-2.9M199.5 666.6h2.9M724.5 666.6h-2.9M199.5 659.5h2.9M724.5 659.5h-2.9M199.5 652.4h2.9M724.5 652.4h-2.9M199.5 645.3h2.9M724.5 645.3h-2.9M199.5 638.2h2.9M724.5 638.2h-2.9M199.5 631.0h2.9M724.5 631.0h-2.9M199.5 623.9h2.9M724.5 623.9h-2.9M199.5 616.8h2.9M724.5 616.8h-2.9M199.5 609.7h2.9M724.5 609.7h-2.9M199.5 602.6h2.9M724.5 602.6h-2.9M199.5 595.4h2.9M724.5 595.4h-2.9M199.5 588.3h2.9M724.5 588.3h-2.9M199.5 581.2h2.9M724.5 581.2h-2.9M199.5 574.1h2.9M724.5 574.1h-2.9M199.5 567.0h2.9M724.5 567.0h-2.9M199.5 559.8h2.9M724.5 559.8h-2.9M199.5 552.7h2.9M724.5 552.7h-2.9M199.5 545.6h2.9M724.5 545.6h-2.9M199.5 538.5h2.9M724.5 538.5h-2.9M199.5 531.4h2.9M724.5 531.4h-2.9M199.5 524.2h2.9M724.5 524.2h-2.9M199.5 517.1h2.9M724.5 517.1h-2.9" stroke="#000" stroke-width="1.6" fill="none"/>
<path d="M765.2 866.0v-2.9M765.2 515.0v2.9M779.0 866.0v-2.9M779.0 515.0v2.9M792.8 866.0v-2.9M792.8 515.0v2.9M806.6 866.0v-2.9M806.6 515.0v2.9M820.4 866.0v-2.9M820.4 515.0v2.9M834.2 866.0v-2.9M834.2 515.0v2.9M848.0 866.0v-2.9M848.0 515.0v2.9M861.8 866.0v-2.9M861.8 515.0v2.9M875.6 866.0v-2.9M875.6 515.0v2.9M889.5 866.0v-2.9M889.5 515.0v2.9M903.3 866.0v-2.9M903.3 515.0v2.9M917.1 866.0v-2.9M917.1 515.0v2.9M930.9 866.0v-2.9M930.9 515.0v2.9M944.7 866.0v-2.9M944.7 515.0v2.9M958.5 866.0v-2.9M958.5 515.0v2.9M972.3 866.0v-2.9M972.3 515.0v2.9M986.1 866.0v-2.9M986.1 515.0v2.9M999.9 866.0v-2.9M999.9 515.0v2.9M1013.8 866.0v-2.9M1013.8 515.0v2.9M1027.6 866.0v-2.9M1027.6 515.0v2.9M1041.4 866.0v-2.9M1041.4 515.0v2.9M1055.2 866.0v-2.9M1055.2 515.0v2.9M1069.0 866.0v-2.9M1069.0 515.0v2.9M1082.8 866.0v-2.9M1082.8 515.0v2.9M1096.6 866.0v-2.9M1096.6 515.0v2.9M1110.4 866.0v-2.9M1110.4 515.0v2.9M1124.2 866.0v-2.9M1124.2 515.0v2.9M1138.0 866.0v-2.9M1138.0 515.0v2.9M1151.8 866.0v-2.9M1151.8 515.0v2.9M1165.7 866.0v-2.9M1165.7 515.0v2.9M1179.5 866.0v-2.9M1179.5 515.0v2.9M1193.3 866.0v-2.9M1193.3 515.0v2.9M1207.1 866.0v-2.9M1207.1 515.0v2.9M1220.9 866.0v-2.9M1220.9 515.0v2.9M1234.7 866.0v-2.9M1234.7 515.0v2.9M1248.5 866.0v-2.9M1248.5 515.0v2.9M1262.3 866.0v-2.9M1262.3 515.0v2.9M751.5 866.0h2.9M1276.0 866.0h-2.9M751.5 858.9h2.9M1276.0 858.9h-2.9M751.5 851.8h2.9M1276.0 851.8h-2.9M751.5 844.6h2.9M1276.0 844.6h-2.9M751.5 837.5h2.9M1276.0 837.5h-2.9M751.5 830.4h2.9M1276.0 830.4h-2.9M751.5 823.3h2.9M1276.0 823.3h-2.9M751.5 816.2h2.9M1276.0 816.2h-2.9M751.5 809.0h2.9M1276.0 809.0h-2.9M751.5 801.9h2.9M1276.0 801.9h-2.9M751.5 794.8h2.9M1276.0 794.8h-2.9M751.5 787.7h2.9M1276.0 787.7h-2.9M751.5 780.6h2.9M1276.0 780.6h-2.9M751.5 773.4h2.9M1276.0 773.4h-2.9M751.5 766.3h2.9M1276.0 766.3h-2.9M751.5 759.2h2.9M1276.0 759.2h-2.9M751.5 752.1h2.9M1276.0 752.1h-2.9M751.5 745.0h2.9M1276.0 745.0h-2.9M751.5 737.8h2.9M1276.0 737.8h-2.9M751.5 730.7h2.9M1276.0 730.7h-2.9M751.5 723.6h2.9M1276.0 723.6h-2.9M751.5 716.5h2.9M1276.0 716.5h-2.9M751.5 709.4h2.9M1276.0 709.4h-2.9M751.5 702.2h2.9M1276.0 702.2h-2.9M751.5 695.1h2.9M1276.0 695.1h-2.9M751.5 688.0h2.9M1276.0 688.0h-2.9M751.5 680.9h2.9M1276.0 680.9h-2.9M751.5 673.8h2.9M1276.0 673.8h-2.9M751.5 666.6h2.9M1276.0 666.6h-2.9M751.5 659.5h2.9M1276.0 659.5h-2.9M751.5 652.4h2.9M1276.0 652.4h-2.9M751.5 645.3h2.9M1276.0 645.3h-2.9M751.5 638.2h2.9M1276.0 638.2h-2.9M751.5 631.0h2.9M1276.0 631.0h-2.9M751.5 623.9h2.9M1276.0 623.9h-2.9M751.5 616.8h2.9M1276.0 616.8h-2.9M751.5 609.7h2.9M1276.0 609.7h-2.9M751.5 602.6h2.9M1276.0 602.6h-2.9M751.5 595.4h2.9M1276.0 595.4h-2.9M751.5 588.3h2.9M1276.0 588.3h-2.9M751.5 581.2h2.9M1276.0 581.2h-2.9M751.5 574.1h2.9M1276.0 574.1h-2.9M751.5 567.0h2.9M1276.0 567.0h-2.9M751.5 559.8h2.9M1276.0 559.8h-2.9M751.5 552.7h2.9M1276.0 552.7h-2.9M751.5 545.6h2.9M1276.0 545.6h-2.9M751.5 538.5h2.9M1276.0 538.5h-2.9M751.5 531.4h2.9M1276.0 531.4h-2.9M751.5 524.2h2.9M1276.0 524.2h-2.9M751.5 517.1h2.9M1276.0 517.1h-2.9" stroke="#000" stroke-width="1.6" fill="none"/>
<text x="187.5" y="53.900000000000006" font-size="54" text-anchor="end" >0.8</text>
<text x="187.5" y="172.0" font-size="54" text-anchor="end" >0.6</text>
<text x="187.5" y="290.5" font-size="54" text-anchor="end" >0.4</text>
<text x="187.5" y="408.5" font-size="54" text-anchor="end" >0.2</text>
<text x="185.5" y="600.6" font-size="54" text-anchor="end" >800</text>
<text x="185.5" y="671.7" font-size="54" text-anchor="end" >600</text>
<text x="185.5" y="742.9000000000001" font-size="54" text-anchor="end" >400</text>
<text x="185.5" y="814.0" font-size="54" text-anchor="end" >200</text>
<text x="185.5" y="886.2" font-size="54" text-anchor="end" >0</text>
<text x="313.9" y="927" font-size="54" text-anchor="middle" >-0.1</text>
<text x="462.0" y="927" font-size="54" text-anchor="middle" >0</text>
<text x="600.3000000000001" y="927" font-size="54" text-anchor="middle" >0.1</text>
<text x="865.65" y="927" font-size="54" text-anchor="middle" >-0.1</text>
<text x="1013.75" y="927" font-size="54" text-anchor="middle" >0</text>
<text x="1152.05" y="927" font-size="54" text-anchor="middle" >0.1</text>
<text x="462.5" y="507.6" font-size="54" text-anchor="middle" >0.50 V</text>
<text x="1012.7" y="507.6" font-size="54" text-anchor="middle" >1.37 V</text>
<text x="220.9" y="56" font-size="54" text-anchor="start" font-weight="bold" fill="#fff">(a)</text>
<text x="772" y="56" font-size="54" text-anchor="start" font-weight="bold" fill="#fff">(b)</text>
<text x="221.7" y="565.2" font-size="53" text-anchor="start" >(c)</text>
<text x="772.5" y="565.2" font-size="53" text-anchor="start" >(d)</text>
<text transform="translate(386.5 1005.5)" font-size="54"><tspan x="0" y="0" font-style="italic">q</tspan><tspan x="29.25" y="26.5" font-style="italic" font-size="41">y</tspan><tspan x="62.4" y="0">/</tspan><tspan x="91.5" y="0">Å</tspan><tspan x="127.15" y="-26" font-size="41">-</tspan><tspan x="143" y="-26" font-size="41">1</tspan></text>
<text transform="translate(937.5 1005.5)" font-size="54"><tspan x="0" y="0" font-style="italic">q</tspan><tspan x="29.25" y="26.5" font-style="italic" font-size="41">y</tspan><tspan x="62.4" y="0">/</tspan><tspan x="91.5" y="0">Å</tspan><tspan x="127.15" y="-26" font-size="41">-</tspan><tspan x="143" y="-26" font-size="41">1</tspan></text>
<text transform="translate(58 308) rotate(-90)" font-size="54"><tspan x="0" y="0" font-style="italic">q</tspan><tspan x="29.25" y="26.5" font-style="italic" font-size="41">z</tspan><tspan x="62.4" y="0">/</tspan><tspan x="91.5" y="0">Å</tspan><tspan x="127.15" y="-26" font-size="41">-</tspan><tspan x="143" y="-26" font-size="41">1</tspan></text>
<text transform="translate(67 820.9) rotate(-90)" font-size="53"><tspan x="0" y="0" font-style="italic">I</tspan><tspan x="25" y="0">/</tspan><tspan x="58.6" y="0">arb. units</tspan></text></svg>
</body></html>
